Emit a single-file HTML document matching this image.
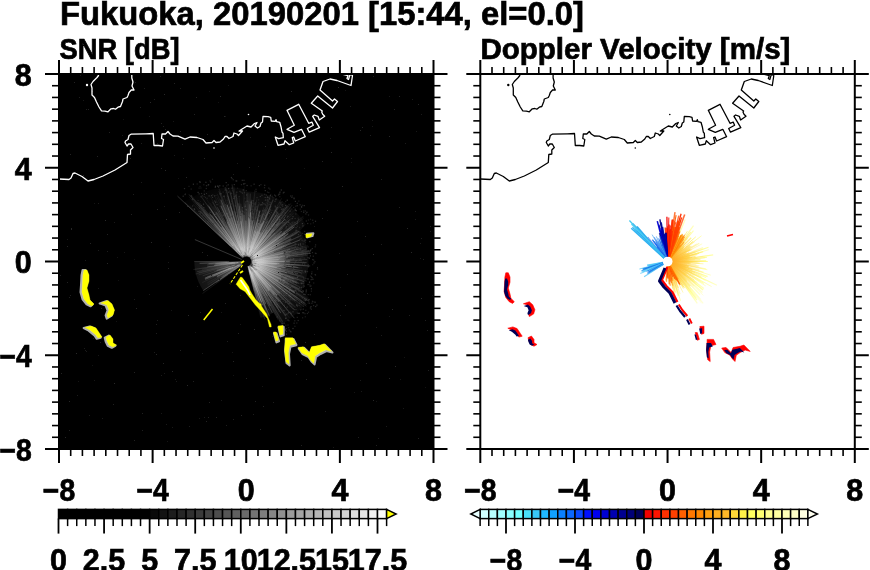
<!DOCTYPE html><html><head><meta charset="utf-8"><style>html,body{margin:0;padding:0;background:#fff;}svg{display:block;will-change:transform}text{font-family:"Liberation Sans",sans-serif;font-weight:bold;fill:#000;stroke:#000;stroke-width:0.7px}</style></head><body>
<svg width="870" height="570" viewBox="0 0 870 570">
<rect x="59.0" y="74.0" width="374.5" height="375.0" fill="#000"/>
<defs><radialGradient id="hz" cx="246.4" cy="261.5" r="95" gradientUnits="userSpaceOnUse"><stop offset="0" stop-color="#606060" stop-opacity="0.6"/><stop offset="0.3" stop-color="#484848" stop-opacity="0.45"/><stop offset="0.65" stop-color="#303030" stop-opacity="0.3"/><stop offset="1" stop-color="#202020" stop-opacity="0"/></radialGradient><radialGradient id="st" cx="246.4" cy="261.5" r="100" gradientUnits="userSpaceOnUse"><stop offset="0" stop-color="#f0f0f0"/><stop offset="0.3" stop-color="#b8b8b8"/><stop offset="0.65" stop-color="#707070"/><stop offset="1" stop-color="#383838"/></radialGradient></defs><polygon points="246.4,261.5 260.4,317.8 262.4,317.3 264.3,316.7 266.2,316.0 268.1,315.3 270.0,314.5 271.8,313.6 273.6,312.7 282.4,323.9 284.6,322.6 286.7,321.2 288.7,319.7 290.7,318.2 292.7,316.7 294.6,315.0 296.4,313.3 298.2,311.5 299.9,309.7 301.6,307.8 303.1,305.8 304.6,303.8 306.1,301.8 307.5,299.7 308.8,297.5 301.1,290.6 302.1,288.7 303.0,286.7 303.9,284.7 304.7,282.7 305.4,280.7 306.0,278.6 306.6,276.5 307.0,274.4 307.5,272.3 307.8,270.1 308.1,268.0 308.2,265.8 308.4,263.7 308.4,261.5 308.4,259.3 308.2,257.2 308.1,255.0 307.8,252.9 307.5,250.7 307.0,248.6 306.6,246.5 306.0,244.4 305.4,242.3 304.7,240.3 303.9,238.3 303.0,236.3 302.1,234.3 301.1,232.4 300.1,230.5 305.8,224.4 304.4,222.4 303.0,220.4 301.6,218.4 300.0,216.5 298.4,214.7 296.8,212.9 295.0,211.1 293.2,209.5 291.4,207.9 289.5,206.3 287.5,204.9 285.5,203.5 283.5,202.1 281.4,200.9 279.3,199.7 277.1,198.6 274.9,197.6 272.6,196.6 270.3,195.7 268.0,194.9 265.7,194.2 263.3,193.6 261.0,193.0 258.6,192.6 256.1,192.2 253.7,191.9 251.3,191.7 248.8,191.5 246.4,191.5 243.9,188.9 241.3,188.5 238.7,188.1 236.0,187.8 233.4,187.6 230.7,187.6 228.0,187.6 225.2,187.7 222.5,187.9 219.7,188.2 217.0,188.6 214.2,189.1 211.4,189.8 208.7,190.5 205.9,191.4 203.2,192.3 200.4,193.4 197.7,194.5 195.1,195.8 192.4,197.2 189.8,198.6 187.2,200.2 184.7,201.9" fill="url(#hz)"/><polygon points="246.4,261.5 194.4,261.5 194.4,263.3 194.5,265.1 194.7,266.9 194.9,268.7 195.2,270.5 195.5,272.3 195.9,274.1 196.4,275.8 196.9,277.6 197.5,279.3 198.2,281.0 198.9,282.7 199.7,284.3 200.5,285.9 201.4,287.5 202.3,289.1 203.3,290.6" fill="url(#hz)"/><g stroke="url(#st)" stroke-linecap="butt"><line x1="249.0" y1="271.4" x2="254.2" y2="291.3" stroke="url(#st)" stroke-width="0.7" stroke-opacity="0.23"/><line x1="249.1" y1="271.6" x2="257.0" y2="301.9" stroke="url(#st)" stroke-width="0.6" stroke-opacity="0.12"/><line x1="249.0" y1="270.9" x2="261.2" y2="314.7" stroke="url(#st)" stroke-width="0.5" stroke-opacity="0.21"/><line x1="248.4" y1="268.6" x2="260.3" y2="310.8" stroke="url(#st)" stroke-width="1.1" stroke-opacity="0.12"/><line x1="248.7" y1="269.1" x2="254.1" y2="287.4" stroke="url(#st)" stroke-width="0.8" stroke-opacity="0.14"/><line x1="247.8" y1="266.5" x2="257.6" y2="300.7" stroke="url(#st)" stroke-width="0.8" stroke-opacity="0.23"/><line x1="248.3" y1="267.8" x2="256.3" y2="294.2" stroke="url(#st)" stroke-width="0.8" stroke-opacity="0.16"/><line x1="249.2" y1="270.6" x2="254.3" y2="287.1" stroke="url(#st)" stroke-width="0.9" stroke-opacity="0.14"/><line x1="251.1" y1="276.2" x2="264.8" y2="319.3" stroke="url(#st)" stroke-width="0.7" stroke-opacity="0.35"/><line x1="250.9" y1="275.3" x2="262.1" y2="309.9" stroke="url(#st)" stroke-width="1.1" stroke-opacity="0.32"/><line x1="249.5" y1="270.3" x2="258.5" y2="296.1" stroke="url(#st)" stroke-width="1.1" stroke-opacity="0.23"/><line x1="248.1" y1="266.5" x2="261.4" y2="305.6" stroke="url(#st)" stroke-width="1.1" stroke-opacity="0.2"/><line x1="249.3" y1="269.5" x2="257.4" y2="291.7" stroke="url(#st)" stroke-width="1.0" stroke-opacity="0.18"/><line x1="249.6" y1="270.1" x2="260.6" y2="300.4" stroke="url(#st)" stroke-width="0.9" stroke-opacity="0.19"/><line x1="248.2" y1="266.4" x2="261.4" y2="302.0" stroke="url(#st)" stroke-width="1.0" stroke-opacity="0.55"/><line x1="249.4" y1="269.6" x2="262.7" y2="305.3" stroke="url(#st)" stroke-width="0.9" stroke-opacity="0.55"/><line x1="250.4" y1="271.4" x2="266.2" y2="310.6" stroke="url(#st)" stroke-width="0.7" stroke-opacity="0.24"/><line x1="250.8" y1="272.5" x2="268.2" y2="316.6" stroke="url(#st)" stroke-width="0.7" stroke-opacity="0.26"/><line x1="248.4" y1="266.2" x2="269.4" y2="316.3" stroke="url(#st)" stroke-width="1.1" stroke-opacity="0.47"/><line x1="251.5" y1="273.9" x2="266.3" y2="309.4" stroke="url(#st)" stroke-width="0.9" stroke-opacity="0.2"/><line x1="250.3" y1="270.6" x2="257.6" y2="287.2" stroke="url(#st)" stroke-width="0.6" stroke-opacity="0.23"/><line x1="249.6" y1="268.9" x2="263.4" y2="301.0" stroke="url(#st)" stroke-width="0.9" stroke-opacity="0.29"/><line x1="250.2" y1="270.0" x2="265.6" y2="304.8" stroke="url(#st)" stroke-width="0.7" stroke-opacity="0.13"/><line x1="251.8" y1="273.3" x2="265.7" y2="303.7" stroke="url(#st)" stroke-width="1.1" stroke-opacity="0.42"/><line x1="251.1" y1="271.3" x2="261.4" y2="293.1" stroke="url(#st)" stroke-width="0.6" stroke-opacity="0.12"/><line x1="250.2" y1="269.7" x2="257.7" y2="285.6" stroke="url(#st)" stroke-width="0.6" stroke-opacity="0.3"/><line x1="248.8" y1="266.5" x2="263.0" y2="295.8" stroke="url(#st)" stroke-width="0.9" stroke-opacity="0.13"/><line x1="250.8" y1="270.5" x2="262.1" y2="293.5" stroke="url(#st)" stroke-width="0.7" stroke-opacity="0.22"/><line x1="249.6" y1="267.8" x2="258.6" y2="285.5" stroke="url(#st)" stroke-width="0.6" stroke-opacity="0.13"/><line x1="251.3" y1="271.2" x2="272.3" y2="312.8" stroke="url(#st)" stroke-width="0.9" stroke-opacity="0.42"/><line x1="248.8" y1="266.0" x2="258.8" y2="285.3" stroke="url(#st)" stroke-width="1.0" stroke-opacity="0.13"/><line x1="252.0" y1="272.0" x2="270.2" y2="306.2" stroke="url(#st)" stroke-width="0.7" stroke-opacity="0.55"/><line x1="252.1" y1="272.0" x2="278.4" y2="320.2" stroke="url(#st)" stroke-width="1.0" stroke-opacity="0.19"/><line x1="250.6" y1="269.1" x2="274.1" y2="311.6" stroke="url(#st)" stroke-width="0.5" stroke-opacity="0.16"/><line x1="255.3" y1="277.2" x2="283.0" y2="326.0" stroke="url(#st)" stroke-width="1.1" stroke-opacity="0.16"/><line x1="254.3" y1="275.3" x2="282.5" y2="324.9" stroke="url(#st)" stroke-width="0.7" stroke-opacity="0.12"/><line x1="249.2" y1="266.2" x2="282.6" y2="321.9" stroke="url(#st)" stroke-width="1.2" stroke-opacity="0.27"/><line x1="252.5" y1="271.7" x2="266.9" y2="295.6" stroke="url(#st)" stroke-width="1.0" stroke-opacity="0.24"/><line x1="250.8" y1="268.7" x2="271.7" y2="303.1" stroke="url(#st)" stroke-width="1.0" stroke-opacity="0.2"/><line x1="249.5" y1="266.5" x2="267.8" y2="296.2" stroke="url(#st)" stroke-width="0.7" stroke-opacity="0.23"/><line x1="253.5" y1="272.5" x2="271.6" y2="300.5" stroke="url(#st)" stroke-width="0.5" stroke-opacity="0.14"/><line x1="254.1" y1="273.4" x2="271.6" y2="300.7" stroke="url(#st)" stroke-width="0.7" stroke-opacity="0.14"/><line x1="254.9" y1="274.2" x2="280.6" y2="312.7" stroke="url(#st)" stroke-width="0.7" stroke-opacity="0.47"/><line x1="252.5" y1="270.7" x2="280.9" y2="313.1" stroke="url(#st)" stroke-width="0.7" stroke-opacity="0.36"/><line x1="249.9" y1="266.6" x2="266.9" y2="291.2" stroke="url(#st)" stroke-width="0.6" stroke-opacity="0.38"/><line x1="254.7" y1="273.8" x2="279.1" y2="309.8" stroke="url(#st)" stroke-width="0.7" stroke-opacity="0.16"/><line x1="254.2" y1="272.4" x2="287.0" y2="318.3" stroke="url(#st)" stroke-width="1.1" stroke-opacity="0.13"/><line x1="249.9" y1="266.6" x2="278.4" y2="307.7" stroke="url(#st)" stroke-width="0.6" stroke-opacity="0.46"/><line x1="255.8" y1="274.5" x2="285.4" y2="315.3" stroke="url(#st)" stroke-width="0.9" stroke-opacity="0.4"/><line x1="252.6" y1="270.1" x2="274.9" y2="301.0" stroke="url(#st)" stroke-width="0.6" stroke-opacity="0.15"/><line x1="254.3" y1="271.8" x2="289.4" y2="317.9" stroke="url(#st)" stroke-width="0.8" stroke-opacity="0.15"/><line x1="255.9" y1="274.4" x2="285.9" y2="314.9" stroke="url(#st)" stroke-width="1.0" stroke-opacity="0.12"/><line x1="253.5" y1="270.7" x2="269.1" y2="291.2" stroke="url(#st)" stroke-width="0.7" stroke-opacity="0.56"/><line x1="250.2" y1="266.4" x2="277.2" y2="301.6" stroke="url(#st)" stroke-width="0.7" stroke-opacity="0.37"/><line x1="253.7" y1="270.6" x2="269.4" y2="290.3" stroke="url(#st)" stroke-width="1.2" stroke-opacity="0.49"/><line x1="251.0" y1="267.2" x2="274.6" y2="296.7" stroke="url(#st)" stroke-width="0.6" stroke-opacity="0.31"/><line x1="249.7" y1="265.4" x2="268.4" y2="287.6" stroke="url(#st)" stroke-width="0.7" stroke-opacity="0.28"/><line x1="251.6" y1="267.9" x2="279.2" y2="301.6" stroke="url(#st)" stroke-width="1.1" stroke-opacity="0.54"/><line x1="250.7" y1="266.6" x2="294.4" y2="318.2" stroke="url(#st)" stroke-width="0.9" stroke-opacity="0.55"/><line x1="254.7" y1="271.1" x2="282.8" y2="303.8" stroke="url(#st)" stroke-width="0.7" stroke-opacity="0.25"/><line x1="251.2" y1="267.0" x2="276.4" y2="295.9" stroke="url(#st)" stroke-width="0.7" stroke-opacity="0.56"/><line x1="254.2" y1="270.3" x2="280.7" y2="300.2" stroke="url(#st)" stroke-width="1.2" stroke-opacity="0.19"/><line x1="251.8" y1="267.4" x2="277.1" y2="295.3" stroke="url(#st)" stroke-width="1.1" stroke-opacity="0.48"/><line x1="251.8" y1="267.4" x2="277.1" y2="295.1" stroke="url(#st)" stroke-width="0.9" stroke-opacity="0.28"/><line x1="249.9" y1="265.3" x2="275.7" y2="292.9" stroke="url(#st)" stroke-width="0.6" stroke-opacity="0.26"/><line x1="250.2" y1="265.5" x2="270.8" y2="287.3" stroke="url(#st)" stroke-width="0.7" stroke-opacity="0.4"/><line x1="256.3" y1="271.8" x2="283.6" y2="300.2" stroke="url(#st)" stroke-width="0.9" stroke-opacity="0.4"/><line x1="254.6" y1="270.0" x2="271.2" y2="287.3" stroke="url(#st)" stroke-width="1.0" stroke-opacity="0.56"/><line x1="253.0" y1="268.1" x2="294.2" y2="309.8" stroke="url(#st)" stroke-width="0.9" stroke-opacity="0.5"/><line x1="255.6" y1="270.8" x2="278.1" y2="293.5" stroke="url(#st)" stroke-width="1.1" stroke-opacity="0.12"/><line x1="256.0" y1="270.7" x2="279.7" y2="293.4" stroke="url(#st)" stroke-width="1.1" stroke-opacity="0.44"/><line x1="256.4" y1="271.2" x2="292.6" y2="306.7" stroke="url(#st)" stroke-width="0.8" stroke-opacity="0.13"/><line x1="256.2" y1="270.7" x2="292.4" y2="305.0" stroke="url(#st)" stroke-width="0.5" stroke-opacity="0.54"/><line x1="255.4" y1="270.0" x2="295.5" y2="307.5" stroke="url(#st)" stroke-width="1.1" stroke-opacity="0.21"/><line x1="252.6" y1="267.1" x2="282.9" y2="294.9" stroke="url(#st)" stroke-width="0.5" stroke-opacity="0.31"/><line x1="254.3" y1="268.8" x2="283.5" y2="295.6" stroke="url(#st)" stroke-width="0.7" stroke-opacity="0.13"/><line x1="251.6" y1="266.1" x2="274.9" y2="286.3" stroke="url(#st)" stroke-width="0.8" stroke-opacity="0.19"/><line x1="252.2" y1="266.7" x2="290.3" y2="300.7" stroke="url(#st)" stroke-width="0.9" stroke-opacity="0.23"/><line x1="254.3" y1="268.2" x2="292.5" y2="300.6" stroke="url(#st)" stroke-width="1.0" stroke-opacity="0.15"/><line x1="254.1" y1="268.1" x2="287.2" y2="296.6" stroke="url(#st)" stroke-width="0.8" stroke-opacity="0.26"/><line x1="260.3" y1="273.1" x2="301.4" y2="307.3" stroke="url(#st)" stroke-width="1.0" stroke-opacity="0.12"/><line x1="253.1" y1="267.0" x2="273.9" y2="283.9" stroke="url(#st)" stroke-width="0.6" stroke-opacity="0.38"/><line x1="253.8" y1="267.3" x2="301.6" y2="305.4" stroke="url(#st)" stroke-width="1.1" stroke-opacity="0.18"/><line x1="257.5" y1="270.4" x2="295.4" y2="300.6" stroke="url(#st)" stroke-width="1.1" stroke-opacity="0.48"/><line x1="257.0" y1="269.8" x2="304.6" y2="307.0" stroke="url(#st)" stroke-width="0.7" stroke-opacity="0.14"/><line x1="257.1" y1="269.9" x2="291.2" y2="296.7" stroke="url(#st)" stroke-width="1.0" stroke-opacity="0.35"/><line x1="254.3" y1="267.5" x2="284.2" y2="290.1" stroke="url(#st)" stroke-width="1.0" stroke-opacity="0.12"/><line x1="260.1" y1="271.7" x2="306.3" y2="306.2" stroke="url(#st)" stroke-width="0.7" stroke-opacity="0.49"/><line x1="252.1" y1="265.6" x2="306.4" y2="304.6" stroke="url(#st)" stroke-width="1.1" stroke-opacity="0.32"/><line x1="255.0" y1="267.7" x2="297.4" y2="297.9" stroke="url(#st)" stroke-width="1.2" stroke-opacity="0.19"/><line x1="255.2" y1="267.8" x2="301.1" y2="300.3" stroke="url(#st)" stroke-width="0.7" stroke-opacity="0.13"/><line x1="261.7" y1="272.4" x2="304.8" y2="303.0" stroke="url(#st)" stroke-width="0.9" stroke-opacity="0.19"/><line x1="252.4" y1="265.6" x2="277.4" y2="282.7" stroke="url(#st)" stroke-width="1.0" stroke-opacity="0.12"/><line x1="253.5" y1="266.4" x2="279.8" y2="284.5" stroke="url(#st)" stroke-width="0.9" stroke-opacity="0.29"/><line x1="252.9" y1="265.8" x2="303.5" y2="299.2" stroke="url(#st)" stroke-width="0.9" stroke-opacity="0.15"/><line x1="253.0" y1="265.8" x2="294.7" y2="293.0" stroke="url(#st)" stroke-width="1.1" stroke-opacity="0.41"/><line x1="257.5" y1="268.5" x2="309.3" y2="301.4" stroke="url(#st)" stroke-width="1.1" stroke-opacity="0.39"/><line x1="254.3" y1="266.5" x2="294.5" y2="292.2" stroke="url(#st)" stroke-width="0.6" stroke-opacity="0.41"/><line x1="255.5" y1="267.0" x2="278.4" y2="281.0" stroke="url(#st)" stroke-width="1.2" stroke-opacity="0.38"/><line x1="252.4" y1="265.2" x2="309.9" y2="300.3" stroke="url(#st)" stroke-width="0.9" stroke-opacity="0.16"/><line x1="254.0" y1="266.0" x2="293.0" y2="289.0" stroke="url(#st)" stroke-width="0.5" stroke-opacity="0.21"/><line x1="253.4" y1="265.7" x2="291.0" y2="287.9" stroke="url(#st)" stroke-width="1.0" stroke-opacity="0.33"/><line x1="256.8" y1="267.4" x2="293.0" y2="288.1" stroke="url(#st)" stroke-width="0.6" stroke-opacity="0.12"/><line x1="255.4" y1="266.5" x2="285.1" y2="283.2" stroke="url(#st)" stroke-width="1.1" stroke-opacity="0.24"/><line x1="256.0" y1="266.7" x2="303.2" y2="292.3" stroke="url(#st)" stroke-width="0.8" stroke-opacity="0.37"/><line x1="254.2" y1="265.8" x2="302.9" y2="292.9" stroke="url(#st)" stroke-width="0.9" stroke-opacity="0.25"/><line x1="250.8" y1="263.9" x2="282.9" y2="280.8" stroke="url(#st)" stroke-width="0.8" stroke-opacity="0.19"/><line x1="257.0" y1="267.1" x2="299.5" y2="289.3" stroke="url(#st)" stroke-width="1.1" stroke-opacity="0.37"/><line x1="257.0" y1="266.9" x2="287.7" y2="282.4" stroke="url(#st)" stroke-width="1.0" stroke-opacity="0.3"/><line x1="255.7" y1="266.2" x2="284.8" y2="280.9" stroke="url(#st)" stroke-width="1.2" stroke-opacity="0.4"/><line x1="259.1" y1="267.6" x2="299.9" y2="287.3" stroke="url(#st)" stroke-width="0.9" stroke-opacity="0.17"/><line x1="255.7" y1="266.0" x2="280.4" y2="277.9" stroke="url(#st)" stroke-width="0.9" stroke-opacity="0.13"/><line x1="256.1" y1="266.1" x2="299.7" y2="286.6" stroke="url(#st)" stroke-width="0.5" stroke-opacity="0.24"/><line x1="255.2" y1="265.6" x2="296.7" y2="285.2" stroke="url(#st)" stroke-width="1.0" stroke-opacity="0.12"/><line x1="259.0" y1="267.2" x2="289.1" y2="280.6" stroke="url(#st)" stroke-width="0.8" stroke-opacity="0.33"/><line x1="252.9" y1="264.4" x2="292.3" y2="282.4" stroke="url(#st)" stroke-width="1.1" stroke-opacity="0.15"/><line x1="255.7" y1="265.5" x2="274.6" y2="273.7" stroke="url(#st)" stroke-width="0.8" stroke-opacity="0.24"/><line x1="252.7" y1="264.2" x2="297.2" y2="283.3" stroke="url(#st)" stroke-width="1.0" stroke-opacity="0.42"/><line x1="255.3" y1="265.2" x2="281.4" y2="276.1" stroke="url(#st)" stroke-width="0.9" stroke-opacity="0.13"/><line x1="260.2" y1="267.2" x2="299.3" y2="283.5" stroke="url(#st)" stroke-width="0.7" stroke-opacity="0.54"/><line x1="259.5" y1="266.8" x2="296.7" y2="281.8" stroke="url(#st)" stroke-width="1.1" stroke-opacity="0.29"/><line x1="254.2" y1="264.6" x2="283.4" y2="275.9" stroke="url(#st)" stroke-width="1.0" stroke-opacity="0.14"/><line x1="252.7" y1="263.8" x2="294.4" y2="279.2" stroke="url(#st)" stroke-width="0.8" stroke-opacity="0.5"/><line x1="257.3" y1="265.7" x2="297.8" y2="281.1" stroke="url(#st)" stroke-width="0.9" stroke-opacity="0.13"/><line x1="255.5" y1="264.8" x2="277.5" y2="272.7" stroke="url(#st)" stroke-width="1.0" stroke-opacity="0.15"/><line x1="258.5" y1="265.9" x2="297.7" y2="280.1" stroke="url(#st)" stroke-width="0.6" stroke-opacity="0.19"/><line x1="252.0" y1="263.4" x2="290.1" y2="276.6" stroke="url(#st)" stroke-width="0.5" stroke-opacity="0.28"/><line x1="253.6" y1="264.0" x2="304.0" y2="281.6" stroke="url(#st)" stroke-width="1.0" stroke-opacity="0.42"/><line x1="258.6" y1="265.5" x2="307.0" y2="281.3" stroke="url(#st)" stroke-width="1.1" stroke-opacity="0.13"/><line x1="252.1" y1="263.4" x2="297.4" y2="278.1" stroke="url(#st)" stroke-width="0.8" stroke-opacity="0.18"/><line x1="252.7" y1="263.4" x2="279.1" y2="271.4" stroke="url(#st)" stroke-width="0.8" stroke-opacity="0.27"/><line x1="256.1" y1="264.5" x2="280.6" y2="272.1" stroke="url(#st)" stroke-width="0.9" stroke-opacity="0.49"/><line x1="251.8" y1="263.0" x2="308.8" y2="279.3" stroke="url(#st)" stroke-width="1.1" stroke-opacity="0.17"/><line x1="255.9" y1="264.2" x2="287.0" y2="273.0" stroke="url(#st)" stroke-width="0.8" stroke-opacity="0.47"/><line x1="252.9" y1="263.2" x2="300.6" y2="275.9" stroke="url(#st)" stroke-width="0.5" stroke-opacity="0.13"/><line x1="251.8" y1="263.0" x2="297.2" y2="275.4" stroke="url(#st)" stroke-width="0.6" stroke-opacity="0.22"/><line x1="261.6" y1="265.5" x2="303.6" y2="276.6" stroke="url(#st)" stroke-width="0.5" stroke-opacity="0.44"/><line x1="252.8" y1="263.2" x2="274.9" y2="269.0" stroke="url(#st)" stroke-width="0.6" stroke-opacity="0.12"/><line x1="258.7" y1="264.4" x2="296.6" y2="273.4" stroke="url(#st)" stroke-width="1.1" stroke-opacity="0.32"/><line x1="256.5" y1="263.8" x2="287.7" y2="271.1" stroke="url(#st)" stroke-width="0.9" stroke-opacity="0.15"/><line x1="256.8" y1="263.8" x2="275.8" y2="268.0" stroke="url(#st)" stroke-width="0.7" stroke-opacity="0.28"/><line x1="256.2" y1="263.8" x2="293.9" y2="272.4" stroke="url(#st)" stroke-width="0.7" stroke-opacity="0.2"/><line x1="257.4" y1="263.8" x2="281.0" y2="268.7" stroke="url(#st)" stroke-width="1.0" stroke-opacity="0.35"/><line x1="259.2" y1="264.1" x2="300.8" y2="272.5" stroke="url(#st)" stroke-width="0.7" stroke-opacity="0.55"/><line x1="257.4" y1="263.5" x2="279.4" y2="267.6" stroke="url(#st)" stroke-width="1.1" stroke-opacity="0.12"/><line x1="256.3" y1="263.4" x2="277.1" y2="267.4" stroke="url(#st)" stroke-width="0.8" stroke-opacity="0.56"/><line x1="254.4" y1="262.9" x2="275.4" y2="266.6" stroke="url(#st)" stroke-width="0.6" stroke-opacity="0.19"/><line x1="260.7" y1="264.1" x2="299.8" y2="271.2" stroke="url(#st)" stroke-width="0.9" stroke-opacity="0.12"/><line x1="252.3" y1="262.5" x2="303.3" y2="270.9" stroke="url(#st)" stroke-width="0.8" stroke-opacity="0.36"/><line x1="252.4" y1="262.4" x2="285.5" y2="267.5" stroke="url(#st)" stroke-width="1.1" stroke-opacity="0.45"/><line x1="254.6" y1="262.7" x2="285.2" y2="267.1" stroke="url(#st)" stroke-width="0.9" stroke-opacity="0.17"/><line x1="257.6" y1="263.0" x2="286.5" y2="266.9" stroke="url(#st)" stroke-width="0.9" stroke-opacity="0.12"/><line x1="256.0" y1="262.6" x2="298.2" y2="267.6" stroke="url(#st)" stroke-width="1.0" stroke-opacity="0.43"/><line x1="257.1" y1="262.8" x2="300.0" y2="267.9" stroke="url(#st)" stroke-width="1.1" stroke-opacity="0.16"/><line x1="253.9" y1="262.3" x2="279.9" y2="265.2" stroke="url(#st)" stroke-width="0.6" stroke-opacity="0.17"/><line x1="251.8" y1="262.1" x2="295.4" y2="266.6" stroke="url(#st)" stroke-width="1.0" stroke-opacity="0.16"/><line x1="254.1" y1="262.2" x2="285.2" y2="265.2" stroke="url(#st)" stroke-width="1.0" stroke-opacity="0.23"/><line x1="252.8" y1="262.1" x2="293.7" y2="265.6" stroke="url(#st)" stroke-width="0.7" stroke-opacity="0.17"/><line x1="257.3" y1="262.4" x2="276.8" y2="263.9" stroke="url(#st)" stroke-width="1.1" stroke-opacity="0.51"/><line x1="261.8" y1="262.6" x2="310.2" y2="266.0" stroke="url(#st)" stroke-width="1.1" stroke-opacity="0.41"/><line x1="254.8" y1="262.0" x2="279.2" y2="263.5" stroke="url(#st)" stroke-width="1.2" stroke-opacity="0.4"/><line x1="259.4" y1="262.3" x2="300.3" y2="265.0" stroke="url(#st)" stroke-width="1.2" stroke-opacity="0.31"/><line x1="255.4" y1="261.8" x2="289.2" y2="263.2" stroke="url(#st)" stroke-width="0.9" stroke-opacity="0.13"/><line x1="256.0" y1="261.9" x2="279.8" y2="263.0" stroke="url(#st)" stroke-width="1.1" stroke-opacity="0.14"/><line x1="257.7" y1="261.9" x2="289.6" y2="263.1" stroke="url(#st)" stroke-width="0.6" stroke-opacity="0.25"/><line x1="252.2" y1="261.7" x2="284.2" y2="262.8" stroke="url(#st)" stroke-width="0.9" stroke-opacity="0.24"/><line x1="251.8" y1="261.6" x2="277.2" y2="261.8" stroke="url(#st)" stroke-width="1.0" stroke-opacity="0.13"/><line x1="251.7" y1="261.6" x2="306.4" y2="262.5" stroke="url(#st)" stroke-width="1.1" stroke-opacity="0.35"/><line x1="258.3" y1="261.5" x2="284.9" y2="261.4" stroke="url(#st)" stroke-width="1.1" stroke-opacity="0.48"/><line x1="257.3" y1="261.5" x2="290.1" y2="261.4" stroke="url(#st)" stroke-width="1.2" stroke-opacity="0.41"/><line x1="260.3" y1="261.2" x2="301.3" y2="260.2" stroke="url(#st)" stroke-width="0.7" stroke-opacity="0.14"/><line x1="260.0" y1="261.3" x2="302.1" y2="260.6" stroke="url(#st)" stroke-width="0.8" stroke-opacity="0.19"/><line x1="261.1" y1="261.0" x2="307.1" y2="259.5" stroke="url(#st)" stroke-width="0.5" stroke-opacity="0.45"/><line x1="253.1" y1="261.3" x2="291.3" y2="260.2" stroke="url(#st)" stroke-width="1.0" stroke-opacity="0.12"/><line x1="253.3" y1="261.1" x2="278.7" y2="259.8" stroke="url(#st)" stroke-width="1.0" stroke-opacity="0.54"/><line x1="256.9" y1="261.0" x2="294.4" y2="259.2" stroke="url(#st)" stroke-width="0.9" stroke-opacity="0.25"/><line x1="262.5" y1="260.5" x2="304.6" y2="257.9" stroke="url(#st)" stroke-width="0.9" stroke-opacity="0.16"/><line x1="255.3" y1="260.9" x2="285.4" y2="259.0" stroke="url(#st)" stroke-width="0.9" stroke-opacity="0.55"/><line x1="255.7" y1="260.7" x2="280.2" y2="258.5" stroke="url(#st)" stroke-width="1.0" stroke-opacity="0.26"/><line x1="254.7" y1="260.8" x2="287.8" y2="257.9" stroke="url(#st)" stroke-width="1.1" stroke-opacity="0.32"/><line x1="262.7" y1="259.9" x2="307.4" y2="255.3" stroke="url(#st)" stroke-width="0.8" stroke-opacity="0.22"/><line x1="255.6" y1="260.6" x2="303.6" y2="255.8" stroke="url(#st)" stroke-width="0.8" stroke-opacity="0.17"/><line x1="252.4" y1="260.8" x2="291.0" y2="256.6" stroke="url(#st)" stroke-width="0.8" stroke-opacity="0.12"/><line x1="253.1" y1="260.7" x2="280.5" y2="257.5" stroke="url(#st)" stroke-width="0.9" stroke-opacity="0.16"/><line x1="254.7" y1="260.4" x2="310.9" y2="253.3" stroke="url(#st)" stroke-width="1.0" stroke-opacity="0.34"/><line x1="258.1" y1="260.0" x2="290.1" y2="256.0" stroke="url(#st)" stroke-width="1.0" stroke-opacity="0.23"/><line x1="260.4" y1="259.6" x2="309.8" y2="252.8" stroke="url(#st)" stroke-width="0.6" stroke-opacity="0.54"/><line x1="251.5" y1="260.8" x2="282.5" y2="256.5" stroke="url(#st)" stroke-width="0.8" stroke-opacity="0.53"/><line x1="257.4" y1="259.7" x2="288.6" y2="254.6" stroke="url(#st)" stroke-width="0.6" stroke-opacity="0.29"/><line x1="258.4" y1="259.6" x2="310.5" y2="251.2" stroke="url(#st)" stroke-width="0.7" stroke-opacity="0.52"/><line x1="252.6" y1="260.4" x2="309.4" y2="250.4" stroke="url(#st)" stroke-width="0.8" stroke-opacity="0.32"/><line x1="253.0" y1="260.4" x2="278.2" y2="256.0" stroke="url(#st)" stroke-width="0.8" stroke-opacity="0.4"/><line x1="260.5" y1="258.7" x2="305.1" y2="250.1" stroke="url(#st)" stroke-width="0.6" stroke-opacity="0.19"/><line x1="254.4" y1="260.0" x2="298.2" y2="251.6" stroke="url(#st)" stroke-width="1.1" stroke-opacity="0.13"/><line x1="252.5" y1="260.2" x2="304.8" y2="249.5" stroke="url(#st)" stroke-width="1.1" stroke-opacity="0.14"/><line x1="255.1" y1="259.6" x2="292.6" y2="251.6" stroke="url(#st)" stroke-width="1.2" stroke-opacity="0.16"/><line x1="259.3" y1="258.6" x2="291.5" y2="251.3" stroke="url(#st)" stroke-width="0.7" stroke-opacity="0.38"/><line x1="255.1" y1="259.6" x2="285.9" y2="252.9" stroke="url(#st)" stroke-width="1.2" stroke-opacity="0.31"/><line x1="263.0" y1="257.6" x2="307.1" y2="247.1" stroke="url(#st)" stroke-width="0.9" stroke-opacity="0.21"/><line x1="260.5" y1="258.2" x2="301.1" y2="248.6" stroke="url(#st)" stroke-width="0.7" stroke-opacity="0.34"/><line x1="252.3" y1="260.0" x2="288.3" y2="250.9" stroke="url(#st)" stroke-width="0.9" stroke-opacity="0.28"/><line x1="257.8" y1="258.5" x2="308.0" y2="245.5" stroke="url(#st)" stroke-width="0.6" stroke-opacity="0.2"/><line x1="256.4" y1="258.8" x2="283.4" y2="251.5" stroke="url(#st)" stroke-width="0.7" stroke-opacity="0.18"/><line x1="254.2" y1="259.4" x2="290.2" y2="249.4" stroke="url(#st)" stroke-width="0.6" stroke-opacity="0.47"/><line x1="256.7" y1="258.6" x2="298.1" y2="246.8" stroke="url(#st)" stroke-width="0.7" stroke-opacity="0.33"/><line x1="259.3" y1="257.7" x2="296.1" y2="246.7" stroke="url(#st)" stroke-width="0.7" stroke-opacity="0.23"/><line x1="252.2" y1="259.8" x2="284.9" y2="249.9" stroke="url(#st)" stroke-width="0.7" stroke-opacity="0.12"/><line x1="257.6" y1="258.0" x2="292.2" y2="247.3" stroke="url(#st)" stroke-width="1.0" stroke-opacity="0.14"/><line x1="254.9" y1="258.7" x2="279.9" y2="250.4" stroke="url(#st)" stroke-width="0.8" stroke-opacity="0.12"/><line x1="252.8" y1="259.4" x2="273.6" y2="252.6" stroke="url(#st)" stroke-width="0.6" stroke-opacity="0.14"/><line x1="261.1" y1="256.5" x2="296.8" y2="244.3" stroke="url(#st)" stroke-width="0.9" stroke-opacity="0.24"/><line x1="252.9" y1="259.3" x2="273.7" y2="252.3" stroke="url(#st)" stroke-width="0.7" stroke-opacity="0.39"/><line x1="251.5" y1="259.7" x2="296.6" y2="243.8" stroke="url(#st)" stroke-width="1.0" stroke-opacity="0.12"/><line x1="253.1" y1="259.1" x2="283.8" y2="248.3" stroke="url(#st)" stroke-width="0.5" stroke-opacity="0.13"/><line x1="258.5" y1="256.9" x2="286.3" y2="246.3" stroke="url(#st)" stroke-width="0.7" stroke-opacity="0.33"/><line x1="254.8" y1="258.4" x2="282.0" y2="248.1" stroke="url(#st)" stroke-width="1.2" stroke-opacity="0.18"/><line x1="257.9" y1="256.9" x2="300.0" y2="239.9" stroke="url(#st)" stroke-width="0.9" stroke-opacity="0.46"/><line x1="256.5" y1="257.5" x2="286.3" y2="245.6" stroke="url(#st)" stroke-width="0.9" stroke-opacity="0.26"/><line x1="254.5" y1="258.1" x2="290.5" y2="242.9" stroke="url(#st)" stroke-width="0.9" stroke-opacity="0.26"/><line x1="253.8" y1="258.5" x2="274.1" y2="250.2" stroke="url(#st)" stroke-width="0.7" stroke-opacity="0.2"/><line x1="253.2" y1="258.6" x2="290.7" y2="242.5" stroke="url(#st)" stroke-width="0.9" stroke-opacity="0.22"/><line x1="251.8" y1="259.2" x2="285.8" y2="244.5" stroke="url(#st)" stroke-width="1.0" stroke-opacity="0.25"/><line x1="258.3" y1="256.0" x2="290.2" y2="241.5" stroke="url(#st)" stroke-width="1.0" stroke-opacity="0.12"/><line x1="255.9" y1="257.3" x2="282.3" y2="245.5" stroke="url(#st)" stroke-width="1.1" stroke-opacity="0.13"/><line x1="253.3" y1="258.2" x2="301.1" y2="235.4" stroke="url(#st)" stroke-width="1.1" stroke-opacity="0.17"/><line x1="252.7" y1="258.5" x2="301.4" y2="235.2" stroke="url(#st)" stroke-width="0.8" stroke-opacity="0.21"/><line x1="254.4" y1="257.6" x2="275.4" y2="247.4" stroke="url(#st)" stroke-width="1.0" stroke-opacity="0.41"/><line x1="250.9" y1="259.2" x2="291.4" y2="239.0" stroke="url(#st)" stroke-width="1.1" stroke-opacity="0.31"/><line x1="255.0" y1="257.0" x2="283.7" y2="242.2" stroke="url(#st)" stroke-width="0.8" stroke-opacity="0.39"/><line x1="254.6" y1="257.2" x2="290.9" y2="238.4" stroke="url(#st)" stroke-width="0.8" stroke-opacity="0.29"/><line x1="253.3" y1="257.9" x2="272.9" y2="247.7" stroke="url(#st)" stroke-width="1.0" stroke-opacity="0.12"/><line x1="251.4" y1="258.9" x2="272.5" y2="247.8" stroke="url(#st)" stroke-width="0.9" stroke-opacity="0.18"/><line x1="257.3" y1="255.4" x2="279.5" y2="243.0" stroke="url(#st)" stroke-width="1.0" stroke-opacity="0.41"/><line x1="253.3" y1="257.7" x2="297.4" y2="233.1" stroke="url(#st)" stroke-width="0.7" stroke-opacity="0.26"/><line x1="251.9" y1="258.3" x2="282.1" y2="240.9" stroke="url(#st)" stroke-width="1.1" stroke-opacity="0.16"/><line x1="254.4" y1="256.9" x2="299.0" y2="231.3" stroke="url(#st)" stroke-width="1.2" stroke-opacity="0.39"/><line x1="253.2" y1="257.5" x2="275.5" y2="244.3" stroke="url(#st)" stroke-width="0.7" stroke-opacity="0.42"/><line x1="256.7" y1="255.4" x2="289.4" y2="235.9" stroke="url(#st)" stroke-width="0.9" stroke-opacity="0.12"/><line x1="259.8" y1="253.4" x2="297.5" y2="230.5" stroke="url(#st)" stroke-width="0.9" stroke-opacity="0.23"/><line x1="256.2" y1="255.4" x2="285.3" y2="237.2" stroke="url(#st)" stroke-width="0.5" stroke-opacity="0.48"/><line x1="257.4" y1="254.6" x2="286.7" y2="236.2" stroke="url(#st)" stroke-width="1.0" stroke-opacity="0.12"/><line x1="258.1" y1="254.0" x2="284.8" y2="236.9" stroke="url(#st)" stroke-width="1.0" stroke-opacity="0.22"/><line x1="254.8" y1="255.9" x2="289.1" y2="233.1" stroke="url(#st)" stroke-width="1.0" stroke-opacity="0.14"/><line x1="255.1" y1="255.8" x2="288.1" y2="234.0" stroke="url(#st)" stroke-width="1.1" stroke-opacity="0.44"/><line x1="252.9" y1="257.1" x2="277.8" y2="240.4" stroke="url(#st)" stroke-width="0.5" stroke-opacity="0.12"/><line x1="255.5" y1="255.3" x2="278.7" y2="239.4" stroke="url(#st)" stroke-width="1.1" stroke-opacity="0.16"/><line x1="256.5" y1="254.3" x2="277.4" y2="239.4" stroke="url(#st)" stroke-width="1.2" stroke-opacity="0.12"/><line x1="255.5" y1="255.1" x2="285.7" y2="233.6" stroke="url(#st)" stroke-width="1.1" stroke-opacity="0.25"/><line x1="250.5" y1="258.5" x2="285.0" y2="233.1" stroke="url(#st)" stroke-width="1.2" stroke-opacity="0.49"/><line x1="253.7" y1="256.2" x2="294.5" y2="226.8" stroke="url(#st)" stroke-width="1.0" stroke-opacity="0.51"/><line x1="252.4" y1="257.0" x2="303.7" y2="218.2" stroke="url(#st)" stroke-width="0.9" stroke-opacity="0.2"/><line x1="260.1" y1="251.1" x2="298.1" y2="222.3" stroke="url(#st)" stroke-width="1.0" stroke-opacity="0.33"/><line x1="255.4" y1="254.6" x2="293.1" y2="225.5" stroke="url(#st)" stroke-width="1.0" stroke-opacity="0.13"/><line x1="253.9" y1="255.6" x2="292.6" y2="225.5" stroke="url(#st)" stroke-width="0.9" stroke-opacity="0.22"/><line x1="253.0" y1="256.2" x2="303.4" y2="216.5" stroke="url(#st)" stroke-width="1.2" stroke-opacity="0.16"/><line x1="253.1" y1="256.1" x2="280.0" y2="234.4" stroke="url(#st)" stroke-width="1.2" stroke-opacity="0.35"/><line x1="253.9" y1="255.3" x2="281.0" y2="232.9" stroke="url(#st)" stroke-width="0.9" stroke-opacity="0.2"/><line x1="252.6" y1="256.4" x2="276.1" y2="237.0" stroke="url(#st)" stroke-width="0.6" stroke-opacity="0.42"/><line x1="251.3" y1="257.3" x2="281.8" y2="231.2" stroke="url(#st)" stroke-width="1.1" stroke-opacity="0.39"/><line x1="256.6" y1="252.8" x2="290.3" y2="224.1" stroke="url(#st)" stroke-width="0.6" stroke-opacity="0.15"/><line x1="252.1" y1="256.5" x2="281.0" y2="231.0" stroke="url(#st)" stroke-width="0.6" stroke-opacity="0.13"/><line x1="251.4" y1="257.1" x2="277.8" y2="233.5" stroke="url(#st)" stroke-width="0.9" stroke-opacity="0.14"/><line x1="256.5" y1="252.3" x2="283.0" y2="228.1" stroke="url(#st)" stroke-width="0.9" stroke-opacity="0.19"/><line x1="253.8" y1="254.8" x2="275.9" y2="234.9" stroke="url(#st)" stroke-width="1.1" stroke-opacity="0.12"/><line x1="253.5" y1="254.8" x2="292.1" y2="218.3" stroke="url(#st)" stroke-width="0.9" stroke-opacity="0.13"/><line x1="250.6" y1="257.5" x2="286.0" y2="224.6" stroke="url(#st)" stroke-width="0.8" stroke-opacity="0.16"/><line x1="258.4" y1="249.9" x2="289.0" y2="220.3" stroke="url(#st)" stroke-width="1.1" stroke-opacity="0.14"/><line x1="253.0" y1="255.0" x2="290.4" y2="218.8" stroke="url(#st)" stroke-width="0.6" stroke-opacity="0.43"/><line x1="252.6" y1="255.3" x2="274.9" y2="233.1" stroke="url(#st)" stroke-width="1.1" stroke-opacity="0.28"/><line x1="256.1" y1="251.9" x2="287.1" y2="221.1" stroke="url(#st)" stroke-width="0.5" stroke-opacity="0.43"/><line x1="254.9" y1="252.6" x2="277.3" y2="229.1" stroke="url(#st)" stroke-width="0.9" stroke-opacity="0.12"/><line x1="255.8" y1="251.8" x2="293.4" y2="213.3" stroke="url(#st)" stroke-width="0.6" stroke-opacity="0.24"/><line x1="254.3" y1="253.0" x2="271.3" y2="234.7" stroke="url(#st)" stroke-width="1.1" stroke-opacity="0.19"/><line x1="251.1" y1="256.5" x2="294.3" y2="210.1" stroke="url(#st)" stroke-width="0.7" stroke-opacity="0.12"/><line x1="250.7" y1="256.7" x2="270.9" y2="234.3" stroke="url(#st)" stroke-width="0.8" stroke-opacity="0.22"/><line x1="251.8" y1="255.5" x2="284.8" y2="219.0" stroke="url(#st)" stroke-width="1.0" stroke-opacity="0.5"/><line x1="255.6" y1="250.9" x2="280.9" y2="221.7" stroke="url(#st)" stroke-width="1.0" stroke-opacity="0.2"/><line x1="250.2" y1="257.1" x2="274.6" y2="229.1" stroke="url(#st)" stroke-width="0.6" stroke-opacity="0.26"/><line x1="250.0" y1="257.4" x2="279.4" y2="223.2" stroke="url(#st)" stroke-width="1.1" stroke-opacity="0.25"/><line x1="258.0" y1="248.1" x2="292.4" y2="208.3" stroke="url(#st)" stroke-width="1.0" stroke-opacity="0.12"/><line x1="252.3" y1="254.2" x2="277.5" y2="223.3" stroke="url(#st)" stroke-width="0.9" stroke-opacity="0.14"/><line x1="253.1" y1="253.4" x2="280.3" y2="220.9" stroke="url(#st)" stroke-width="0.8" stroke-opacity="0.47"/><line x1="256.7" y1="248.8" x2="292.2" y2="205.0" stroke="url(#st)" stroke-width="1.1" stroke-opacity="0.21"/><line x1="251.0" y1="255.8" x2="288.2" y2="209.8" stroke="url(#st)" stroke-width="1.1" stroke-opacity="0.16"/><line x1="251.5" y1="254.9" x2="266.6" y2="235.0" stroke="url(#st)" stroke-width="1.1" stroke-opacity="0.19"/><line x1="256.5" y1="248.3" x2="290.9" y2="203.4" stroke="url(#st)" stroke-width="1.0" stroke-opacity="0.19"/><line x1="253.3" y1="252.2" x2="287.7" y2="205.6" stroke="url(#st)" stroke-width="0.9" stroke-opacity="0.49"/><line x1="252.0" y1="254.0" x2="277.3" y2="220.2" stroke="url(#st)" stroke-width="0.7" stroke-opacity="0.13"/><line x1="255.0" y1="249.7" x2="279.6" y2="216.1" stroke="url(#st)" stroke-width="1.1" stroke-opacity="0.4"/><line x1="252.4" y1="253.1" x2="283.6" y2="209.3" stroke="url(#st)" stroke-width="1.1" stroke-opacity="0.27"/><line x1="251.7" y1="254.0" x2="267.5" y2="232.0" stroke="url(#st)" stroke-width="1.1" stroke-opacity="0.17"/><line x1="252.2" y1="253.2" x2="273.3" y2="223.0" stroke="url(#st)" stroke-width="0.9" stroke-opacity="0.23"/><line x1="254.7" y1="249.2" x2="279.1" y2="213.4" stroke="url(#st)" stroke-width="0.9" stroke-opacity="0.42"/><line x1="249.8" y1="256.5" x2="264.2" y2="235.4" stroke="url(#st)" stroke-width="0.6" stroke-opacity="0.48"/><line x1="249.6" y1="256.6" x2="267.2" y2="230.0" stroke="url(#st)" stroke-width="0.9" stroke-opacity="0.42"/><line x1="256.0" y1="246.9" x2="286.5" y2="200.1" stroke="url(#st)" stroke-width="0.5" stroke-opacity="0.12"/><line x1="254.2" y1="249.3" x2="277.6" y2="212.6" stroke="url(#st)" stroke-width="1.2" stroke-opacity="0.26"/><line x1="252.8" y1="251.5" x2="276.5" y2="214.7" stroke="url(#st)" stroke-width="0.6" stroke-opacity="0.51"/><line x1="249.4" y1="256.6" x2="268.8" y2="225.1" stroke="url(#st)" stroke-width="1.0" stroke-opacity="0.15"/><line x1="250.2" y1="255.3" x2="267.5" y2="227.1" stroke="url(#st)" stroke-width="1.0" stroke-opacity="0.16"/><line x1="255.6" y1="245.7" x2="280.8" y2="202.6" stroke="url(#st)" stroke-width="0.6" stroke-opacity="0.16"/><line x1="255.2" y1="246.8" x2="282.5" y2="201.1" stroke="url(#st)" stroke-width="0.8" stroke-opacity="0.18"/><line x1="249.1" y1="256.8" x2="277.7" y2="206.9" stroke="url(#st)" stroke-width="1.0" stroke-opacity="0.47"/><line x1="250.8" y1="253.7" x2="262.8" y2="232.6" stroke="url(#st)" stroke-width="1.1" stroke-opacity="0.2"/><line x1="250.2" y1="254.6" x2="281.6" y2="198.3" stroke="url(#st)" stroke-width="0.6" stroke-opacity="0.27"/><line x1="249.8" y1="255.4" x2="264.2" y2="229.5" stroke="url(#st)" stroke-width="0.5" stroke-opacity="0.54"/><line x1="252.8" y1="249.3" x2="267.5" y2="221.1" stroke="url(#st)" stroke-width="0.7" stroke-opacity="0.51"/><line x1="251.7" y1="251.6" x2="261.5" y2="233.4" stroke="url(#st)" stroke-width="0.7" stroke-opacity="0.26"/><line x1="250.9" y1="252.7" x2="261.0" y2="233.2" stroke="url(#st)" stroke-width="1.1" stroke-opacity="0.12"/><line x1="249.7" y1="255.0" x2="270.9" y2="213.7" stroke="url(#st)" stroke-width="0.8" stroke-opacity="0.18"/><line x1="251.4" y1="251.4" x2="267.7" y2="218.5" stroke="url(#st)" stroke-width="0.6" stroke-opacity="0.33"/><line x1="252.2" y1="249.6" x2="265.8" y2="222.0" stroke="url(#st)" stroke-width="0.8" stroke-opacity="0.12"/><line x1="248.8" y1="256.4" x2="260.1" y2="232.2" stroke="url(#st)" stroke-width="1.0" stroke-opacity="0.53"/><line x1="251.5" y1="250.6" x2="267.6" y2="216.6" stroke="url(#st)" stroke-width="0.6" stroke-opacity="0.2"/><line x1="252.4" y1="248.0" x2="271.0" y2="205.7" stroke="url(#st)" stroke-width="1.1" stroke-opacity="0.26"/><line x1="250.7" y1="252.0" x2="268.8" y2="211.7" stroke="url(#st)" stroke-width="1.0" stroke-opacity="0.27"/><line x1="250.8" y1="251.3" x2="273.2" y2="199.5" stroke="url(#st)" stroke-width="1.1" stroke-opacity="0.33"/><line x1="250.7" y1="251.4" x2="267.4" y2="212.3" stroke="url(#st)" stroke-width="0.9" stroke-opacity="0.15"/><line x1="250.4" y1="251.9" x2="263.7" y2="220.5" stroke="url(#st)" stroke-width="0.8" stroke-opacity="0.48"/><line x1="249.7" y1="253.5" x2="262.0" y2="223.3" stroke="url(#st)" stroke-width="1.1" stroke-opacity="0.34"/><line x1="249.9" y1="252.7" x2="267.7" y2="207.8" stroke="url(#st)" stroke-width="0.9" stroke-opacity="0.18"/><line x1="248.3" y1="256.7" x2="269.8" y2="201.4" stroke="url(#st)" stroke-width="1.0" stroke-opacity="0.16"/><line x1="248.9" y1="254.8" x2="257.7" y2="231.4" stroke="url(#st)" stroke-width="1.1" stroke-opacity="0.46"/><line x1="248.4" y1="256.2" x2="260.8" y2="223.9" stroke="url(#st)" stroke-width="1.2" stroke-opacity="0.31"/><line x1="249.7" y1="252.0" x2="258.6" y2="226.7" stroke="url(#st)" stroke-width="0.9" stroke-opacity="0.14"/><line x1="251.6" y1="247.3" x2="271.0" y2="193.9" stroke="url(#st)" stroke-width="1.0" stroke-opacity="0.23"/><line x1="249.4" y1="252.9" x2="264.5" y2="208.9" stroke="url(#st)" stroke-width="0.8" stroke-opacity="0.24"/><line x1="251.0" y1="248.5" x2="263.2" y2="213.5" stroke="url(#st)" stroke-width="0.6" stroke-opacity="0.52"/><line x1="250.1" y1="250.0" x2="263.9" y2="207.2" stroke="url(#st)" stroke-width="0.7" stroke-opacity="0.19"/><line x1="248.3" y1="255.6" x2="258.5" y2="223.0" stroke="url(#st)" stroke-width="1.0" stroke-opacity="0.47"/><line x1="249.2" y1="252.5" x2="255.7" y2="231.4" stroke="url(#st)" stroke-width="0.8" stroke-opacity="0.33"/><line x1="248.6" y1="254.4" x2="256.0" y2="230.1" stroke="url(#st)" stroke-width="1.1" stroke-opacity="0.24"/><line x1="249.3" y1="251.5" x2="258.8" y2="218.4" stroke="url(#st)" stroke-width="0.7" stroke-opacity="0.26"/><line x1="247.8" y1="256.6" x2="258.5" y2="220.1" stroke="url(#st)" stroke-width="0.6" stroke-opacity="0.23"/><line x1="250.1" y1="247.8" x2="260.0" y2="210.7" stroke="url(#st)" stroke-width="1.0" stroke-opacity="0.56"/><line x1="248.6" y1="253.6" x2="257.8" y2="220.4" stroke="url(#st)" stroke-width="0.6" stroke-opacity="0.24"/><line x1="247.9" y1="255.3" x2="259.2" y2="210.1" stroke="url(#st)" stroke-width="1.2" stroke-opacity="0.12"/><line x1="247.7" y1="256.3" x2="254.1" y2="230.8" stroke="url(#st)" stroke-width="1.1" stroke-opacity="0.12"/><line x1="248.4" y1="253.3" x2="253.9" y2="230.5" stroke="url(#st)" stroke-width="0.5" stroke-opacity="0.12"/><line x1="248.0" y1="255.1" x2="255.9" y2="222.3" stroke="url(#st)" stroke-width="0.9" stroke-opacity="0.15"/><line x1="247.8" y1="254.9" x2="255.1" y2="221.1" stroke="url(#st)" stroke-width="0.7" stroke-opacity="0.26"/><line x1="248.2" y1="253.4" x2="257.4" y2="212.2" stroke="url(#st)" stroke-width="0.5" stroke-opacity="0.14"/><line x1="249.3" y1="247.9" x2="258.4" y2="204.4" stroke="url(#st)" stroke-width="0.6" stroke-opacity="0.49"/><line x1="248.5" y1="251.0" x2="253.4" y2="226.6" stroke="url(#st)" stroke-width="0.6" stroke-opacity="0.43"/><line x1="247.4" y1="256.3" x2="253.6" y2="224.4" stroke="url(#st)" stroke-width="0.7" stroke-opacity="0.28"/><line x1="248.8" y1="248.8" x2="255.6" y2="212.3" stroke="url(#st)" stroke-width="0.6" stroke-opacity="0.14"/><line x1="247.5" y1="255.1" x2="256.7" y2="199.5" stroke="url(#st)" stroke-width="1.1" stroke-opacity="0.14"/><line x1="247.6" y1="254.4" x2="253.9" y2="218.6" stroke="url(#st)" stroke-width="0.7" stroke-opacity="0.12"/><line x1="247.4" y1="254.9" x2="253.0" y2="220.0" stroke="url(#st)" stroke-width="0.8" stroke-opacity="0.46"/><line x1="248.2" y1="249.4" x2="255.3" y2="203.0" stroke="url(#st)" stroke-width="0.8" stroke-opacity="0.2"/><line x1="248.0" y1="249.7" x2="252.0" y2="220.1" stroke="url(#st)" stroke-width="1.1" stroke-opacity="0.28"/><line x1="247.1" y1="256.0" x2="251.3" y2="225.6" stroke="url(#st)" stroke-width="1.1" stroke-opacity="0.25"/><line x1="248.6" y1="243.6" x2="254.9" y2="191.8" stroke="url(#st)" stroke-width="0.8" stroke-opacity="0.21"/><line x1="247.5" y1="252.9" x2="252.2" y2="215.6" stroke="url(#st)" stroke-width="0.5" stroke-opacity="0.13"/><line x1="247.4" y1="252.2" x2="250.4" y2="223.1" stroke="url(#st)" stroke-width="1.0" stroke-opacity="0.13"/><line x1="247.7" y1="250.2" x2="252.2" y2="211.1" stroke="url(#st)" stroke-width="0.6" stroke-opacity="0.29"/><line x1="247.4" y1="251.2" x2="250.5" y2="220.3" stroke="url(#st)" stroke-width="1.1" stroke-opacity="0.16"/><line x1="247.3" y1="251.1" x2="250.7" y2="212.2" stroke="url(#st)" stroke-width="1.1" stroke-opacity="0.44"/><line x1="246.9" y1="255.7" x2="251.4" y2="201.5" stroke="url(#st)" stroke-width="0.9" stroke-opacity="0.56"/><line x1="247.0" y1="254.1" x2="251.4" y2="199.7" stroke="url(#st)" stroke-width="1.2" stroke-opacity="0.24"/><line x1="247.4" y1="244.8" x2="250.3" y2="193.6" stroke="url(#st)" stroke-width="0.9" stroke-opacity="0.32"/><line x1="246.7" y1="255.4" x2="248.9" y2="215.7" stroke="url(#st)" stroke-width="0.5" stroke-opacity="0.15"/><line x1="247.2" y1="245.5" x2="249.3" y2="204.3" stroke="url(#st)" stroke-width="0.7" stroke-opacity="0.44"/><line x1="246.8" y1="252.9" x2="248.6" y2="216.3" stroke="url(#st)" stroke-width="0.5" stroke-opacity="0.52"/><line x1="246.6" y1="256.4" x2="248.6" y2="200.7" stroke="url(#st)" stroke-width="0.6" stroke-opacity="0.18"/><line x1="246.6" y1="254.6" x2="248.8" y2="192.6" stroke="url(#st)" stroke-width="0.7" stroke-opacity="0.24"/><line x1="246.5" y1="249.0" x2="247.0" y2="192.2" stroke="url(#st)" stroke-width="0.9" stroke-opacity="0.2"/><line x1="246.6" y1="248.6" x2="247.4" y2="193.4" stroke="url(#st)" stroke-width="0.9" stroke-opacity="0.18"/><line x1="246.4" y1="255.8" x2="246.6" y2="211.8" stroke="url(#st)" stroke-width="1.0" stroke-opacity="0.13"/><line x1="246.4" y1="255.2" x2="246.5" y2="221.3" stroke="url(#st)" stroke-width="0.5" stroke-opacity="0.18"/><line x1="246.1" y1="248.5" x2="245.1" y2="202.7" stroke="url(#st)" stroke-width="0.6" stroke-opacity="0.31"/><line x1="246.3" y1="253.7" x2="245.7" y2="220.5" stroke="url(#st)" stroke-width="1.1" stroke-opacity="0.32"/><line x1="246.2" y1="256.2" x2="244.2" y2="186.1" stroke="url(#st)" stroke-width="0.8" stroke-opacity="0.12"/><line x1="246.1" y1="253.9" x2="245.2" y2="226.7" stroke="url(#st)" stroke-width="0.6" stroke-opacity="0.12"/><line x1="245.8" y1="249.6" x2="244.1" y2="214.9" stroke="url(#st)" stroke-width="1.2" stroke-opacity="0.28"/><line x1="245.8" y1="248.3" x2="243.0" y2="190.0" stroke="url(#st)" stroke-width="0.8" stroke-opacity="0.12"/><line x1="245.7" y1="251.8" x2="243.9" y2="226.0" stroke="url(#st)" stroke-width="0.5" stroke-opacity="0.13"/><line x1="245.9" y1="253.6" x2="243.2" y2="214.4" stroke="url(#st)" stroke-width="0.7" stroke-opacity="0.16"/><line x1="245.2" y1="246.2" x2="242.3" y2="207.3" stroke="url(#st)" stroke-width="0.9" stroke-opacity="0.12"/><line x1="245.3" y1="246.9" x2="242.5" y2="209.7" stroke="url(#st)" stroke-width="0.7" stroke-opacity="0.31"/><line x1="245.3" y1="249.9" x2="240.8" y2="203.8" stroke="url(#st)" stroke-width="1.0" stroke-opacity="0.17"/><line x1="245.6" y1="252.7" x2="241.8" y2="213.1" stroke="url(#st)" stroke-width="0.9" stroke-opacity="0.46"/><line x1="245.3" y1="252.0" x2="240.5" y2="211.1" stroke="url(#st)" stroke-width="1.2" stroke-opacity="0.15"/><line x1="245.5" y1="253.3" x2="238.9" y2="196.4" stroke="url(#st)" stroke-width="0.5" stroke-opacity="0.24"/><line x1="244.6" y1="248.4" x2="238.6" y2="203.4" stroke="url(#st)" stroke-width="1.1" stroke-opacity="0.26"/><line x1="245.7" y1="256.4" x2="239.4" y2="206.5" stroke="url(#st)" stroke-width="0.9" stroke-opacity="0.37"/><line x1="245.1" y1="251.8" x2="240.9" y2="221.1" stroke="url(#st)" stroke-width="1.0" stroke-opacity="0.42"/><line x1="244.6" y1="249.3" x2="238.8" y2="209.1" stroke="url(#st)" stroke-width="0.7" stroke-opacity="0.12"/><line x1="244.9" y1="251.8" x2="236.1" y2="194.8" stroke="url(#st)" stroke-width="0.8" stroke-opacity="0.43"/><line x1="244.2" y1="248.0" x2="233.8" y2="186.3" stroke="url(#st)" stroke-width="0.6" stroke-opacity="0.23"/><line x1="245.2" y1="255.0" x2="240.3" y2="228.0" stroke="url(#st)" stroke-width="0.5" stroke-opacity="0.31"/><line x1="243.5" y1="245.6" x2="236.2" y2="205.9" stroke="url(#st)" stroke-width="0.6" stroke-opacity="0.15"/><line x1="244.5" y1="251.5" x2="232.0" y2="184.3" stroke="url(#st)" stroke-width="1.1" stroke-opacity="0.29"/><line x1="244.5" y1="251.4" x2="237.5" y2="214.6" stroke="url(#st)" stroke-width="0.8" stroke-opacity="0.26"/><line x1="244.3" y1="251.6" x2="237.6" y2="220.8" stroke="url(#st)" stroke-width="0.9" stroke-opacity="0.4"/><line x1="245.1" y1="255.2" x2="237.2" y2="215.7" stroke="url(#st)" stroke-width="1.2" stroke-opacity="0.13"/><line x1="243.8" y1="250.1" x2="235.0" y2="211.5" stroke="url(#st)" stroke-width="0.9" stroke-opacity="0.21"/><line x1="243.9" y1="250.5" x2="230.5" y2="192.3" stroke="url(#st)" stroke-width="0.5" stroke-opacity="0.35"/><line x1="244.5" y1="253.7" x2="237.4" y2="224.0" stroke="url(#st)" stroke-width="0.6" stroke-opacity="0.21"/><line x1="245.1" y1="256.1" x2="229.6" y2="190.4" stroke="url(#st)" stroke-width="1.2" stroke-opacity="0.21"/><line x1="242.7" y1="247.5" x2="233.2" y2="211.1" stroke="url(#st)" stroke-width="0.6" stroke-opacity="0.28"/><line x1="243.5" y1="250.3" x2="235.7" y2="220.3" stroke="url(#st)" stroke-width="1.1" stroke-opacity="0.12"/><line x1="244.1" y1="253.3" x2="225.6" y2="187.4" stroke="url(#st)" stroke-width="0.8" stroke-opacity="0.48"/><line x1="245.0" y1="256.3" x2="236.1" y2="223.8" stroke="url(#st)" stroke-width="1.2" stroke-opacity="0.22"/><line x1="244.5" y1="254.9" x2="230.2" y2="205.9" stroke="url(#st)" stroke-width="0.8" stroke-opacity="0.47"/><line x1="243.2" y1="250.4" x2="227.6" y2="195.5" stroke="url(#st)" stroke-width="0.6" stroke-opacity="0.54"/><line x1="244.1" y1="254.0" x2="227.6" y2="201.5" stroke="url(#st)" stroke-width="0.7" stroke-opacity="0.21"/><line x1="244.5" y1="255.2" x2="224.7" y2="189.5" stroke="url(#st)" stroke-width="0.5" stroke-opacity="0.13"/><line x1="243.8" y1="253.5" x2="230.4" y2="211.9" stroke="url(#st)" stroke-width="0.5" stroke-opacity="0.23"/><line x1="242.3" y1="248.9" x2="229.4" y2="208.7" stroke="url(#st)" stroke-width="0.9" stroke-opacity="0.16"/><line x1="244.0" y1="254.5" x2="223.7" y2="195.4" stroke="url(#st)" stroke-width="0.8" stroke-opacity="0.21"/><line x1="242.7" y1="250.7" x2="227.1" y2="204.8" stroke="url(#st)" stroke-width="1.1" stroke-opacity="0.53"/><line x1="242.0" y1="249.5" x2="225.4" y2="204.1" stroke="url(#st)" stroke-width="0.7" stroke-opacity="0.28"/><line x1="242.9" y1="251.6" x2="227.3" y2="208.2" stroke="url(#st)" stroke-width="0.9" stroke-opacity="0.14"/><line x1="244.0" y1="255.1" x2="229.9" y2="218.1" stroke="url(#st)" stroke-width="0.7" stroke-opacity="0.39"/><line x1="240.5" y1="245.8" x2="219.1" y2="188.9" stroke="url(#st)" stroke-width="1.2" stroke-opacity="0.17"/><line x1="242.2" y1="251.1" x2="227.0" y2="213.0" stroke="url(#st)" stroke-width="0.8" stroke-opacity="0.4"/><line x1="243.0" y1="252.8" x2="218.9" y2="191.3" stroke="url(#st)" stroke-width="0.8" stroke-opacity="0.34"/><line x1="243.6" y1="254.7" x2="220.8" y2="199.6" stroke="url(#st)" stroke-width="1.1" stroke-opacity="0.53"/><line x1="240.6" y1="247.7" x2="221.6" y2="202.6" stroke="url(#st)" stroke-width="0.7" stroke-opacity="0.12"/><line x1="242.4" y1="252.4" x2="220.6" y2="202.5" stroke="url(#st)" stroke-width="0.7" stroke-opacity="0.2"/><line x1="243.9" y1="255.6" x2="217.1" y2="193.8" stroke="url(#st)" stroke-width="0.6" stroke-opacity="0.25"/><line x1="238.5" y1="244.3" x2="217.1" y2="197.4" stroke="url(#st)" stroke-width="0.6" stroke-opacity="0.21"/><line x1="241.1" y1="249.8" x2="220.9" y2="205.7" stroke="url(#st)" stroke-width="1.2" stroke-opacity="0.52"/><line x1="243.6" y1="255.7" x2="226.6" y2="220.3" stroke="url(#st)" stroke-width="0.6" stroke-opacity="0.54"/><line x1="242.2" y1="252.6" x2="228.9" y2="223.9" stroke="url(#st)" stroke-width="0.6" stroke-opacity="0.17"/><line x1="239.7" y1="247.7" x2="214.1" y2="195.1" stroke="url(#st)" stroke-width="0.6" stroke-opacity="0.18"/><line x1="243.3" y1="255.1" x2="226.9" y2="221.8" stroke="url(#st)" stroke-width="0.8" stroke-opacity="0.5"/><line x1="242.2" y1="253.2" x2="228.0" y2="225.6" stroke="url(#st)" stroke-width="0.6" stroke-opacity="0.18"/><line x1="240.7" y1="250.3" x2="227.1" y2="223.5" stroke="url(#st)" stroke-width="0.5" stroke-opacity="0.22"/><line x1="238.9" y1="247.5" x2="217.3" y2="207.2" stroke="url(#st)" stroke-width="0.6" stroke-opacity="0.49"/><line x1="241.7" y1="252.6" x2="229.6" y2="229.3" stroke="url(#st)" stroke-width="1.1" stroke-opacity="0.14"/><line x1="238.1" y1="246.5" x2="210.1" y2="196.2" stroke="url(#st)" stroke-width="0.6" stroke-opacity="0.19"/><line x1="241.0" y1="252.0" x2="226.2" y2="225.5" stroke="url(#st)" stroke-width="0.9" stroke-opacity="0.31"/><line x1="243.0" y1="255.4" x2="212.4" y2="201.8" stroke="url(#st)" stroke-width="0.7" stroke-opacity="0.37"/><line x1="241.9" y1="253.6" x2="218.4" y2="212.6" stroke="url(#st)" stroke-width="0.6" stroke-opacity="0.12"/><line x1="243.7" y1="257.0" x2="221.8" y2="220.2" stroke="url(#st)" stroke-width="0.8" stroke-opacity="0.29"/><line x1="243.5" y1="256.6" x2="213.5" y2="206.5" stroke="url(#st)" stroke-width="1.1" stroke-opacity="0.12"/><line x1="239.1" y1="249.5" x2="216.3" y2="212.4" stroke="url(#st)" stroke-width="1.1" stroke-opacity="0.34"/><line x1="237.2" y1="246.7" x2="210.1" y2="203.0" stroke="url(#st)" stroke-width="0.9" stroke-opacity="0.12"/><line x1="239.4" y1="250.4" x2="214.7" y2="211.7" stroke="url(#st)" stroke-width="0.9" stroke-opacity="0.17"/><line x1="241.6" y1="254.1" x2="204.5" y2="195.9" stroke="url(#st)" stroke-width="0.8" stroke-opacity="0.13"/><line x1="243.1" y1="256.5" x2="225.7" y2="229.9" stroke="url(#st)" stroke-width="0.8" stroke-opacity="0.12"/><line x1="240.1" y1="252.0" x2="224.1" y2="228.1" stroke="url(#st)" stroke-width="0.8" stroke-opacity="0.22"/><line x1="242.9" y1="256.3" x2="208.8" y2="206.4" stroke="url(#st)" stroke-width="1.0" stroke-opacity="0.52"/><line x1="239.4" y1="251.2" x2="207.8" y2="204.7" stroke="url(#st)" stroke-width="1.1" stroke-opacity="0.24"/><line x1="238.4" y1="250.1" x2="211.5" y2="211.8" stroke="url(#st)" stroke-width="0.5" stroke-opacity="0.28"/><line x1="240.2" y1="252.5" x2="200.8" y2="195.9" stroke="url(#st)" stroke-width="0.6" stroke-opacity="0.49"/><line x1="240.2" y1="252.9" x2="221.5" y2="226.8" stroke="url(#st)" stroke-width="0.9" stroke-opacity="0.49"/><line x1="241.7" y1="255.0" x2="217.6" y2="222.1" stroke="url(#st)" stroke-width="0.9" stroke-opacity="0.26"/><line x1="243.1" y1="257.1" x2="212.2" y2="216.1" stroke="url(#st)" stroke-width="0.7" stroke-opacity="0.29"/><line x1="241.4" y1="255.0" x2="210.5" y2="214.5" stroke="url(#st)" stroke-width="0.7" stroke-opacity="0.54"/><line x1="239.3" y1="252.4" x2="209.0" y2="213.0" stroke="url(#st)" stroke-width="0.6" stroke-opacity="0.34"/><line x1="239.1" y1="252.0" x2="209.7" y2="213.8" stroke="url(#st)" stroke-width="0.9" stroke-opacity="0.32"/><line x1="237.0" y1="249.7" x2="199.1" y2="202.5" stroke="url(#st)" stroke-width="1.0" stroke-opacity="0.28"/><line x1="238.4" y1="251.5" x2="208.1" y2="213.4" stroke="url(#st)" stroke-width="0.5" stroke-opacity="0.13"/><line x1="233.3" y1="245.8" x2="190.8" y2="195.1" stroke="url(#st)" stroke-width="0.7" stroke-opacity="0.44"/><line x1="237.9" y1="251.2" x2="197.2" y2="201.8" stroke="url(#st)" stroke-width="0.6" stroke-opacity="0.57"/><line x1="233.4" y1="246.3" x2="189.1" y2="194.5" stroke="url(#st)" stroke-width="1.0" stroke-opacity="0.49"/><line x1="242.1" y1="256.5" x2="203.7" y2="212.3" stroke="url(#st)" stroke-width="0.9" stroke-opacity="0.39"/><line x1="242.5" y1="257.1" x2="200.5" y2="209.4" stroke="url(#st)" stroke-width="0.5" stroke-opacity="0.15"/><line x1="235.2" y1="248.8" x2="189.0" y2="196.7" stroke="url(#st)" stroke-width="0.6" stroke-opacity="0.33"/><line x1="237.1" y1="251.4" x2="199.9" y2="210.8" stroke="url(#st)" stroke-width="1.1" stroke-opacity="0.21"/><line x1="238.1" y1="252.4" x2="199.8" y2="210.5" stroke="url(#st)" stroke-width="1.0" stroke-opacity="0.14"/><line x1="242.4" y1="257.1" x2="218.5" y2="231.4" stroke="url(#st)" stroke-width="0.9" stroke-opacity="0.16"/><line x1="241.3" y1="256.0" x2="193.2" y2="204.3" stroke="url(#st)" stroke-width="1.1" stroke-opacity="0.12"/><line x1="237.5" y1="252.3" x2="207.1" y2="221.1" stroke="url(#st)" stroke-width="0.7" stroke-opacity="0.13"/><line x1="240.5" y1="255.5" x2="198.9" y2="213.1" stroke="url(#st)" stroke-width="0.7" stroke-opacity="0.51"/><line x1="239.5" y1="254.5" x2="218.5" y2="233.5" stroke="url(#st)" stroke-width="0.8" stroke-opacity="0.21"/><line x1="240.7" y1="255.9" x2="189.6" y2="205.3" stroke="url(#st)" stroke-width="0.5" stroke-opacity="0.3"/><line x1="237.8" y1="253.2" x2="188.0" y2="205.6" stroke="url(#st)" stroke-width="0.7" stroke-opacity="0.18"/><line x1="230.6" y1="246.3" x2="184.8" y2="202.4" stroke="url(#st)" stroke-width="0.7" stroke-opacity="0.52"/><line x1="242.8" y1="258.1" x2="246.4" y2="261.5" stroke="url(#st)" stroke-width="0.7" stroke-opacity="0.15"/><line x1="242.8" y1="258.1" x2="246.4" y2="261.5" stroke="url(#st)" stroke-width="0.6" stroke-opacity="0.33"/><line x1="229.2" y1="261.5" x2="194.2" y2="261.5" stroke="url(#st)" stroke-width="0.7" stroke-opacity="0.36"/><line x1="227.4" y1="262.3" x2="199.6" y2="263.4" stroke="url(#st)" stroke-width="1.1" stroke-opacity="0.31"/><line x1="241.0" y1="261.8" x2="208.5" y2="263.7" stroke="url(#st)" stroke-width="0.8" stroke-opacity="0.42"/><line x1="233.4" y1="262.5" x2="215.4" y2="263.9" stroke="url(#st)" stroke-width="1.1" stroke-opacity="0.32"/><line x1="235.3" y1="262.5" x2="207.1" y2="264.9" stroke="url(#st)" stroke-width="0.7" stroke-opacity="0.25"/><line x1="238.0" y1="262.5" x2="214.2" y2="265.3" stroke="url(#st)" stroke-width="0.9" stroke-opacity="0.44"/><line x1="235.0" y1="263.0" x2="207.3" y2="266.8" stroke="url(#st)" stroke-width="1.0" stroke-opacity="0.28"/><line x1="239.2" y1="262.6" x2="193.5" y2="269.5" stroke="url(#st)" stroke-width="0.7" stroke-opacity="0.27"/><line x1="238.8" y1="262.8" x2="202.0" y2="269.3" stroke="url(#st)" stroke-width="0.9" stroke-opacity="0.15"/><line x1="239.9" y1="262.8" x2="197.1" y2="271.7" stroke="url(#st)" stroke-width="0.6" stroke-opacity="0.32"/><line x1="228.0" y1="265.8" x2="198.7" y2="272.6" stroke="url(#st)" stroke-width="0.5" stroke-opacity="0.29"/><line x1="229.8" y1="265.6" x2="195.4" y2="274.0" stroke="url(#st)" stroke-width="1.0" stroke-opacity="0.15"/><line x1="235.8" y1="264.5" x2="198.6" y2="274.8" stroke="url(#st)" stroke-width="0.5" stroke-opacity="0.26"/><line x1="234.8" y1="265.0" x2="216.6" y2="270.5" stroke="url(#st)" stroke-width="0.8" stroke-opacity="0.4"/><line x1="241.4" y1="263.1" x2="214.1" y2="271.8" stroke="url(#st)" stroke-width="0.8" stroke-opacity="0.12"/><line x1="229.8" y1="266.9" x2="202.7" y2="275.8" stroke="url(#st)" stroke-width="0.9" stroke-opacity="0.17"/><line x1="241.1" y1="263.4" x2="219.3" y2="271.0" stroke="url(#st)" stroke-width="0.7" stroke-opacity="0.16"/><line x1="234.4" y1="266.2" x2="207.0" y2="276.9" stroke="url(#st)" stroke-width="1.1" stroke-opacity="0.13"/><line x1="230.8" y1="267.8" x2="204.9" y2="278.2" stroke="url(#st)" stroke-width="0.9" stroke-opacity="0.51"/><line x1="233.1" y1="267.2" x2="205.1" y2="279.2" stroke="url(#st)" stroke-width="1.2" stroke-opacity="0.4"/><line x1="238.8" y1="264.9" x2="213.2" y2="276.3" stroke="url(#st)" stroke-width="0.8" stroke-opacity="0.43"/><line x1="239.9" y1="264.6" x2="202.1" y2="282.6" stroke="url(#st)" stroke-width="0.6" stroke-opacity="0.15"/><line x1="240.5" y1="264.5" x2="217.0" y2="276.5" stroke="url(#st)" stroke-width="1.1" stroke-opacity="0.41"/><line x1="238.3" y1="265.9" x2="207.3" y2="282.9" stroke="url(#st)" stroke-width="0.6" stroke-opacity="0.12"/><line x1="235.2" y1="267.9" x2="217.3" y2="278.0" stroke="url(#st)" stroke-width="0.7" stroke-opacity="0.14"/><line x1="236.2" y1="267.6" x2="207.8" y2="284.7" stroke="url(#st)" stroke-width="0.8" stroke-opacity="0.12"/><line x1="240.4" y1="265.2" x2="221.4" y2="277.0" stroke="url(#st)" stroke-width="1.0" stroke-opacity="0.24"/><line x1="235.5" y1="268.5" x2="223.1" y2="276.6" stroke="url(#st)" stroke-width="0.9" stroke-opacity="0.13"/><line x1="240.5" y1="265.6" x2="218.2" y2="280.8" stroke="url(#st)" stroke-width="1.1" stroke-opacity="0.15"/><line x1="239.7" y1="266.2" x2="215.9" y2="282.7" stroke="url(#st)" stroke-width="0.5" stroke-opacity="0.36"/><line x1="241.8" y1="264.9" x2="202.5" y2="293.5" stroke="url(#st)" stroke-width="0.8" stroke-opacity="0.16"/><line x1="241.8" y1="259.5" x2="194.9" y2="239.6" stroke="#aaaaaa" stroke-width="0.7" stroke-opacity="0.45"/><line x1="242.8" y1="258.1" x2="177.5" y2="196.1" stroke="#999999" stroke-width="1.0" stroke-opacity="0.3"/><line x1="242.3" y1="264.3" x2="203.3" y2="290.6" stroke="#aaaaaa" stroke-width="0.8" stroke-opacity="0.45"/></g><rect x="180" y="131" width="1" height="1" fill="#262626"/><rect x="78" y="381" width="1" height="1" fill="#151515"/><rect x="196" y="97" width="1" height="1" fill="#222222"/><rect x="140" y="107" width="1" height="1" fill="#1f1f1f"/><rect x="86" y="109" width="1" height="1" fill="#1f1f1f"/><rect x="82" y="286" width="1" height="1" fill="#191919"/><rect x="295" y="292" width="1" height="1" fill="#131313"/><rect x="275" y="223" width="1" height="1" fill="#191919"/><rect x="77" y="395" width="1" height="1" fill="#1b1b1b"/><rect x="216" y="277" width="1" height="1" fill="#242424"/><rect x="175" y="379" width="1" height="1" fill="#171717"/><rect x="98" y="288" width="1" height="1" fill="#181818"/><rect x="199" y="279" width="1" height="1" fill="#141414"/><rect x="270" y="306" width="1" height="1" fill="#212121"/><rect x="313" y="234" width="1" height="1" fill="#1c1c1c"/><rect x="233" y="419" width="1" height="1" fill="#1d1d1d"/><rect x="172" y="371" width="1" height="1" fill="#282828"/><rect x="350" y="106" width="1" height="1" fill="#1b1b1b"/><rect x="255" y="401" width="1" height="1" fill="#202020"/><rect x="167" y="441" width="1" height="1" fill="#151515"/><rect x="250" y="137" width="1" height="1" fill="#1c1c1c"/><rect x="117" y="257" width="1" height="1" fill="#131313"/><rect x="418" y="104" width="1" height="1" fill="#232323"/><rect x="273" y="402" width="1" height="1" fill="#1c1c1c"/><rect x="187" y="206" width="1" height="1" fill="#212121"/><rect x="276" y="245" width="1" height="1" fill="#141414"/><rect x="411" y="252" width="1" height="1" fill="#272727"/><rect x="84" y="348" width="1" height="1" fill="#1b1b1b"/><rect x="301" y="445" width="1" height="1" fill="#202020"/><rect x="166" y="219" width="1" height="1" fill="#272727"/><rect x="189" y="426" width="1" height="1" fill="#1d1d1d"/><rect x="123" y="119" width="1" height="1" fill="#131313"/><rect x="141" y="182" width="1" height="1" fill="#191919"/><rect x="208" y="417" width="1" height="1" fill="#212121"/><rect x="90" y="243" width="1" height="1" fill="#232323"/><rect x="163" y="126" width="1" height="1" fill="#1f1f1f"/><rect x="381" y="179" width="1" height="1" fill="#1f1f1f"/><rect x="427" y="330" width="1" height="1" fill="#1e1e1e"/><rect x="416" y="131" width="1" height="1" fill="#171717"/><rect x="116" y="321" width="1" height="1" fill="#121212"/><rect x="240" y="295" width="1" height="1" fill="#1a1a1a"/><rect x="165" y="129" width="1" height="1" fill="#232323"/><rect x="197" y="286" width="1" height="1" fill="#161616"/><rect x="317" y="267" width="1" height="1" fill="#252525"/><rect x="304" y="351" width="1" height="1" fill="#202020"/><rect x="395" y="366" width="1" height="1" fill="#272727"/><rect x="357" y="221" width="1" height="1" fill="#1e1e1e"/><rect x="207" y="255" width="1" height="1" fill="#1e1e1e"/><rect x="83" y="100" width="1" height="1" fill="#181818"/><rect x="224" y="116" width="1" height="1" fill="#252525"/><rect x="80" y="75" width="1" height="1" fill="#161616"/><rect x="260" y="429" width="1" height="1" fill="#252525"/><rect x="69" y="401" width="1" height="1" fill="#252525"/><rect x="200" y="312" width="1" height="1" fill="#1d1d1d"/><rect x="284" y="252" width="1" height="1" fill="#151515"/><rect x="376" y="445" width="1" height="1" fill="#202020"/><rect x="239" y="191" width="1" height="1" fill="#161616"/><rect x="98" y="203" width="1" height="1" fill="#1a1a1a"/><rect x="238" y="333" width="1" height="1" fill="#222222"/><rect x="69" y="430" width="1" height="1" fill="#222222"/><rect x="195" y="332" width="1" height="1" fill="#121212"/><rect x="342" y="186" width="1" height="1" fill="#262626"/><rect x="381" y="335" width="1" height="1" fill="#1a1a1a"/><rect x="253" y="414" width="1" height="1" fill="#1d1d1d"/><rect x="347" y="274" width="1" height="1" fill="#222222"/><rect x="183" y="158" width="1" height="1" fill="#181818"/><rect x="360" y="380" width="1" height="1" fill="#191919"/><rect x="134" y="259" width="1" height="1" fill="#121212"/><rect x="428" y="370" width="1" height="1" fill="#212121"/><rect x="156" y="333" width="1" height="1" fill="#1d1d1d"/><rect x="226" y="425" width="1" height="1" fill="#1d1d1d"/><rect x="415" y="211" width="1" height="1" fill="#191919"/><rect x="98" y="250" width="1" height="1" fill="#1c1c1c"/><rect x="136" y="308" width="1" height="1" fill="#252525"/><rect x="373" y="254" width="1" height="1" fill="#262626"/><rect x="188" y="315" width="1" height="1" fill="#272727"/><rect x="105" y="220" width="1" height="1" fill="#282828"/><rect x="339" y="253" width="1" height="1" fill="#171717"/><rect x="221" y="312" width="1" height="1" fill="#141414"/><rect x="358" y="437" width="1" height="1" fill="#1e1e1e"/><rect x="232" y="352" width="1" height="1" fill="#141414"/><rect x="330" y="138" width="1" height="1" fill="#161616"/><rect x="70" y="295" width="1" height="1" fill="#202020"/><rect x="360" y="130" width="1" height="1" fill="#252525"/><rect x="425" y="320" width="1" height="1" fill="#1d1d1d"/><rect x="118" y="280" width="1" height="1" fill="#121212"/><rect x="65" y="437" width="1" height="1" fill="#262626"/><rect x="98" y="355" width="1" height="1" fill="#161616"/><rect x="221" y="400" width="1" height="1" fill="#181818"/><rect x="70" y="154" width="1" height="1" fill="#222222"/><rect x="149" y="294" width="1" height="1" fill="#1a1a1a"/><rect x="262" y="386" width="1" height="1" fill="#131313"/><rect x="399" y="207" width="1" height="1" fill="#202020"/><rect x="306" y="379" width="1" height="1" fill="#222222"/><rect x="216" y="417" width="1" height="1" fill="#222222"/><rect x="109" y="132" width="1" height="1" fill="#222222"/><rect x="67" y="239" width="1" height="1" fill="#171717"/><rect x="286" y="364" width="1" height="1" fill="#161616"/><rect x="124" y="252" width="1" height="1" fill="#151515"/><rect x="267" y="197" width="1" height="1" fill="#222222"/><rect x="257" y="255" width="1" height="1" fill="#151515"/><rect x="389" y="96" width="1" height="1" fill="#181818"/><rect x="163" y="363" width="1" height="1" fill="#222222"/><rect x="228" y="85" width="1" height="1" fill="#141414"/><rect x="225" y="303" width="1" height="1" fill="#222222"/><rect x="285" y="149" width="1" height="1" fill="#1a1a1a"/><rect x="228" y="274" width="1" height="1" fill="#212121"/><rect x="249" y="167" width="1" height="1" fill="#222222"/><rect x="386" y="426" width="1" height="1" fill="#1a1a1a"/><rect x="403" y="408" width="1" height="1" fill="#181818"/><rect x="372" y="126" width="1" height="1" fill="#151515"/><rect x="206" y="193" width="1" height="1" fill="#272727"/><rect x="150" y="102" width="1" height="1" fill="#272727"/><rect x="173" y="121" width="1" height="1" fill="#161616"/><rect x="409" y="315" width="1" height="1" fill="#1d1d1d"/><rect x="113" y="404" width="1" height="1" fill="#202020"/><rect x="142" y="430" width="1" height="1" fill="#1e1e1e"/><rect x="389" y="136" width="1" height="1" fill="#272727"/><rect x="370" y="135" width="1" height="1" fill="#1f1f1f"/><rect x="430" y="226" width="1" height="1" fill="#1f1f1f"/><rect x="133" y="194" width="1" height="1" fill="#1d1d1d"/><rect x="67" y="282" width="1" height="1" fill="#202020"/><rect x="322" y="218" width="1" height="1" fill="#222222"/><rect x="292" y="266" width="1" height="1" fill="#141414"/><rect x="102" y="418" width="1" height="1" fill="#191919"/><rect x="421" y="114" width="1" height="1" fill="#1a1a1a"/><rect x="161" y="413" width="1" height="1" fill="#171717"/><rect x="161" y="123" width="1" height="1" fill="#1f1f1f"/><rect x="376" y="327" width="1" height="1" fill="#1a1a1a"/><rect x="211" y="275" width="1" height="1" fill="#222222"/><rect x="272" y="336" width="1" height="1" fill="#141414"/><rect x="164" y="373" width="1" height="1" fill="#171717"/><rect x="218" y="102" width="1" height="1" fill="#121212"/><rect x="296" y="374" width="1" height="1" fill="#141414"/><rect x="286" y="158" width="1" height="1" fill="#1a1a1a"/><rect x="381" y="244" width="1" height="1" fill="#1c1c1c"/><rect x="430" y="231" width="1" height="1" fill="#1a1a1a"/><rect x="291" y="91" width="1" height="1" fill="#282828"/><rect x="149" y="116" width="1" height="1" fill="#171717"/><rect x="157" y="143" width="1" height="1" fill="#1b1b1b"/><rect x="294" y="273" width="1" height="1" fill="#181818"/><rect x="168" y="262" width="1" height="1" fill="#171717"/><rect x="161" y="375" width="1" height="1" fill="#1a1a1a"/><rect x="74" y="82" width="1" height="1" fill="#222222"/><rect x="265" y="146" width="1" height="1" fill="#212121"/><rect x="151" y="242" width="1" height="1" fill="#272727"/><rect x="365" y="236" width="1" height="1" fill="#212121"/><rect x="263" y="406" width="1" height="1" fill="#222222"/><rect x="174" y="155" width="1" height="1" fill="#191919"/><rect x="187" y="385" width="1" height="1" fill="#282828"/><rect x="331" y="127" width="1" height="1" fill="#1d1d1d"/><rect x="425" y="387" width="1" height="1" fill="#121212"/><rect x="86" y="351" width="1" height="1" fill="#1a1a1a"/><rect x="220" y="96" width="1" height="1" fill="#272727"/><rect x="373" y="400" width="1" height="1" fill="#272727"/><rect x="421" y="298" width="1" height="1" fill="#282828"/><rect x="169" y="246" width="1" height="1" fill="#171717"/><rect x="160" y="76" width="1" height="1" fill="#1d1d1d"/><rect x="418" y="438" width="1" height="1" fill="#232323"/><rect x="180" y="88" width="1" height="1" fill="#1b1b1b"/><rect x="141" y="143" width="1" height="1" fill="#1c1c1c"/><rect x="202" y="252" width="1" height="1" fill="#222222"/><rect x="304" y="168" width="1" height="1" fill="#121212"/><rect x="94" y="380" width="1" height="1" fill="#161616"/><rect x="209" y="91" width="1" height="1" fill="#121212"/><rect x="171" y="310" width="1" height="1" fill="#141414"/><rect x="278" y="272" width="1" height="1" fill="#161616"/><rect x="305" y="342" width="1" height="1" fill="#252525"/><rect x="205" y="197" width="1" height="1" fill="#212121"/><rect x="116" y="345" width="1" height="1" fill="#262626"/><rect x="114" y="383" width="1" height="1" fill="#282828"/><rect x="392" y="309" width="1" height="1" fill="#282828"/><rect x="362" y="127" width="1" height="1" fill="#222222"/><rect x="340" y="287" width="1" height="1" fill="#121212"/><rect x="367" y="293" width="1" height="1" fill="#282828"/><rect x="314" y="334" width="1" height="1" fill="#191919"/><rect x="92" y="91" width="1" height="1" fill="#262626"/><rect x="194" y="114" width="1" height="1" fill="#202020"/><rect x="268" y="309" width="1" height="1" fill="#262626"/><rect x="258" y="166" width="1" height="1" fill="#1a1a1a"/><rect x="61" y="373" width="1" height="1" fill="#222222"/><rect x="394" y="109" width="1" height="1" fill="#222222"/><rect x="85" y="350" width="1" height="1" fill="#1a1a1a"/><rect x="361" y="391" width="1" height="1" fill="#191919"/><rect x="331" y="152" width="1" height="1" fill="#262626"/><rect x="423" y="259" width="1" height="1" fill="#1e1e1e"/><rect x="89" y="415" width="1" height="1" fill="#1b1b1b"/><rect x="345" y="305" width="1" height="1" fill="#262626"/><rect x="134" y="299" width="1" height="1" fill="#1c1c1c"/><rect x="154" y="352" width="1" height="1" fill="#1b1b1b"/><rect x="291" y="125" width="1" height="1" fill="#212121"/><rect x="83" y="175" width="1" height="1" fill="#272727"/><rect x="97" y="156" width="1" height="1" fill="#212121"/><rect x="168" y="268" width="1" height="1" fill="#202020"/><rect x="233" y="361" width="1" height="1" fill="#232323"/><rect x="134" y="440" width="1" height="1" fill="#212121"/><rect x="67" y="246" width="1" height="1" fill="#222222"/><rect x="420" y="243" width="1" height="1" fill="#1a1a1a"/><rect x="204" y="417" width="1" height="1" fill="#181818"/><rect x="88" y="109" width="1" height="1" fill="#222222"/><rect x="157" y="209" width="1" height="1" fill="#252525"/><rect x="365" y="265" width="1" height="1" fill="#151515"/><rect x="322" y="161" width="1" height="1" fill="#212121"/><rect x="207" y="134" width="1" height="1" fill="#212121"/><rect x="314" y="226" width="1" height="1" fill="#161616"/><rect x="215" y="215" width="1" height="1" fill="#151515"/><rect x="373" y="76" width="1" height="1" fill="#1c1c1c"/><rect x="372" y="120" width="1" height="1" fill="#181818"/><rect x="325" y="411" width="1" height="1" fill="#1b1b1b"/><rect x="154" y="99" width="1" height="1" fill="#1e1e1e"/><rect x="432" y="295" width="1" height="1" fill="#1d1d1d"/><rect x="404" y="357" width="1" height="1" fill="#131313"/><rect x="164" y="94" width="1" height="1" fill="#272727"/><rect x="166" y="424" width="1" height="1" fill="#191919"/><rect x="421" y="238" width="1" height="1" fill="#1c1c1c"/><rect x="131" y="214" width="1" height="1" fill="#1f1f1f"/><rect x="389" y="378" width="1" height="1" fill="#262626"/><rect x="209" y="402" width="1" height="1" fill="#232323"/><rect x="264" y="343" width="1" height="1" fill="#131313"/><rect x="407" y="228" width="1" height="1" fill="#252525"/><rect x="340" y="315" width="1" height="1" fill="#1b1b1b"/><rect x="241" y="415" width="1" height="1" fill="#232323"/><rect x="107" y="251" width="1" height="1" fill="#1c1c1c"/><rect x="165" y="170" width="1" height="1" fill="#262626"/><rect x="157" y="320" width="1" height="1" fill="#1b1b1b"/><rect x="240" y="324" width="1" height="1" fill="#151515"/><rect x="122" y="135" width="1" height="1" fill="#181818"/><rect x="246" y="378" width="1" height="1" fill="#232323"/><rect x="142" y="413" width="1" height="1" fill="#202020"/><rect x="219" y="279" width="1" height="1" fill="#191919"/><rect x="94" y="203" width="1" height="1" fill="#141414"/><rect x="179" y="212" width="1" height="1" fill="#242424"/><rect x="135" y="82" width="1" height="1" fill="#1f1f1f"/><rect x="202" y="353" width="1" height="1" fill="#181818"/><rect x="200" y="201" width="1" height="1" fill="#131313"/><rect x="245" y="289" width="1" height="1" fill="#1d1d1d"/><rect x="107" y="263" width="1" height="1" fill="#262626"/><rect x="354" y="392" width="1" height="1" fill="#141414"/><rect x="161" y="168" width="1" height="1" fill="#1e1e1e"/><rect x="300" y="236" width="1" height="1" fill="#1b1b1b"/><rect x="376" y="401" width="1" height="1" fill="#121212"/><rect x="107" y="234" width="1" height="1" fill="#212121"/><rect x="420" y="258" width="1" height="1" fill="#141414"/><rect x="206" y="421" width="1" height="1" fill="#222222"/><rect x="378" y="438" width="1" height="1" fill="#191919"/><rect x="351" y="158" width="1" height="1" fill="#161616"/><rect x="254" y="329" width="1" height="1" fill="#282828"/><rect x="301" y="360" width="1" height="1" fill="#202020"/><rect x="92" y="365" width="1" height="1" fill="#121212"/><rect x="351" y="162" width="1" height="1" fill="#131313"/><rect x="300" y="188" width="1" height="1" fill="#161616"/><rect x="293" y="272" width="1" height="1" fill="#1f1f1f"/><rect x="320" y="117" width="1" height="1" fill="#141414"/><rect x="172" y="427" width="1" height="1" fill="#181818"/><rect x="204" y="158" width="1" height="1" fill="#252525"/><rect x="60" y="275" width="1" height="1" fill="#202020"/><rect x="164" y="193" width="1" height="1" fill="#191919"/><rect x="237" y="163" width="1" height="1" fill="#191919"/><rect x="71" y="229" width="1" height="1" fill="#262626"/><rect x="174" y="83" width="1" height="1" fill="#212121"/><rect x="389" y="316" width="1" height="1" fill="#141414"/><rect x="156" y="324" width="1" height="1" fill="#1d1d1d"/><rect x="144" y="88" width="1" height="1" fill="#1c1c1c"/><rect x="327" y="210" width="1" height="1" fill="#1e1e1e"/><rect x="134" y="372" width="1" height="1" fill="#222222"/><rect x="85" y="260" width="1" height="1" fill="#181818"/><rect x="176" y="381" width="1" height="1" fill="#191919"/><rect x="233" y="174" width="1" height="1" fill="#1b1b1b"/><rect x="101" y="308" width="1" height="1" fill="#252525"/><rect x="130" y="158" width="1" height="1" fill="#1f1f1f"/><rect x="399" y="96" width="1" height="1" fill="#252525"/><rect x="114" y="222" width="1" height="1" fill="#181818"/><rect x="69" y="297" width="1" height="1" fill="#1f1f1f"/><rect x="79" y="97" width="1" height="1" fill="#1e1e1e"/><rect x="227" y="341" width="1" height="1" fill="#1c1c1c"/><rect x="333" y="447" width="1" height="1" fill="#171717"/><rect x="182" y="144" width="1" height="1" fill="#222222"/><rect x="338" y="87" width="1" height="1" fill="#272727"/><rect x="330" y="388" width="1" height="1" fill="#1c1c1c"/><rect x="225" y="116" width="1" height="1" fill="#141414"/><rect x="164" y="206" width="1" height="1" fill="#151515"/><rect x="269" y="358" width="1" height="1" fill="#1e1e1e"/><rect x="193" y="381" width="1" height="1" fill="#1f1f1f"/><rect x="93" y="338" width="1" height="1" fill="#181818"/><rect x="199" y="418" width="1" height="1" fill="#181818"/><rect x="180" y="350" width="1" height="1" fill="#212121"/><rect x="71" y="228" width="1" height="1" fill="#262626"/><rect x="345" y="90" width="1" height="1" fill="#131313"/><rect x="233" y="375" width="1" height="1" fill="#131313"/><rect x="156" y="354" width="1" height="1" fill="#252525"/><rect x="186" y="177" width="1" height="1" fill="#252525"/><rect x="76" y="353" width="1" height="1" fill="#282828"/><rect x="178" y="178" width="1" height="1" fill="#121212"/><rect x="328" y="297" width="1" height="1" fill="#262626"/><rect x="412" y="99" width="1" height="1" fill="#191919"/><rect x="100" y="342" width="1" height="1" fill="#202020"/><rect x="415" y="219" width="1" height="1" fill="#1a1a1a"/><rect x="400" y="379" width="1" height="1" fill="#161616"/><rect x="405" y="143" width="1" height="1" fill="#1b1b1b"/><rect x="366" y="363" width="1" height="1" fill="#252525"/><rect x="310.6" y="279.0" width="1.2" height="1.2" fill="#454545" fill-opacity="0.6"/><rect x="309.4" y="250.8" width="1.2" height="1.2" fill="#2d2d2d" fill-opacity="0.6"/><rect x="290.5" y="225.3" width="1.2" height="1.2" fill="#323232" fill-opacity="0.6"/><rect x="284.8" y="270.4" width="1.2" height="1.2" fill="#2a2a2a" fill-opacity="0.6"/><rect x="299.0" y="226.9" width="1.2" height="1.2" fill="#323232" fill-opacity="0.6"/><rect x="184.8" y="193.3" width="1.2" height="1.2" fill="#2c2c2c" fill-opacity="0.6"/><rect x="285.9" y="268.1" width="1.2" height="1.2" fill="#2e2e2e" fill-opacity="0.6"/><rect x="312.4" y="235.7" width="1.2" height="1.2" fill="#444444" fill-opacity="0.6"/><rect x="283.3" y="280.9" width="1.2" height="1.2" fill="#454545" fill-opacity="0.6"/><rect x="279.5" y="202.2" width="1.2" height="1.2" fill="#4a4a4a" fill-opacity="0.6"/><rect x="226.4" y="190.2" width="1.2" height="1.2" fill="#2f2f2f" fill-opacity="0.6"/><rect x="244.1" y="206.2" width="1.2" height="1.2" fill="#393939" fill-opacity="0.6"/><rect x="282.4" y="218.2" width="1.2" height="1.2" fill="#383838" fill-opacity="0.6"/><rect x="288.5" y="279.0" width="1.2" height="1.2" fill="#373737" fill-opacity="0.6"/><rect x="291.5" y="273.9" width="1.2" height="1.2" fill="#4d4d4d" fill-opacity="0.6"/><rect x="282.2" y="278.0" width="1.2" height="1.2" fill="#383838" fill-opacity="0.6"/><rect x="193.8" y="208.0" width="1.2" height="1.2" fill="#363636" fill-opacity="0.6"/><rect x="264.6" y="219.4" width="1.2" height="1.2" fill="#454545" fill-opacity="0.6"/><rect x="207.4" y="221.4" width="1.2" height="1.2" fill="#464646" fill-opacity="0.6"/><rect x="224.2" y="208.7" width="1.2" height="1.2" fill="#444444" fill-opacity="0.6"/><rect x="222.0" y="217.6" width="1.2" height="1.2" fill="#3a3a3a" fill-opacity="0.6"/><rect x="283.8" y="272.2" width="1.2" height="1.2" fill="#4e4e4e" fill-opacity="0.6"/><rect x="195.9" y="202.7" width="1.2" height="1.2" fill="#2c2c2c" fill-opacity="0.6"/><rect x="311.7" y="248.0" width="1.2" height="1.2" fill="#444444" fill-opacity="0.6"/><rect x="285.1" y="201.0" width="1.2" height="1.2" fill="#282828" fill-opacity="0.6"/><rect x="296.8" y="305.4" width="1.2" height="1.2" fill="#4f4f4f" fill-opacity="0.6"/><rect x="284.6" y="256.7" width="1.2" height="1.2" fill="#3d3d3d" fill-opacity="0.6"/><rect x="288.9" y="290.2" width="1.2" height="1.2" fill="#383838" fill-opacity="0.6"/><rect x="288.4" y="320.2" width="1.2" height="1.2" fill="#353535" fill-opacity="0.6"/><rect x="233.7" y="184.0" width="1.2" height="1.2" fill="#424242" fill-opacity="0.6"/><rect x="261.3" y="214.7" width="1.2" height="1.2" fill="#3b3b3b" fill-opacity="0.6"/><rect x="277.0" y="293.8" width="1.2" height="1.2" fill="#474747" fill-opacity="0.6"/><rect x="277.0" y="229.3" width="1.2" height="1.2" fill="#2e2e2e" fill-opacity="0.6"/><rect x="239.5" y="190.7" width="1.2" height="1.2" fill="#313131" fill-opacity="0.6"/><rect x="266.0" y="220.4" width="1.2" height="1.2" fill="#323232" fill-opacity="0.6"/><rect x="290.9" y="248.1" width="1.2" height="1.2" fill="#3a3a3a" fill-opacity="0.6"/><rect x="266.1" y="206.8" width="1.2" height="1.2" fill="#2b2b2b" fill-opacity="0.6"/><rect x="302.9" y="261.7" width="1.2" height="1.2" fill="#3e3e3e" fill-opacity="0.6"/><rect x="281.9" y="248.6" width="1.2" height="1.2" fill="#3f3f3f" fill-opacity="0.6"/><rect x="270.0" y="209.5" width="1.2" height="1.2" fill="#414141" fill-opacity="0.6"/><rect x="281.2" y="275.3" width="1.2" height="1.2" fill="#323232" fill-opacity="0.6"/><rect x="306.9" y="237.2" width="1.2" height="1.2" fill="#414141" fill-opacity="0.6"/><rect x="280.6" y="217.1" width="1.2" height="1.2" fill="#323232" fill-opacity="0.6"/><rect x="282.9" y="288.3" width="1.2" height="1.2" fill="#313131" fill-opacity="0.6"/><rect x="279.1" y="191.8" width="1.2" height="1.2" fill="#2d2d2d" fill-opacity="0.6"/><rect x="294.8" y="200.8" width="1.2" height="1.2" fill="#484848" fill-opacity="0.6"/><rect x="289.7" y="284.5" width="1.2" height="1.2" fill="#323232" fill-opacity="0.6"/><rect x="304.8" y="210.4" width="1.2" height="1.2" fill="#2e2e2e" fill-opacity="0.6"/><rect x="307.4" y="246.3" width="1.2" height="1.2" fill="#343434" fill-opacity="0.6"/><rect x="312.1" y="264.1" width="1.2" height="1.2" fill="#2a2a2a" fill-opacity="0.6"/><rect x="198.4" y="206.5" width="1.2" height="1.2" fill="#2b2b2b" fill-opacity="0.6"/><rect x="281.3" y="204.9" width="1.2" height="1.2" fill="#2d2d2d" fill-opacity="0.6"/><rect x="212.1" y="194.3" width="1.2" height="1.2" fill="#323232" fill-opacity="0.6"/><rect x="278.3" y="193.7" width="1.2" height="1.2" fill="#4f4f4f" fill-opacity="0.6"/><rect x="309.2" y="241.0" width="1.2" height="1.2" fill="#464646" fill-opacity="0.6"/><rect x="286.6" y="280.9" width="1.2" height="1.2" fill="#414141" fill-opacity="0.6"/><rect x="215.0" y="214.7" width="1.2" height="1.2" fill="#3e3e3e" fill-opacity="0.6"/><rect x="288.4" y="293.9" width="1.2" height="1.2" fill="#343434" fill-opacity="0.6"/><rect x="285.0" y="314.4" width="1.2" height="1.2" fill="#2a2a2a" fill-opacity="0.6"/><rect x="264.8" y="210.2" width="1.2" height="1.2" fill="#404040" fill-opacity="0.6"/><rect x="281.1" y="208.7" width="1.2" height="1.2" fill="#505050" fill-opacity="0.6"/><rect x="243.9" y="192.1" width="1.2" height="1.2" fill="#3b3b3b" fill-opacity="0.6"/><rect x="281.2" y="214.6" width="1.2" height="1.2" fill="#3f3f3f" fill-opacity="0.6"/><rect x="293.1" y="238.3" width="1.2" height="1.2" fill="#292929" fill-opacity="0.6"/><rect x="285.9" y="333.6" width="1.2" height="1.2" fill="#454545" fill-opacity="0.6"/><rect x="307.4" y="278.3" width="1.2" height="1.2" fill="#454545" fill-opacity="0.6"/><rect x="227.6" y="184.2" width="1.2" height="1.2" fill="#414141" fill-opacity="0.6"/><rect x="283.0" y="293.1" width="1.2" height="1.2" fill="#434343" fill-opacity="0.6"/><rect x="309.9" y="249.9" width="1.2" height="1.2" fill="#484848" fill-opacity="0.6"/><rect x="280.3" y="234.1" width="1.2" height="1.2" fill="#505050" fill-opacity="0.6"/><rect x="310.7" y="308.6" width="1.2" height="1.2" fill="#3c3c3c" fill-opacity="0.6"/><rect x="244.2" y="197.6" width="1.2" height="1.2" fill="#2b2b2b" fill-opacity="0.6"/><rect x="250.5" y="185.2" width="1.2" height="1.2" fill="#303030" fill-opacity="0.6"/><rect x="271.4" y="299.9" width="1.2" height="1.2" fill="#4f4f4f" fill-opacity="0.6"/><rect x="255.4" y="188.7" width="1.2" height="1.2" fill="#343434" fill-opacity="0.6"/><rect x="309.8" y="307.4" width="1.2" height="1.2" fill="#3a3a3a" fill-opacity="0.6"/><rect x="190.6" y="188.5" width="1.2" height="1.2" fill="#323232" fill-opacity="0.6"/><rect x="265.8" y="194.5" width="1.2" height="1.2" fill="#363636" fill-opacity="0.6"/><rect x="283.8" y="304.6" width="1.2" height="1.2" fill="#383838" fill-opacity="0.6"/><rect x="314.2" y="301.5" width="1.2" height="1.2" fill="#393939" fill-opacity="0.6"/><rect x="215.2" y="200.8" width="1.2" height="1.2" fill="#383838" fill-opacity="0.6"/><rect x="307.9" y="214.4" width="1.2" height="1.2" fill="#353535" fill-opacity="0.6"/><rect x="283.9" y="207.5" width="1.2" height="1.2" fill="#373737" fill-opacity="0.6"/><rect x="284.8" y="260.7" width="1.2" height="1.2" fill="#333333" fill-opacity="0.6"/><rect x="302.5" y="243.4" width="1.2" height="1.2" fill="#393939" fill-opacity="0.6"/><rect x="269.3" y="188.5" width="1.2" height="1.2" fill="#323232" fill-opacity="0.6"/><rect x="241.8" y="206.9" width="1.2" height="1.2" fill="#494949" fill-opacity="0.6"/><rect x="293.5" y="322.6" width="1.2" height="1.2" fill="#444444" fill-opacity="0.6"/><rect x="289.5" y="213.7" width="1.2" height="1.2" fill="#2e2e2e" fill-opacity="0.6"/><rect x="300.6" y="273.1" width="1.2" height="1.2" fill="#414141" fill-opacity="0.6"/><rect x="252.2" y="205.5" width="1.2" height="1.2" fill="#404040" fill-opacity="0.6"/><rect x="192.0" y="205.4" width="1.2" height="1.2" fill="#3f3f3f" fill-opacity="0.6"/><rect x="286.3" y="259.1" width="1.2" height="1.2" fill="#363636" fill-opacity="0.6"/><rect x="302.1" y="289.9" width="1.2" height="1.2" fill="#2b2b2b" fill-opacity="0.6"/><rect x="301.1" y="264.7" width="1.2" height="1.2" fill="#3b3b3b" fill-opacity="0.6"/><rect x="280.7" y="189.4" width="1.2" height="1.2" fill="#4d4d4d" fill-opacity="0.6"/><rect x="199.4" y="185.8" width="1.2" height="1.2" fill="#282828" fill-opacity="0.6"/><rect x="250.0" y="211.1" width="1.2" height="1.2" fill="#3a3a3a" fill-opacity="0.6"/><rect x="275.7" y="210.7" width="1.2" height="1.2" fill="#484848" fill-opacity="0.6"/><rect x="284.6" y="254.7" width="1.2" height="1.2" fill="#474747" fill-opacity="0.6"/><rect x="303.3" y="278.9" width="1.2" height="1.2" fill="#292929" fill-opacity="0.6"/><rect x="287.5" y="312.7" width="1.2" height="1.2" fill="#3b3b3b" fill-opacity="0.6"/><rect x="289.7" y="299.1" width="1.2" height="1.2" fill="#363636" fill-opacity="0.6"/><rect x="291.1" y="245.4" width="1.2" height="1.2" fill="#303030" fill-opacity="0.6"/><rect x="300.8" y="283.0" width="1.2" height="1.2" fill="#464646" fill-opacity="0.6"/><rect x="284.1" y="283.8" width="1.2" height="1.2" fill="#373737" fill-opacity="0.6"/><rect x="258.7" y="203.4" width="1.2" height="1.2" fill="#2c2c2c" fill-opacity="0.6"/><rect x="279.1" y="193.4" width="1.2" height="1.2" fill="#393939" fill-opacity="0.6"/><rect x="290.5" y="247.5" width="1.2" height="1.2" fill="#282828" fill-opacity="0.6"/><rect x="294.2" y="320.2" width="1.2" height="1.2" fill="#3e3e3e" fill-opacity="0.6"/><rect x="282.6" y="208.4" width="1.2" height="1.2" fill="#4e4e4e" fill-opacity="0.6"/><rect x="200.9" y="192.9" width="1.2" height="1.2" fill="#373737" fill-opacity="0.6"/><rect x="278.8" y="279.7" width="1.2" height="1.2" fill="#2b2b2b" fill-opacity="0.6"/><rect x="288.4" y="222.0" width="1.2" height="1.2" fill="#373737" fill-opacity="0.6"/><rect x="314.7" y="301.7" width="1.2" height="1.2" fill="#2e2e2e" fill-opacity="0.6"/><rect x="279.3" y="317.6" width="1.2" height="1.2" fill="#343434" fill-opacity="0.6"/><rect x="288.8" y="290.0" width="1.2" height="1.2" fill="#4e4e4e" fill-opacity="0.6"/><rect x="274.4" y="200.7" width="1.2" height="1.2" fill="#424242" fill-opacity="0.6"/><rect x="238.2" y="210.1" width="1.2" height="1.2" fill="#3b3b3b" fill-opacity="0.6"/><rect x="290.7" y="313.1" width="1.2" height="1.2" fill="#464646" fill-opacity="0.6"/><rect x="254.0" y="219.9" width="1.2" height="1.2" fill="#434343" fill-opacity="0.6"/><rect x="251.1" y="201.8" width="1.2" height="1.2" fill="#444444" fill-opacity="0.6"/><rect x="309.7" y="294.1" width="1.2" height="1.2" fill="#383838" fill-opacity="0.6"/><rect x="283.4" y="272.1" width="1.2" height="1.2" fill="#3d3d3d" fill-opacity="0.6"/><rect x="210.0" y="181.4" width="1.2" height="1.2" fill="#383838" fill-opacity="0.6"/><rect x="256.4" y="210.2" width="1.2" height="1.2" fill="#4b4b4b" fill-opacity="0.6"/><rect x="267.0" y="196.3" width="1.2" height="1.2" fill="#494949" fill-opacity="0.6"/><rect x="204.8" y="212.7" width="1.2" height="1.2" fill="#353535" fill-opacity="0.6"/><rect x="291.1" y="306.3" width="1.2" height="1.2" fill="#323232" fill-opacity="0.6"/><rect x="290.9" y="269.7" width="1.2" height="1.2" fill="#343434" fill-opacity="0.6"/><rect x="198.5" y="193.2" width="1.2" height="1.2" fill="#3c3c3c" fill-opacity="0.6"/><rect x="292.5" y="282.0" width="1.2" height="1.2" fill="#4e4e4e" fill-opacity="0.6"/><rect x="312.3" y="278.7" width="1.2" height="1.2" fill="#505050" fill-opacity="0.6"/><rect x="199.5" y="181.8" width="1.2" height="1.2" fill="#4a4a4a" fill-opacity="0.6"/><rect x="310.1" y="223.3" width="1.2" height="1.2" fill="#282828" fill-opacity="0.6"/><rect x="226.5" y="199.6" width="1.2" height="1.2" fill="#363636" fill-opacity="0.6"/><rect x="280.3" y="219.7" width="1.2" height="1.2" fill="#353535" fill-opacity="0.6"/><rect x="301.5" y="246.2" width="1.2" height="1.2" fill="#4c4c4c" fill-opacity="0.6"/><rect x="220.4" y="213.4" width="1.2" height="1.2" fill="#292929" fill-opacity="0.6"/><rect x="298.5" y="305.0" width="1.2" height="1.2" fill="#323232" fill-opacity="0.6"/><rect x="288.2" y="256.9" width="1.2" height="1.2" fill="#292929" fill-opacity="0.6"/><rect x="273.7" y="301.8" width="1.2" height="1.2" fill="#505050" fill-opacity="0.6"/><rect x="273.7" y="298.4" width="1.2" height="1.2" fill="#2a2a2a" fill-opacity="0.6"/><rect x="290.1" y="311.7" width="1.2" height="1.2" fill="#3f3f3f" fill-opacity="0.6"/><rect x="310.8" y="288.2" width="1.2" height="1.2" fill="#4a4a4a" fill-opacity="0.6"/><rect x="225.5" y="215.6" width="1.2" height="1.2" fill="#404040" fill-opacity="0.6"/><rect x="285.3" y="295.0" width="1.2" height="1.2" fill="#2f2f2f" fill-opacity="0.6"/><rect x="292.4" y="327.9" width="1.2" height="1.2" fill="#505050" fill-opacity="0.6"/><rect x="298.3" y="312.8" width="1.2" height="1.2" fill="#505050" fill-opacity="0.6"/><rect x="286.8" y="265.1" width="1.2" height="1.2" fill="#2e2e2e" fill-opacity="0.6"/><rect x="240.5" y="191.6" width="1.2" height="1.2" fill="#3a3a3a" fill-opacity="0.6"/><rect x="298.0" y="260.4" width="1.2" height="1.2" fill="#292929" fill-opacity="0.6"/><rect x="314.7" y="252.5" width="1.2" height="1.2" fill="#2b2b2b" fill-opacity="0.6"/><rect x="256.4" y="206.2" width="1.2" height="1.2" fill="#3c3c3c" fill-opacity="0.6"/><rect x="246.0" y="194.4" width="1.2" height="1.2" fill="#464646" fill-opacity="0.6"/><rect x="225.8" y="192.1" width="1.2" height="1.2" fill="#292929" fill-opacity="0.6"/><rect x="243.1" y="216.4" width="1.2" height="1.2" fill="#494949" fill-opacity="0.6"/><rect x="245.3" y="204.3" width="1.2" height="1.2" fill="#2b2b2b" fill-opacity="0.6"/><rect x="282.3" y="226.2" width="1.2" height="1.2" fill="#2d2d2d" fill-opacity="0.6"/><rect x="279.2" y="219.8" width="1.2" height="1.2" fill="#434343" fill-opacity="0.6"/><rect x="270.6" y="306.6" width="1.2" height="1.2" fill="#2b2b2b" fill-opacity="0.6"/><rect x="276.6" y="316.4" width="1.2" height="1.2" fill="#474747" fill-opacity="0.6"/><rect x="264.7" y="190.0" width="1.2" height="1.2" fill="#474747" fill-opacity="0.6"/><rect x="291.3" y="196.7" width="1.2" height="1.2" fill="#484848" fill-opacity="0.6"/><rect x="314.6" y="274.0" width="1.2" height="1.2" fill="#3a3a3a" fill-opacity="0.6"/><rect x="232.7" y="179.1" width="1.2" height="1.2" fill="#363636" fill-opacity="0.6"/><rect x="283.5" y="233.9" width="1.2" height="1.2" fill="#505050" fill-opacity="0.6"/><rect x="246.6" y="200.6" width="1.2" height="1.2" fill="#4b4b4b" fill-opacity="0.6"/><rect x="241.8" y="192.5" width="1.2" height="1.2" fill="#3e3e3e" fill-opacity="0.6"/><rect x="304.7" y="316.2" width="1.2" height="1.2" fill="#2d2d2d" fill-opacity="0.6"/><rect x="301.5" y="239.7" width="1.2" height="1.2" fill="#3f3f3f" fill-opacity="0.6"/><rect x="289.5" y="278.2" width="1.2" height="1.2" fill="#4a4a4a" fill-opacity="0.6"/><rect x="291.5" y="227.2" width="1.2" height="1.2" fill="#505050" fill-opacity="0.6"/><rect x="297.3" y="275.9" width="1.2" height="1.2" fill="#4a4a4a" fill-opacity="0.6"/><rect x="285.1" y="204.9" width="1.2" height="1.2" fill="#4e4e4e" fill-opacity="0.6"/><rect x="269.0" y="210.9" width="1.2" height="1.2" fill="#3c3c3c" fill-opacity="0.6"/><rect x="303.1" y="211.7" width="1.2" height="1.2" fill="#444444" fill-opacity="0.6"/><rect x="271.6" y="195.6" width="1.2" height="1.2" fill="#323232" fill-opacity="0.6"/><rect x="299.1" y="231.4" width="1.2" height="1.2" fill="#383838" fill-opacity="0.6"/><rect x="274.8" y="224.2" width="1.2" height="1.2" fill="#454545" fill-opacity="0.6"/><rect x="275.2" y="199.0" width="1.2" height="1.2" fill="#484848" fill-opacity="0.6"/><rect x="289.8" y="280.9" width="1.2" height="1.2" fill="#4f4f4f" fill-opacity="0.6"/><rect x="288.6" y="287.2" width="1.2" height="1.2" fill="#373737" fill-opacity="0.6"/><rect x="256.4" y="197.1" width="1.2" height="1.2" fill="#3e3e3e" fill-opacity="0.6"/><rect x="295.0" y="289.7" width="1.2" height="1.2" fill="#343434" fill-opacity="0.6"/><rect x="314.9" y="274.5" width="1.2" height="1.2" fill="#2e2e2e" fill-opacity="0.6"/><rect x="298.3" y="290.8" width="1.2" height="1.2" fill="#343434" fill-opacity="0.6"/><rect x="315.0" y="244.3" width="1.2" height="1.2" fill="#3b3b3b" fill-opacity="0.6"/><rect x="253.4" y="203.2" width="1.2" height="1.2" fill="#343434" fill-opacity="0.6"/><rect x="306.8" y="312.9" width="1.2" height="1.2" fill="#393939" fill-opacity="0.6"/><rect x="293.5" y="279.7" width="1.2" height="1.2" fill="#2a2a2a" fill-opacity="0.6"/><rect x="285.5" y="327.9" width="1.2" height="1.2" fill="#434343" fill-opacity="0.6"/><rect x="261.9" y="202.2" width="1.2" height="1.2" fill="#505050" fill-opacity="0.6"/><rect x="284.3" y="263.7" width="1.2" height="1.2" fill="#383838" fill-opacity="0.6"/><rect x="277.3" y="212.9" width="1.2" height="1.2" fill="#373737" fill-opacity="0.6"/><rect x="215.1" y="202.0" width="1.2" height="1.2" fill="#4c4c4c" fill-opacity="0.6"/><rect x="285.4" y="207.2" width="1.2" height="1.2" fill="#363636" fill-opacity="0.6"/><rect x="269.1" y="198.3" width="1.2" height="1.2" fill="#4d4d4d" fill-opacity="0.6"/><rect x="224.7" y="189.7" width="1.2" height="1.2" fill="#2f2f2f" fill-opacity="0.6"/><rect x="288.7" y="239.1" width="1.2" height="1.2" fill="#505050" fill-opacity="0.6"/><rect x="263.9" y="187.1" width="1.2" height="1.2" fill="#373737" fill-opacity="0.6"/><rect x="242.7" y="189.3" width="1.2" height="1.2" fill="#505050" fill-opacity="0.6"/><rect x="312.2" y="301.1" width="1.2" height="1.2" fill="#464646" fill-opacity="0.6"/><rect x="297.9" y="234.0" width="1.2" height="1.2" fill="#424242" fill-opacity="0.6"/><rect x="297.6" y="217.6" width="1.2" height="1.2" fill="#333333" fill-opacity="0.6"/><rect x="220.1" y="205.3" width="1.2" height="1.2" fill="#282828" fill-opacity="0.6"/><rect x="298.5" y="247.6" width="1.2" height="1.2" fill="#2e2e2e" fill-opacity="0.6"/><rect x="284.0" y="314.2" width="1.2" height="1.2" fill="#323232" fill-opacity="0.6"/><rect x="260.3" y="184.1" width="1.2" height="1.2" fill="#343434" fill-opacity="0.6"/><rect x="281.1" y="231.5" width="1.2" height="1.2" fill="#4c4c4c" fill-opacity="0.6"/><rect x="285.3" y="240.5" width="1.2" height="1.2" fill="#464646" fill-opacity="0.6"/><rect x="297.9" y="219.2" width="1.2" height="1.2" fill="#3f3f3f" fill-opacity="0.6"/><rect x="289.8" y="223.4" width="1.2" height="1.2" fill="#454545" fill-opacity="0.6"/><rect x="303.1" y="282.6" width="1.2" height="1.2" fill="#414141" fill-opacity="0.6"/><rect x="306.3" y="211.7" width="1.2" height="1.2" fill="#4f4f4f" fill-opacity="0.6"/><rect x="285.1" y="255.8" width="1.2" height="1.2" fill="#393939" fill-opacity="0.6"/><rect x="284.6" y="252.3" width="1.2" height="1.2" fill="#2c2c2c" fill-opacity="0.6"/><rect x="294.6" y="243.1" width="1.2" height="1.2" fill="#3e3e3e" fill-opacity="0.6"/><rect x="274.3" y="224.7" width="1.2" height="1.2" fill="#3b3b3b" fill-opacity="0.6"/><rect x="253.5" y="183.6" width="1.2" height="1.2" fill="#494949" fill-opacity="0.6"/><rect x="183.9" y="188.0" width="1.2" height="1.2" fill="#414141" fill-opacity="0.6"/><rect x="283.7" y="240.4" width="1.2" height="1.2" fill="#2c2c2c" fill-opacity="0.6"/><rect x="236.2" y="191.6" width="1.2" height="1.2" fill="#464646" fill-opacity="0.6"/><rect x="275.7" y="198.2" width="1.2" height="1.2" fill="#313131" fill-opacity="0.6"/><rect x="304.8" y="253.4" width="1.2" height="1.2" fill="#424242" fill-opacity="0.6"/><rect x="292.3" y="234.3" width="1.2" height="1.2" fill="#4b4b4b" fill-opacity="0.6"/><rect x="275.0" y="195.4" width="1.2" height="1.2" fill="#464646" fill-opacity="0.6"/><rect x="311.9" y="252.0" width="1.2" height="1.2" fill="#393939" fill-opacity="0.6"/><rect x="261.3" y="194.7" width="1.2" height="1.2" fill="#434343" fill-opacity="0.6"/><rect x="264.7" y="203.8" width="1.2" height="1.2" fill="#393939" fill-opacity="0.6"/><rect x="305.2" y="252.3" width="1.2" height="1.2" fill="#3c3c3c" fill-opacity="0.6"/><rect x="295.5" y="229.7" width="1.2" height="1.2" fill="#505050" fill-opacity="0.6"/><rect x="302.0" y="317.2" width="1.2" height="1.2" fill="#313131" fill-opacity="0.6"/><rect x="200.3" y="187.4" width="1.2" height="1.2" fill="#2b2b2b" fill-opacity="0.6"/><rect x="292.7" y="307.9" width="1.2" height="1.2" fill="#3c3c3c" fill-opacity="0.6"/><rect x="243.6" y="212.2" width="1.2" height="1.2" fill="#3e3e3e" fill-opacity="0.6"/><rect x="265.5" y="223.4" width="1.2" height="1.2" fill="#282828" fill-opacity="0.6"/><rect x="283.6" y="275.4" width="1.2" height="1.2" fill="#3a3a3a" fill-opacity="0.6"/><rect x="286.1" y="270.3" width="1.2" height="1.2" fill="#313131" fill-opacity="0.6"/><rect x="230.5" y="209.7" width="1.2" height="1.2" fill="#444444" fill-opacity="0.6"/><rect x="288.5" y="256.6" width="1.2" height="1.2" fill="#414141" fill-opacity="0.6"/><rect x="242.2" y="210.8" width="1.2" height="1.2" fill="#4e4e4e" fill-opacity="0.6"/><rect x="210.1" y="220.4" width="1.2" height="1.2" fill="#4b4b4b" fill-opacity="0.6"/><rect x="240.9" y="184.0" width="1.2" height="1.2" fill="#343434" fill-opacity="0.6"/><rect x="287.1" y="232.1" width="1.2" height="1.2" fill="#2d2d2d" fill-opacity="0.6"/><rect x="251.6" y="202.8" width="1.2" height="1.2" fill="#2f2f2f" fill-opacity="0.6"/><rect x="281.4" y="222.8" width="1.2" height="1.2" fill="#363636" fill-opacity="0.6"/><rect x="233.2" y="197.9" width="1.2" height="1.2" fill="#4b4b4b" fill-opacity="0.6"/><rect x="285.7" y="309.1" width="1.2" height="1.2" fill="#313131" fill-opacity="0.6"/><rect x="258.3" y="211.4" width="1.2" height="1.2" fill="#323232" fill-opacity="0.6"/><rect x="299.7" y="208.5" width="1.2" height="1.2" fill="#282828" fill-opacity="0.6"/><rect x="294.7" y="289.7" width="1.2" height="1.2" fill="#4c4c4c" fill-opacity="0.6"/><rect x="289.3" y="229.7" width="1.2" height="1.2" fill="#454545" fill-opacity="0.6"/><rect x="296.7" y="250.6" width="1.2" height="1.2" fill="#2c2c2c" fill-opacity="0.6"/><rect x="290.8" y="283.4" width="1.2" height="1.2" fill="#292929" fill-opacity="0.6"/><rect x="270.3" y="299.6" width="1.2" height="1.2" fill="#3d3d3d" fill-opacity="0.6"/><rect x="239.6" y="213.5" width="1.2" height="1.2" fill="#464646" fill-opacity="0.6"/><rect x="309.9" y="218.7" width="1.2" height="1.2" fill="#2a2a2a" fill-opacity="0.6"/><rect x="294.7" y="278.9" width="1.2" height="1.2" fill="#303030" fill-opacity="0.6"/><rect x="312.7" y="255.6" width="1.2" height="1.2" fill="#3f3f3f" fill-opacity="0.6"/><rect x="309.8" y="255.3" width="1.2" height="1.2" fill="#4b4b4b" fill-opacity="0.6"/><rect x="245.9" y="209.8" width="1.2" height="1.2" fill="#434343" fill-opacity="0.6"/><rect x="292.0" y="256.9" width="1.2" height="1.2" fill="#2b2b2b" fill-opacity="0.6"/><rect x="234.8" y="205.2" width="1.2" height="1.2" fill="#474747" fill-opacity="0.6"/><rect x="298.1" y="244.8" width="1.2" height="1.2" fill="#393939" fill-opacity="0.6"/><rect x="224.4" y="203.8" width="1.2" height="1.2" fill="#353535" fill-opacity="0.6"/><rect x="274.0" y="194.5" width="1.2" height="1.2" fill="#3d3d3d" fill-opacity="0.6"/><rect x="302.6" y="286.4" width="1.2" height="1.2" fill="#303030" fill-opacity="0.6"/><rect x="285.3" y="207.7" width="1.2" height="1.2" fill="#2a2a2a" fill-opacity="0.6"/><rect x="300.1" y="245.1" width="1.2" height="1.2" fill="#414141" fill-opacity="0.6"/><rect x="276.9" y="229.9" width="1.2" height="1.2" fill="#3b3b3b" fill-opacity="0.6"/><rect x="280.6" y="290.8" width="1.2" height="1.2" fill="#464646" fill-opacity="0.6"/><rect x="281.6" y="204.1" width="1.2" height="1.2" fill="#484848" fill-opacity="0.6"/><rect x="210.9" y="195.1" width="1.2" height="1.2" fill="#4f4f4f" fill-opacity="0.6"/><rect x="305.1" y="299.4" width="1.2" height="1.2" fill="#4e4e4e" fill-opacity="0.6"/><rect x="227.8" y="214.4" width="1.2" height="1.2" fill="#2a2a2a" fill-opacity="0.6"/><rect x="266.7" y="205.4" width="1.2" height="1.2" fill="#333333" fill-opacity="0.6"/><rect x="283.9" y="295.2" width="1.2" height="1.2" fill="#2a2a2a" fill-opacity="0.6"/><rect x="284.2" y="246.6" width="1.2" height="1.2" fill="#282828" fill-opacity="0.6"/><rect x="310.4" y="249.0" width="1.2" height="1.2" fill="#3b3b3b" fill-opacity="0.6"/><rect x="280.3" y="222.1" width="1.2" height="1.2" fill="#3b3b3b" fill-opacity="0.6"/><rect x="281.1" y="278.0" width="1.2" height="1.2" fill="#292929" fill-opacity="0.6"/><rect x="300.7" y="238.2" width="1.2" height="1.2" fill="#2b2b2b" fill-opacity="0.6"/><rect x="296.3" y="224.5" width="1.2" height="1.2" fill="#2f2f2f" fill-opacity="0.6"/><rect x="245.1" y="201.3" width="1.2" height="1.2" fill="#414141" fill-opacity="0.6"/><rect x="280.2" y="244.7" width="1.2" height="1.2" fill="#404040" fill-opacity="0.6"/><rect x="291.7" y="195.3" width="1.2" height="1.2" fill="#313131" fill-opacity="0.6"/><rect x="295.4" y="230.7" width="1.2" height="1.2" fill="#2e2e2e" fill-opacity="0.6"/><rect x="289.7" y="305.7" width="1.2" height="1.2" fill="#313131" fill-opacity="0.6"/><rect x="273.7" y="209.8" width="1.2" height="1.2" fill="#282828" fill-opacity="0.6"/><rect x="259.7" y="216.8" width="1.2" height="1.2" fill="#2d2d2d" fill-opacity="0.6"/><rect x="285.5" y="274.8" width="1.2" height="1.2" fill="#464646" fill-opacity="0.6"/><rect x="283.9" y="322.6" width="1.2" height="1.2" fill="#373737" fill-opacity="0.6"/><rect x="302.0" y="232.8" width="1.2" height="1.2" fill="#2b2b2b" fill-opacity="0.6"/><rect x="308.0" y="250.1" width="1.2" height="1.2" fill="#313131" fill-opacity="0.6"/><rect x="252.3" y="216.6" width="1.2" height="1.2" fill="#505050" fill-opacity="0.6"/><rect x="287.0" y="215.8" width="1.2" height="1.2" fill="#383838" fill-opacity="0.6"/><rect x="221.9" y="217.1" width="1.2" height="1.2" fill="#2a2a2a" fill-opacity="0.6"/><rect x="268.5" y="299.3" width="1.2" height="1.2" fill="#4f4f4f" fill-opacity="0.6"/><rect x="284.8" y="301.6" width="1.2" height="1.2" fill="#4e4e4e" fill-opacity="0.6"/><rect x="304.5" y="293.9" width="1.2" height="1.2" fill="#474747" fill-opacity="0.6"/><rect x="274.6" y="215.3" width="1.2" height="1.2" fill="#4c4c4c" fill-opacity="0.6"/><rect x="254.7" y="202.0" width="1.2" height="1.2" fill="#323232" fill-opacity="0.6"/><rect x="308.9" y="302.6" width="1.2" height="1.2" fill="#3f3f3f" fill-opacity="0.6"/><rect x="212.0" y="215.6" width="1.2" height="1.2" fill="#424242" fill-opacity="0.6"/><rect x="307.1" y="222.9" width="1.2" height="1.2" fill="#444444" fill-opacity="0.6"/><rect x="197.5" y="191.8" width="1.2" height="1.2" fill="#4c4c4c" fill-opacity="0.6"/><rect x="293.0" y="258.2" width="1.2" height="1.2" fill="#4f4f4f" fill-opacity="0.6"/><rect x="192.0" y="198.6" width="1.2" height="1.2" fill="#4e4e4e" fill-opacity="0.6"/><rect x="304.1" y="257.7" width="1.2" height="1.2" fill="#282828" fill-opacity="0.6"/><rect x="231.0" y="192.7" width="1.2" height="1.2" fill="#3b3b3b" fill-opacity="0.6"/><rect x="293.4" y="197.3" width="1.2" height="1.2" fill="#373737" fill-opacity="0.6"/><rect x="305.5" y="248.3" width="1.2" height="1.2" fill="#4e4e4e" fill-opacity="0.6"/><rect x="245.7" y="208.9" width="1.2" height="1.2" fill="#444444" fill-opacity="0.6"/><rect x="283.5" y="265.3" width="1.2" height="1.2" fill="#383838" fill-opacity="0.6"/><rect x="288.4" y="268.1" width="1.2" height="1.2" fill="#2a2a2a" fill-opacity="0.6"/><rect x="288.2" y="265.1" width="1.2" height="1.2" fill="#4c4c4c" fill-opacity="0.6"/><rect x="315.1" y="305.9" width="1.2" height="1.2" fill="#4b4b4b" fill-opacity="0.6"/><rect x="268.2" y="187.5" width="1.2" height="1.2" fill="#3e3e3e" fill-opacity="0.6"/><rect x="291.7" y="218.0" width="1.2" height="1.2" fill="#474747" fill-opacity="0.6"/><rect x="241.0" y="209.4" width="1.2" height="1.2" fill="#363636" fill-opacity="0.6"/><rect x="285.6" y="262.0" width="1.2" height="1.2" fill="#414141" fill-opacity="0.6"/><rect x="289.6" y="236.4" width="1.2" height="1.2" fill="#383838" fill-opacity="0.6"/><rect x="271.2" y="227.2" width="1.2" height="1.2" fill="#404040" fill-opacity="0.6"/><rect x="281.5" y="242.0" width="1.2" height="1.2" fill="#3e3e3e" fill-opacity="0.6"/><rect x="245.6" y="208.9" width="1.2" height="1.2" fill="#4d4d4d" fill-opacity="0.6"/><rect x="285.5" y="227.3" width="1.2" height="1.2" fill="#494949" fill-opacity="0.6"/><rect x="300.8" y="260.0" width="1.2" height="1.2" fill="#343434" fill-opacity="0.6"/><rect x="286.2" y="279.7" width="1.2" height="1.2" fill="#333333" fill-opacity="0.6"/><rect x="239.0" y="205.6" width="1.2" height="1.2" fill="#4c4c4c" fill-opacity="0.6"/><rect x="283.5" y="217.6" width="1.2" height="1.2" fill="#494949" fill-opacity="0.6"/><rect x="229.1" y="207.3" width="1.2" height="1.2" fill="#474747" fill-opacity="0.6"/><rect x="286.3" y="253.0" width="1.2" height="1.2" fill="#505050" fill-opacity="0.6"/><rect x="281.1" y="241.7" width="1.2" height="1.2" fill="#3c3c3c" fill-opacity="0.6"/><rect x="277.1" y="215.5" width="1.2" height="1.2" fill="#494949" fill-opacity="0.6"/><rect x="270.4" y="222.7" width="1.2" height="1.2" fill="#353535" fill-opacity="0.6"/><rect x="182.6" y="195.6" width="1.2" height="1.2" fill="#474747" fill-opacity="0.6"/><rect x="275.8" y="220.8" width="1.2" height="1.2" fill="#393939" fill-opacity="0.6"/><rect x="310.7" y="235.1" width="1.2" height="1.2" fill="#4d4d4d" fill-opacity="0.6"/><rect x="231.5" y="178.0" width="1.2" height="1.2" fill="#383838" fill-opacity="0.6"/><rect x="230.8" y="203.4" width="1.2" height="1.2" fill="#333333" fill-opacity="0.6"/><rect x="283.6" y="253.0" width="1.2" height="1.2" fill="#2a2a2a" fill-opacity="0.6"/><rect x="296.6" y="205.1" width="1.2" height="1.2" fill="#454545" fill-opacity="0.6"/><rect x="307.9" y="219.4" width="1.2" height="1.2" fill="#2c2c2c" fill-opacity="0.6"/><rect x="222.5" y="191.5" width="1.2" height="1.2" fill="#2f2f2f" fill-opacity="0.6"/><rect x="256.0" y="217.1" width="1.2" height="1.2" fill="#3c3c3c" fill-opacity="0.6"/><rect x="289.5" y="210.6" width="1.2" height="1.2" fill="#484848" fill-opacity="0.6"/><rect x="296.9" y="247.2" width="1.2" height="1.2" fill="#323232" fill-opacity="0.6"/><rect x="290.7" y="252.5" width="1.2" height="1.2" fill="#363636" fill-opacity="0.6"/><rect x="307.6" y="294.0" width="1.2" height="1.2" fill="#3e3e3e" fill-opacity="0.6"/><rect x="288.0" y="311.6" width="1.2" height="1.2" fill="#292929" fill-opacity="0.6"/><rect x="235.1" y="215.2" width="1.2" height="1.2" fill="#484848" fill-opacity="0.6"/><rect x="259.7" y="195.9" width="1.2" height="1.2" fill="#464646" fill-opacity="0.6"/><rect x="277.2" y="299.5" width="1.2" height="1.2" fill="#282828" fill-opacity="0.6"/><rect x="201.7" y="195.2" width="1.2" height="1.2" fill="#3b3b3b" fill-opacity="0.6"/><rect x="280.4" y="213.3" width="1.2" height="1.2" fill="#2e2e2e" fill-opacity="0.6"/><rect x="294.6" y="232.3" width="1.2" height="1.2" fill="#404040" fill-opacity="0.6"/><rect x="295.8" y="299.3" width="1.2" height="1.2" fill="#323232" fill-opacity="0.6"/><rect x="304.9" y="233.7" width="1.2" height="1.2" fill="#282828" fill-opacity="0.6"/><rect x="312.8" y="222.2" width="1.2" height="1.2" fill="#2a2a2a" fill-opacity="0.6"/><rect x="311.8" y="300.6" width="1.2" height="1.2" fill="#2c2c2c" fill-opacity="0.6"/><rect x="198.5" y="187.5" width="1.2" height="1.2" fill="#303030" fill-opacity="0.6"/><rect x="243.4" y="179.7" width="1.2" height="1.2" fill="#404040" fill-opacity="0.6"/><rect x="228.0" y="191.6" width="1.2" height="1.2" fill="#444444" fill-opacity="0.6"/><rect x="203.9" y="211.8" width="1.2" height="1.2" fill="#363636" fill-opacity="0.6"/><rect x="302.2" y="225.9" width="1.2" height="1.2" fill="#313131" fill-opacity="0.6"/><rect x="308.6" y="257.4" width="1.2" height="1.2" fill="#333333" fill-opacity="0.6"/><rect x="258.1" y="199.3" width="1.2" height="1.2" fill="#313131" fill-opacity="0.6"/><rect x="284.8" y="243.7" width="1.2" height="1.2" fill="#424242" fill-opacity="0.6"/><rect x="286.5" y="247.3" width="1.2" height="1.2" fill="#393939" fill-opacity="0.6"/><rect x="280.0" y="220.0" width="1.2" height="1.2" fill="#323232" fill-opacity="0.6"/><rect x="286.7" y="268.9" width="1.2" height="1.2" fill="#454545" fill-opacity="0.6"/><rect x="222.5" y="214.2" width="1.2" height="1.2" fill="#484848" fill-opacity="0.6"/><rect x="296.2" y="322.4" width="1.2" height="1.2" fill="#353535" fill-opacity="0.6"/><rect x="295.2" y="205.6" width="1.2" height="1.2" fill="#2f2f2f" fill-opacity="0.6"/><rect x="289.7" y="269.9" width="1.2" height="1.2" fill="#3f3f3f" fill-opacity="0.6"/><rect x="288.7" y="243.1" width="1.2" height="1.2" fill="#373737" fill-opacity="0.6"/><rect x="218.9" y="216.0" width="1.2" height="1.2" fill="#3a3a3a" fill-opacity="0.6"/><rect x="286.5" y="246.7" width="1.2" height="1.2" fill="#3a3a3a" fill-opacity="0.6"/><rect x="303.6" y="299.2" width="1.2" height="1.2" fill="#444444" fill-opacity="0.6"/><rect x="238.5" y="203.5" width="1.2" height="1.2" fill="#303030" fill-opacity="0.6"/><rect x="304.2" y="233.7" width="1.2" height="1.2" fill="#494949" fill-opacity="0.6"/><rect x="295.7" y="266.1" width="1.2" height="1.2" fill="#2a2a2a" fill-opacity="0.6"/><rect x="218.7" y="210.6" width="1.2" height="1.2" fill="#4c4c4c" fill-opacity="0.6"/><rect x="305.6" y="290.6" width="1.2" height="1.2" fill="#494949" fill-opacity="0.6"/><rect x="245.7" y="190.0" width="1.2" height="1.2" fill="#343434" fill-opacity="0.6"/><rect x="286.7" y="199.6" width="1.2" height="1.2" fill="#4e4e4e" fill-opacity="0.6"/><rect x="255.5" y="190.8" width="1.2" height="1.2" fill="#333333" fill-opacity="0.6"/><rect x="300.6" y="282.5" width="1.2" height="1.2" fill="#505050" fill-opacity="0.6"/><rect x="236.0" y="193.6" width="1.2" height="1.2" fill="#343434" fill-opacity="0.6"/><rect x="281.7" y="322.7" width="1.2" height="1.2" fill="#494949" fill-opacity="0.6"/><rect x="304.9" y="241.6" width="1.2" height="1.2" fill="#2b2b2b" fill-opacity="0.6"/><rect x="288.4" y="225.4" width="1.2" height="1.2" fill="#3a3a3a" fill-opacity="0.6"/><rect x="225.6" y="182.0" width="1.2" height="1.2" fill="#474747" fill-opacity="0.6"/><rect x="289.1" y="302.9" width="1.2" height="1.2" fill="#464646" fill-opacity="0.6"/><rect x="302.9" y="302.0" width="1.2" height="1.2" fill="#373737" fill-opacity="0.6"/><rect x="305.7" y="289.4" width="1.2" height="1.2" fill="#3f3f3f" fill-opacity="0.6"/><rect x="287.4" y="319.5" width="1.2" height="1.2" fill="#4c4c4c" fill-opacity="0.6"/><rect x="270.1" y="226.6" width="1.2" height="1.2" fill="#494949" fill-opacity="0.6"/><rect x="196.6" y="183.4" width="1.2" height="1.2" fill="#2c2c2c" fill-opacity="0.6"/><rect x="302.7" y="305.6" width="1.2" height="1.2" fill="#3c3c3c" fill-opacity="0.6"/><rect x="243.3" y="183.3" width="1.2" height="1.2" fill="#4c4c4c" fill-opacity="0.6"/><rect x="248.9" y="217.2" width="1.2" height="1.2" fill="#2e2e2e" fill-opacity="0.6"/><rect x="202.9" y="203.6" width="1.2" height="1.2" fill="#484848" fill-opacity="0.6"/><rect x="287.4" y="324.4" width="1.2" height="1.2" fill="#303030" fill-opacity="0.6"/><rect x="289.7" y="330.6" width="1.2" height="1.2" fill="#363636" fill-opacity="0.6"/><rect x="270.2" y="219.3" width="1.2" height="1.2" fill="#3b3b3b" fill-opacity="0.6"/><rect x="309.9" y="275.5" width="1.2" height="1.2" fill="#292929" fill-opacity="0.6"/><rect x="288.6" y="329.4" width="1.2" height="1.2" fill="#343434" fill-opacity="0.6"/><rect x="311.1" y="273.2" width="1.2" height="1.2" fill="#505050" fill-opacity="0.6"/><rect x="284.5" y="212.4" width="1.2" height="1.2" fill="#444444" fill-opacity="0.6"/><rect x="304.4" y="313.1" width="1.2" height="1.2" fill="#333333" fill-opacity="0.6"/><rect x="275.3" y="299.9" width="1.2" height="1.2" fill="#474747" fill-opacity="0.6"/><rect x="288.3" y="203.8" width="1.2" height="1.2" fill="#2f2f2f" fill-opacity="0.6"/><rect x="293.2" y="297.9" width="1.2" height="1.2" fill="#303030" fill-opacity="0.6"/><rect x="282.1" y="225.5" width="1.2" height="1.2" fill="#363636" fill-opacity="0.6"/><rect x="301.7" y="297.2" width="1.2" height="1.2" fill="#414141" fill-opacity="0.6"/><rect x="303.3" y="293.7" width="1.2" height="1.2" fill="#505050" fill-opacity="0.6"/><rect x="296.2" y="248.2" width="1.2" height="1.2" fill="#4e4e4e" fill-opacity="0.6"/><rect x="288.9" y="223.2" width="1.2" height="1.2" fill="#2b2b2b" fill-opacity="0.6"/><rect x="244.6" y="204.5" width="1.2" height="1.2" fill="#373737" fill-opacity="0.6"/><rect x="228.0" y="188.0" width="1.2" height="1.2" fill="#4c4c4c" fill-opacity="0.6"/><rect x="236.1" y="180.4" width="1.2" height="1.2" fill="#414141" fill-opacity="0.6"/><rect x="233.2" y="215.0" width="1.2" height="1.2" fill="#494949" fill-opacity="0.6"/><rect x="305.2" y="299.7" width="1.2" height="1.2" fill="#3e3e3e" fill-opacity="0.6"/><rect x="296.7" y="272.8" width="1.2" height="1.2" fill="#505050" fill-opacity="0.6"/><rect x="270.4" y="302.5" width="1.2" height="1.2" fill="#333333" fill-opacity="0.6"/><rect x="286.6" y="306.5" width="1.2" height="1.2" fill="#484848" fill-opacity="0.6"/><rect x="263.3" y="213.7" width="1.2" height="1.2" fill="#424242" fill-opacity="0.6"/><rect x="190.9" y="195.4" width="1.2" height="1.2" fill="#454545" fill-opacity="0.6"/><rect x="279.2" y="196.1" width="1.2" height="1.2" fill="#2a2a2a" fill-opacity="0.6"/><rect x="285.6" y="317.8" width="1.2" height="1.2" fill="#393939" fill-opacity="0.6"/><rect x="208.5" y="195.3" width="1.2" height="1.2" fill="#505050" fill-opacity="0.6"/><rect x="300.9" y="206.3" width="1.2" height="1.2" fill="#4f4f4f" fill-opacity="0.6"/><rect x="282.0" y="293.7" width="1.2" height="1.2" fill="#282828" fill-opacity="0.6"/><rect x="310.1" y="233.3" width="1.2" height="1.2" fill="#3a3a3a" fill-opacity="0.6"/><rect x="290.3" y="297.8" width="1.2" height="1.2" fill="#323232" fill-opacity="0.6"/><rect x="298.9" y="302.7" width="1.2" height="1.2" fill="#484848" fill-opacity="0.6"/><rect x="223.4" y="215.2" width="1.2" height="1.2" fill="#4d4d4d" fill-opacity="0.6"/><rect x="280.9" y="228.5" width="1.2" height="1.2" fill="#2f2f2f" fill-opacity="0.6"/><rect x="305.3" y="213.3" width="1.2" height="1.2" fill="#424242" fill-opacity="0.6"/><rect x="278.5" y="219.9" width="1.2" height="1.2" fill="#2d2d2d" fill-opacity="0.6"/><rect x="251.4" y="208.7" width="1.2" height="1.2" fill="#454545" fill-opacity="0.6"/><rect x="279.6" y="206.8" width="1.2" height="1.2" fill="#404040" fill-opacity="0.6"/><rect x="303.3" y="284.7" width="1.2" height="1.2" fill="#454545" fill-opacity="0.6"/><rect x="221.1" y="206.1" width="1.2" height="1.2" fill="#464646" fill-opacity="0.6"/><rect x="292.7" y="233.8" width="1.2" height="1.2" fill="#373737" fill-opacity="0.6"/><rect x="289.9" y="258.4" width="1.2" height="1.2" fill="#4a4a4a" fill-opacity="0.6"/><rect x="301.9" y="247.8" width="1.2" height="1.2" fill="#282828" fill-opacity="0.6"/><rect x="217.5" y="213.5" width="1.2" height="1.2" fill="#373737" fill-opacity="0.6"/><rect x="294.7" y="259.7" width="1.2" height="1.2" fill="#393939" fill-opacity="0.6"/><rect x="316.9" y="268.4" width="1.2" height="1.2" fill="#3a3a3a" fill-opacity="0.6"/><rect x="274.3" y="295.6" width="1.2" height="1.2" fill="#4b4b4b" fill-opacity="0.6"/><rect x="297.6" y="319.9" width="1.2" height="1.2" fill="#444444" fill-opacity="0.6"/><rect x="269.4" y="204.0" width="1.2" height="1.2" fill="#444444" fill-opacity="0.6"/><rect x="309.0" y="252.6" width="1.2" height="1.2" fill="#494949" fill-opacity="0.6"/><rect x="313.1" y="282.4" width="1.2" height="1.2" fill="#313131" fill-opacity="0.6"/><rect x="302.6" y="240.5" width="1.2" height="1.2" fill="#303030" fill-opacity="0.6"/><rect x="267.0" y="199.1" width="1.2" height="1.2" fill="#393939" fill-opacity="0.6"/><rect x="234.2" y="196.1" width="1.2" height="1.2" fill="#464646" fill-opacity="0.6"/><rect x="304.4" y="270.5" width="1.2" height="1.2" fill="#505050" fill-opacity="0.6"/><rect x="220.1" y="214.2" width="1.2" height="1.2" fill="#2e2e2e" fill-opacity="0.6"/><rect x="281.9" y="325.9" width="1.2" height="1.2" fill="#4d4d4d" fill-opacity="0.6"/><rect x="292.4" y="298.4" width="1.2" height="1.2" fill="#4c4c4c" fill-opacity="0.6"/><rect x="311.3" y="302.7" width="1.2" height="1.2" fill="#393939" fill-opacity="0.6"/><rect x="220.4" y="193.2" width="1.2" height="1.2" fill="#404040" fill-opacity="0.6"/><rect x="224.8" y="189.1" width="1.2" height="1.2" fill="#3a3a3a" fill-opacity="0.6"/><rect x="254.6" y="208.9" width="1.2" height="1.2" fill="#414141" fill-opacity="0.6"/><rect x="294.5" y="217.9" width="1.2" height="1.2" fill="#3c3c3c" fill-opacity="0.6"/><rect x="282.0" y="324.9" width="1.2" height="1.2" fill="#474747" fill-opacity="0.6"/><rect x="292.5" y="250.5" width="1.2" height="1.2" fill="#4a4a4a" fill-opacity="0.6"/><rect x="288.5" y="262.8" width="1.2" height="1.2" fill="#4c4c4c" fill-opacity="0.6"/><rect x="290.4" y="251.6" width="1.2" height="1.2" fill="#3d3d3d" fill-opacity="0.6"/><rect x="312.3" y="259.1" width="1.2" height="1.2" fill="#373737" fill-opacity="0.6"/><rect x="210.0" y="214.6" width="1.2" height="1.2" fill="#434343" fill-opacity="0.6"/><rect x="209.4" y="180.2" width="1.2" height="1.2" fill="#292929" fill-opacity="0.6"/><rect x="286.2" y="313.6" width="1.2" height="1.2" fill="#474747" fill-opacity="0.6"/><rect x="301.8" y="264.1" width="1.2" height="1.2" fill="#3b3b3b" fill-opacity="0.6"/><rect x="303.6" y="205.0" width="1.2" height="1.2" fill="#494949" fill-opacity="0.6"/><rect x="231.4" y="187.6" width="1.2" height="1.2" fill="#434343" fill-opacity="0.6"/><rect x="294.1" y="248.6" width="1.2" height="1.2" fill="#4e4e4e" fill-opacity="0.6"/><rect x="264.9" y="205.0" width="1.2" height="1.2" fill="#282828" fill-opacity="0.6"/><rect x="265.7" y="202.3" width="1.2" height="1.2" fill="#2e2e2e" fill-opacity="0.6"/><rect x="297.7" y="243.8" width="1.2" height="1.2" fill="#4b4b4b" fill-opacity="0.6"/><rect x="217.0" y="214.1" width="1.2" height="1.2" fill="#343434" fill-opacity="0.6"/><rect x="200.7" y="205.0" width="1.2" height="1.2" fill="#444444" fill-opacity="0.6"/><rect x="246.5" y="184.9" width="1.2" height="1.2" fill="#4d4d4d" fill-opacity="0.6"/><rect x="301.4" y="255.8" width="1.2" height="1.2" fill="#2d2d2d" fill-opacity="0.6"/><rect x="288.7" y="284.2" width="1.2" height="1.2" fill="#2c2c2c" fill-opacity="0.6"/><rect x="233.1" y="196.3" width="1.2" height="1.2" fill="#2f2f2f" fill-opacity="0.6"/><rect x="266.5" y="212.1" width="1.2" height="1.2" fill="#3d3d3d" fill-opacity="0.6"/><rect x="230.8" y="176.9" width="1.2" height="1.2" fill="#424242" fill-opacity="0.6"/><rect x="274.7" y="206.1" width="1.2" height="1.2" fill="#484848" fill-opacity="0.6"/><rect x="309.6" y="285.6" width="1.2" height="1.2" fill="#424242" fill-opacity="0.6"/><rect x="299.2" y="287.1" width="1.2" height="1.2" fill="#4e4e4e" fill-opacity="0.6"/><rect x="296.1" y="304.6" width="1.2" height="1.2" fill="#505050" fill-opacity="0.6"/><rect x="265.5" y="222.3" width="1.2" height="1.2" fill="#424242" fill-opacity="0.6"/><rect x="268.1" y="299.0" width="1.2" height="1.2" fill="#4b4b4b" fill-opacity="0.6"/><rect x="273.0" y="309.9" width="1.2" height="1.2" fill="#2e2e2e" fill-opacity="0.6"/><rect x="286.1" y="206.7" width="1.2" height="1.2" fill="#343434" fill-opacity="0.6"/><rect x="302.8" y="290.6" width="1.2" height="1.2" fill="#4c4c4c" fill-opacity="0.6"/><rect x="304.9" y="271.1" width="1.2" height="1.2" fill="#4a4a4a" fill-opacity="0.6"/><rect x="282.9" y="231.0" width="1.2" height="1.2" fill="#343434" fill-opacity="0.6"/><rect x="285.4" y="247.8" width="1.2" height="1.2" fill="#323232" fill-opacity="0.6"/><rect x="293.1" y="221.4" width="1.2" height="1.2" fill="#292929" fill-opacity="0.6"/><rect x="283.4" y="295.0" width="1.2" height="1.2" fill="#494949" fill-opacity="0.6"/><rect x="295.5" y="227.0" width="1.2" height="1.2" fill="#434343" fill-opacity="0.6"/><rect x="240.1" y="214.8" width="1.2" height="1.2" fill="#282828" fill-opacity="0.6"/><rect x="264.6" y="199.8" width="1.2" height="1.2" fill="#313131" fill-opacity="0.6"/><rect x="256.4" y="206.8" width="1.2" height="1.2" fill="#323232" fill-opacity="0.6"/><rect x="285.0" y="317.6" width="1.2" height="1.2" fill="#4d4d4d" fill-opacity="0.6"/><rect x="279.4" y="300.1" width="1.2" height="1.2" fill="#4f4f4f" fill-opacity="0.6"/><rect x="284.2" y="251.8" width="1.2" height="1.2" fill="#414141" fill-opacity="0.6"/><rect x="293.5" y="198.1" width="1.2" height="1.2" fill="#444444" fill-opacity="0.6"/><rect x="279.4" y="302.5" width="1.2" height="1.2" fill="#363636" fill-opacity="0.6"/><rect x="294.3" y="325.7" width="1.2" height="1.2" fill="#333333" fill-opacity="0.6"/><rect x="314.3" y="261.1" width="1.2" height="1.2" fill="#454545" fill-opacity="0.6"/><rect x="304.1" y="263.4" width="1.2" height="1.2" fill="#474747" fill-opacity="0.6"/><rect x="210.4" y="221.4" width="1.2" height="1.2" fill="#404040" fill-opacity="0.6"/><rect x="266.7" y="200.3" width="1.2" height="1.2" fill="#424242" fill-opacity="0.6"/><rect x="313.4" y="262.4" width="1.2" height="1.2" fill="#474747" fill-opacity="0.6"/><rect x="288.0" y="327.0" width="1.2" height="1.2" fill="#2d2d2d" fill-opacity="0.6"/><rect x="290.2" y="284.4" width="1.2" height="1.2" fill="#333333" fill-opacity="0.6"/><rect x="284.9" y="329.5" width="1.2" height="1.2" fill="#414141" fill-opacity="0.6"/><rect x="276.7" y="226.4" width="1.2" height="1.2" fill="#4a4a4a" fill-opacity="0.6"/><rect x="224.9" y="204.1" width="1.2" height="1.2" fill="#2c2c2c" fill-opacity="0.6"/><rect x="203.3" y="207.0" width="1.2" height="1.2" fill="#3e3e3e" fill-opacity="0.6"/><rect x="284.7" y="219.4" width="1.2" height="1.2" fill="#454545" fill-opacity="0.6"/><rect x="291.5" y="266.1" width="1.2" height="1.2" fill="#2a2a2a" fill-opacity="0.6"/><rect x="284.2" y="266.0" width="1.2" height="1.2" fill="#313131" fill-opacity="0.6"/><rect x="286.8" y="271.7" width="1.2" height="1.2" fill="#343434" fill-opacity="0.6"/><rect x="311.3" y="271.3" width="1.2" height="1.2" fill="#303030" fill-opacity="0.6"/><rect x="286.6" y="217.0" width="1.2" height="1.2" fill="#373737" fill-opacity="0.6"/><rect x="295.7" y="290.5" width="1.2" height="1.2" fill="#414141" fill-opacity="0.6"/><rect x="314.6" y="246.2" width="1.2" height="1.2" fill="#353535" fill-opacity="0.6"/><rect x="299.7" y="264.4" width="1.2" height="1.2" fill="#353535" fill-opacity="0.6"/><rect x="296.7" y="276.9" width="1.2" height="1.2" fill="#303030" fill-opacity="0.6"/><rect x="192.8" y="183.6" width="1.2" height="1.2" fill="#4e4e4e" fill-opacity="0.6"/><rect x="213.9" y="195.3" width="1.2" height="1.2" fill="#3f3f3f" fill-opacity="0.6"/><rect x="287.9" y="221.6" width="1.2" height="1.2" fill="#484848" fill-opacity="0.6"/><rect x="309.3" y="284.3" width="1.2" height="1.2" fill="#2f2f2f" fill-opacity="0.6"/><rect x="260.3" y="218.2" width="1.2" height="1.2" fill="#393939" fill-opacity="0.6"/><rect x="254.2" y="190.5" width="1.2" height="1.2" fill="#292929" fill-opacity="0.6"/><rect x="270.1" y="202.2" width="1.2" height="1.2" fill="#3b3b3b" fill-opacity="0.6"/><rect x="283.1" y="322.7" width="1.2" height="1.2" fill="#333333" fill-opacity="0.6"/><rect x="244.9" y="208.8" width="1.2" height="1.2" fill="#343434" fill-opacity="0.6"/><rect x="262.8" y="218.3" width="1.2" height="1.2" fill="#4b4b4b" fill-opacity="0.6"/><rect x="205.7" y="187.9" width="1.2" height="1.2" fill="#3b3b3b" fill-opacity="0.6"/><rect x="302.9" y="286.4" width="1.2" height="1.2" fill="#2d2d2d" fill-opacity="0.6"/><rect x="286.1" y="273.7" width="1.2" height="1.2" fill="#414141" fill-opacity="0.6"/><rect x="297.1" y="266.9" width="1.2" height="1.2" fill="#454545" fill-opacity="0.6"/><rect x="244.4" y="182.9" width="1.2" height="1.2" fill="#303030" fill-opacity="0.6"/><rect x="214.9" y="213.8" width="1.2" height="1.2" fill="#3f3f3f" fill-opacity="0.6"/><rect x="266.6" y="197.1" width="1.2" height="1.2" fill="#3e3e3e" fill-opacity="0.6"/><rect x="225.3" y="217.4" width="1.2" height="1.2" fill="#454545" fill-opacity="0.6"/><rect x="310.8" y="276.2" width="1.2" height="1.2" fill="#3e3e3e" fill-opacity="0.6"/><rect x="222.3" y="214.9" width="1.2" height="1.2" fill="#3a3a3a" fill-opacity="0.6"/><rect x="307.9" y="311.6" width="1.2" height="1.2" fill="#363636" fill-opacity="0.6"/><rect x="254.6" y="218.7" width="1.2" height="1.2" fill="#2a2a2a" fill-opacity="0.6"/><rect x="277.0" y="211.6" width="1.2" height="1.2" fill="#3b3b3b" fill-opacity="0.6"/><rect x="308.4" y="298.9" width="1.2" height="1.2" fill="#4b4b4b" fill-opacity="0.6"/><rect x="305.4" y="262.0" width="1.2" height="1.2" fill="#333333" fill-opacity="0.6"/><rect x="279.2" y="222.7" width="1.2" height="1.2" fill="#474747" fill-opacity="0.6"/><rect x="255.5" y="210.5" width="1.2" height="1.2" fill="#434343" fill-opacity="0.6"/><rect x="267.6" y="201.0" width="1.2" height="1.2" fill="#282828" fill-opacity="0.6"/><rect x="302.8" y="308.6" width="1.2" height="1.2" fill="#3a3a3a" fill-opacity="0.6"/><rect x="208.0" y="184.1" width="1.2" height="1.2" fill="#4d4d4d" fill-opacity="0.6"/><rect x="269.5" y="224.2" width="1.2" height="1.2" fill="#373737" fill-opacity="0.6"/><rect x="259.2" y="220.0" width="1.2" height="1.2" fill="#3c3c3c" fill-opacity="0.6"/><rect x="310.5" y="285.3" width="1.2" height="1.2" fill="#2d2d2d" fill-opacity="0.6"/><rect x="305.0" y="239.5" width="1.2" height="1.2" fill="#4f4f4f" fill-opacity="0.6"/><rect x="234.4" y="205.7" width="1.2" height="1.2" fill="#2d2d2d" fill-opacity="0.6"/><rect x="315.4" y="252.9" width="1.2" height="1.2" fill="#444444" fill-opacity="0.6"/><rect x="203.8" y="193.7" width="1.2" height="1.2" fill="#505050" fill-opacity="0.6"/><rect x="275.4" y="207.2" width="1.2" height="1.2" fill="#353535" fill-opacity="0.6"/><rect x="296.8" y="240.3" width="1.2" height="1.2" fill="#303030" fill-opacity="0.6"/><rect x="286.8" y="233.3" width="1.2" height="1.2" fill="#4b4b4b" fill-opacity="0.6"/><rect x="301.3" y="271.5" width="1.2" height="1.2" fill="#505050" fill-opacity="0.6"/><rect x="290.8" y="273.6" width="1.2" height="1.2" fill="#2b2b2b" fill-opacity="0.6"/><rect x="289.4" y="285.1" width="1.2" height="1.2" fill="#2d2d2d" fill-opacity="0.6"/><rect x="290.7" y="279.5" width="1.2" height="1.2" fill="#303030" fill-opacity="0.6"/><rect x="263.3" y="203.2" width="1.2" height="1.2" fill="#464646" fill-opacity="0.6"/><rect x="290.3" y="273.2" width="1.2" height="1.2" fill="#484848" fill-opacity="0.6"/><rect x="258.7" y="216.0" width="1.2" height="1.2" fill="#3e3e3e" fill-opacity="0.6"/><rect x="257.6" y="215.7" width="1.2" height="1.2" fill="#313131" fill-opacity="0.6"/><rect x="276.3" y="219.8" width="1.2" height="1.2" fill="#505050" fill-opacity="0.6"/><rect x="235.3" y="194.9" width="1.2" height="1.2" fill="#323232" fill-opacity="0.6"/><rect x="261.2" y="215.9" width="1.2" height="1.2" fill="#454545" fill-opacity="0.6"/><rect x="231.0" y="200.6" width="1.2" height="1.2" fill="#353535" fill-opacity="0.6"/><rect x="288.7" y="296.1" width="1.2" height="1.2" fill="#3f3f3f" fill-opacity="0.6"/><rect x="282.5" y="236.9" width="1.2" height="1.2" fill="#393939" fill-opacity="0.6"/><rect x="287.4" y="262.8" width="1.2" height="1.2" fill="#3b3b3b" fill-opacity="0.6"/><rect x="283.1" y="243.0" width="1.2" height="1.2" fill="#3c3c3c" fill-opacity="0.6"/><rect x="297.2" y="236.6" width="1.2" height="1.2" fill="#3a3a3a" fill-opacity="0.6"/><rect x="281.2" y="280.6" width="1.2" height="1.2" fill="#282828" fill-opacity="0.6"/><rect x="314.9" y="220.7" width="1.2" height="1.2" fill="#474747" fill-opacity="0.6"/><rect x="296.7" y="312.5" width="1.2" height="1.2" fill="#4c4c4c" fill-opacity="0.6"/><rect x="304.8" y="271.4" width="1.2" height="1.2" fill="#434343" fill-opacity="0.6"/><rect x="305.7" y="220.4" width="1.2" height="1.2" fill="#3c3c3c" fill-opacity="0.6"/><rect x="285.8" y="330.7" width="1.2" height="1.2" fill="#3a3a3a" fill-opacity="0.6"/><rect x="282.7" y="192.4" width="1.2" height="1.2" fill="#383838" fill-opacity="0.6"/><rect x="263.8" y="220.0" width="1.2" height="1.2" fill="#292929" fill-opacity="0.6"/><rect x="278.5" y="310.9" width="1.2" height="1.2" fill="#313131" fill-opacity="0.6"/><rect x="289.9" y="264.0" width="1.2" height="1.2" fill="#505050" fill-opacity="0.6"/><rect x="303.2" y="210.3" width="1.2" height="1.2" fill="#323232" fill-opacity="0.6"/><rect x="299.9" y="309.2" width="1.2" height="1.2" fill="#3b3b3b" fill-opacity="0.6"/><rect x="251.2" y="207.1" width="1.2" height="1.2" fill="#333333" fill-opacity="0.6"/><rect x="268.9" y="210.5" width="1.2" height="1.2" fill="#363636" fill-opacity="0.6"/><rect x="301.4" y="250.8" width="1.2" height="1.2" fill="#3f3f3f" fill-opacity="0.6"/><rect x="232.9" y="206.8" width="1.2" height="1.2" fill="#2b2b2b" fill-opacity="0.6"/><rect x="285.1" y="314.5" width="1.2" height="1.2" fill="#505050" fill-opacity="0.6"/><rect x="199.2" y="181.0" width="1.2" height="1.2" fill="#414141" fill-opacity="0.6"/><rect x="205.3" y="181.7" width="1.2" height="1.2" fill="#474747" fill-opacity="0.6"/><rect x="304.1" y="238.5" width="1.2" height="1.2" fill="#3b3b3b" fill-opacity="0.6"/><rect x="282.1" y="205.8" width="1.2" height="1.2" fill="#313131" fill-opacity="0.6"/><rect x="259.5" y="215.0" width="1.2" height="1.2" fill="#444444" fill-opacity="0.6"/><rect x="271.5" y="209.8" width="1.2" height="1.2" fill="#2a2a2a" fill-opacity="0.6"/><rect x="227.6" y="197.8" width="1.2" height="1.2" fill="#353535" fill-opacity="0.6"/><rect x="252.9" y="219.9" width="1.2" height="1.2" fill="#4f4f4f" fill-opacity="0.6"/><rect x="222.6" y="185.4" width="1.2" height="1.2" fill="#434343" fill-opacity="0.6"/><rect x="284.7" y="287.0" width="1.2" height="1.2" fill="#2b2b2b" fill-opacity="0.6"/><rect x="291.1" y="224.2" width="1.2" height="1.2" fill="#3d3d3d" fill-opacity="0.6"/><rect x="274.6" y="294.7" width="1.2" height="1.2" fill="#333333" fill-opacity="0.6"/><rect x="221.3" y="212.2" width="1.2" height="1.2" fill="#3a3a3a" fill-opacity="0.6"/><rect x="282.6" y="327.2" width="1.2" height="1.2" fill="#3e3e3e" fill-opacity="0.6"/><rect x="284.7" y="215.3" width="1.2" height="1.2" fill="#4a4a4a" fill-opacity="0.6"/><rect x="299.3" y="259.6" width="1.2" height="1.2" fill="#4a4a4a" fill-opacity="0.6"/><rect x="205.9" y="185.1" width="1.2" height="1.2" fill="#414141" fill-opacity="0.6"/><rect x="197.5" y="199.9" width="1.2" height="1.2" fill="#2b2b2b" fill-opacity="0.6"/><rect x="254.9" y="207.4" width="1.2" height="1.2" fill="#3b3b3b" fill-opacity="0.6"/><rect x="283.9" y="217.0" width="1.2" height="1.2" fill="#3f3f3f" fill-opacity="0.6"/><rect x="302.4" y="224.9" width="1.2" height="1.2" fill="#3b3b3b" fill-opacity="0.6"/><rect x="223.4" y="196.0" width="1.2" height="1.2" fill="#505050" fill-opacity="0.6"/><rect x="274.4" y="303.8" width="1.2" height="1.2" fill="#444444" fill-opacity="0.6"/><rect x="258.8" y="215.5" width="1.2" height="1.2" fill="#4d4d4d" fill-opacity="0.6"/><rect x="302.2" y="250.0" width="1.2" height="1.2" fill="#424242" fill-opacity="0.6"/><rect x="291.2" y="254.2" width="1.2" height="1.2" fill="#444444" fill-opacity="0.6"/><rect x="285.8" y="249.8" width="1.2" height="1.2" fill="#333333" fill-opacity="0.6"/><rect x="208.2" y="215.6" width="1.2" height="1.2" fill="#2f2f2f" fill-opacity="0.6"/><rect x="308.9" y="282.0" width="1.2" height="1.2" fill="#2e2e2e" fill-opacity="0.6"/><rect x="300.9" y="286.8" width="1.2" height="1.2" fill="#474747" fill-opacity="0.6"/><rect x="296.9" y="277.0" width="1.2" height="1.2" fill="#4a4a4a" fill-opacity="0.6"/><rect x="275.3" y="225.3" width="1.2" height="1.2" fill="#484848" fill-opacity="0.6"/><rect x="211.9" y="196.8" width="1.2" height="1.2" fill="#424242" fill-opacity="0.6"/><rect x="268.2" y="192.0" width="1.2" height="1.2" fill="#303030" fill-opacity="0.6"/><rect x="223.6" y="195.2" width="1.2" height="1.2" fill="#2f2f2f" fill-opacity="0.6"/><rect x="283.4" y="191.7" width="1.2" height="1.2" fill="#484848" fill-opacity="0.6"/><rect x="303.1" y="312.2" width="1.2" height="1.2" fill="#414141" fill-opacity="0.6"/><rect x="301.7" y="204.7" width="1.2" height="1.2" fill="#343434" fill-opacity="0.6"/><rect x="293.1" y="206.9" width="1.2" height="1.2" fill="#303030" fill-opacity="0.6"/><rect x="303.4" y="249.5" width="1.2" height="1.2" fill="#414141" fill-opacity="0.6"/><rect x="294.6" y="274.5" width="1.2" height="1.2" fill="#282828" fill-opacity="0.6"/><rect x="264.1" y="184.7" width="1.2" height="1.2" fill="#454545" fill-opacity="0.6"/><rect x="307.7" y="264.3" width="1.2" height="1.2" fill="#434343" fill-opacity="0.6"/><rect x="222.0" y="215.5" width="1.2" height="1.2" fill="#343434" fill-opacity="0.6"/><rect x="296.7" y="202.7" width="1.2" height="1.2" fill="#3e3e3e" fill-opacity="0.6"/><rect x="301.3" y="291.6" width="1.2" height="1.2" fill="#3d3d3d" fill-opacity="0.6"/><rect x="237.0" y="187.6" width="1.2" height="1.2" fill="#282828" fill-opacity="0.6"/><rect x="236.4" y="212.1" width="1.2" height="1.2" fill="#3f3f3f" fill-opacity="0.6"/><rect x="294.3" y="221.8" width="1.2" height="1.2" fill="#3e3e3e" fill-opacity="0.6"/><rect x="253.3" y="218.4" width="1.2" height="1.2" fill="#4e4e4e" fill-opacity="0.6"/><rect x="295.3" y="254.7" width="1.2" height="1.2" fill="#3c3c3c" fill-opacity="0.6"/><rect x="240.4" y="212.8" width="1.2" height="1.2" fill="#373737" fill-opacity="0.6"/><rect x="289.3" y="270.3" width="1.2" height="1.2" fill="#444444" fill-opacity="0.6"/><rect x="290.3" y="331.2" width="1.2" height="1.2" fill="#444444" fill-opacity="0.6"/><rect x="280.4" y="289.5" width="1.2" height="1.2" fill="#2f2f2f" fill-opacity="0.6"/><rect x="282.6" y="300.8" width="1.2" height="1.2" fill="#313131" fill-opacity="0.6"/><rect x="282.2" y="222.2" width="1.2" height="1.2" fill="#404040" fill-opacity="0.6"/><rect x="229.9" y="193.2" width="1.2" height="1.2" fill="#383838" fill-opacity="0.6"/><rect x="295.2" y="213.4" width="1.2" height="1.2" fill="#393939" fill-opacity="0.6"/><rect x="216.9" y="220.7" width="1.2" height="1.2" fill="#3d3d3d" fill-opacity="0.6"/><rect x="194.0" y="209.0" width="1.2" height="1.2" fill="#464646" fill-opacity="0.6"/><rect x="217.4" y="185.4" width="1.2" height="1.2" fill="#2a2a2a" fill-opacity="0.6"/><rect x="292.4" y="311.2" width="1.2" height="1.2" fill="#4e4e4e" fill-opacity="0.6"/><rect x="297.8" y="247.0" width="1.2" height="1.2" fill="#323232" fill-opacity="0.6"/><rect x="261.5" y="204.2" width="1.2" height="1.2" fill="#363636" fill-opacity="0.6"/><rect x="220.3" y="193.1" width="1.2" height="1.2" fill="#2c2c2c" fill-opacity="0.6"/><rect x="300.9" y="252.4" width="1.2" height="1.2" fill="#3b3b3b" fill-opacity="0.6"/><rect x="215.3" y="194.9" width="1.2" height="1.2" fill="#2a2a2a" fill-opacity="0.6"/><rect x="307.5" y="283.9" width="1.2" height="1.2" fill="#454545" fill-opacity="0.6"/><rect x="299.5" y="258.2" width="1.2" height="1.2" fill="#3e3e3e" fill-opacity="0.6"/><rect x="295.0" y="261.3" width="1.2" height="1.2" fill="#464646" fill-opacity="0.6"/><rect x="284.2" y="258.8" width="1.2" height="1.2" fill="#454545" fill-opacity="0.6"/><rect x="219.5" y="193.3" width="1.2" height="1.2" fill="#505050" fill-opacity="0.6"/><rect x="304.8" y="299.6" width="1.2" height="1.2" fill="#393939" fill-opacity="0.6"/><rect x="284.6" y="251.9" width="1.2" height="1.2" fill="#383838" fill-opacity="0.6"/><rect x="302.5" y="253.0" width="1.2" height="1.2" fill="#4d4d4d" fill-opacity="0.6"/><rect x="188.4" y="185.8" width="1.2" height="1.2" fill="#2a2a2a" fill-opacity="0.6"/><rect x="203.2" y="184.2" width="1.2" height="1.2" fill="#2e2e2e" fill-opacity="0.6"/><rect x="218.0" y="186.5" width="1.2" height="1.2" fill="#505050" fill-opacity="0.6"/><rect x="275.1" y="225.8" width="1.2" height="1.2" fill="#3a3a3a" fill-opacity="0.6"/><rect x="241.7" y="208.0" width="1.2" height="1.2" fill="#313131" fill-opacity="0.6"/><rect x="262.2" y="210.2" width="1.2" height="1.2" fill="#3d3d3d" fill-opacity="0.6"/><rect x="252.4" y="200.2" width="1.2" height="1.2" fill="#505050" fill-opacity="0.6"/><rect x="311.5" y="277.1" width="1.2" height="1.2" fill="#414141" fill-opacity="0.6"/><rect x="307.4" y="257.0" width="1.2" height="1.2" fill="#3c3c3c" fill-opacity="0.6"/><rect x="214.7" y="186.7" width="1.2" height="1.2" fill="#484848" fill-opacity="0.6"/><rect x="291.1" y="253.0" width="1.2" height="1.2" fill="#373737" fill-opacity="0.6"/><rect x="204.8" y="220.4" width="1.2" height="1.2" fill="#353535" fill-opacity="0.6"/><rect x="284.6" y="329.2" width="1.2" height="1.2" fill="#454545" fill-opacity="0.6"/><rect x="294.6" y="245.7" width="1.2" height="1.2" fill="#3b3b3b" fill-opacity="0.6"/><rect x="206.5" y="197.7" width="1.2" height="1.2" fill="#313131" fill-opacity="0.6"/><rect x="294.1" y="263.4" width="1.2" height="1.2" fill="#4c4c4c" fill-opacity="0.6"/><rect x="299.5" y="204.2" width="1.2" height="1.2" fill="#3d3d3d" fill-opacity="0.6"/><rect x="280.7" y="298.9" width="1.2" height="1.2" fill="#2d2d2d" fill-opacity="0.6"/><rect x="278.1" y="218.1" width="1.2" height="1.2" fill="#3e3e3e" fill-opacity="0.6"/><rect x="199.8" y="212.4" width="1.2" height="1.2" fill="#434343" fill-opacity="0.6"/><rect x="258.8" y="185.0" width="1.2" height="1.2" fill="#474747" fill-opacity="0.6"/><rect x="289.6" y="260.6" width="1.2" height="1.2" fill="#383838" fill-opacity="0.6"/><rect x="295.7" y="210.1" width="1.2" height="1.2" fill="#505050" fill-opacity="0.6"/><rect x="306.9" y="271.0" width="1.2" height="1.2" fill="#353535" fill-opacity="0.6"/><rect x="283.4" y="309.9" width="1.2" height="1.2" fill="#4e4e4e" fill-opacity="0.6"/><rect x="300.4" y="267.2" width="1.2" height="1.2" fill="#2e2e2e" fill-opacity="0.6"/><rect x="303.7" y="285.9" width="1.2" height="1.2" fill="#303030" fill-opacity="0.6"/><rect x="270.9" y="223.7" width="1.2" height="1.2" fill="#4c4c4c" fill-opacity="0.6"/><rect x="288.1" y="257.5" width="1.2" height="1.2" fill="#343434" fill-opacity="0.6"/><rect x="304.9" y="270.1" width="1.2" height="1.2" fill="#282828" fill-opacity="0.6"/><rect x="279.5" y="191.4" width="1.2" height="1.2" fill="#353535" fill-opacity="0.6"/><rect x="313.2" y="259.6" width="1.2" height="1.2" fill="#292929" fill-opacity="0.6"/><rect x="269.4" y="208.7" width="1.2" height="1.2" fill="#3d3d3d" fill-opacity="0.6"/><rect x="305.5" y="292.2" width="1.2" height="1.2" fill="#2a2a2a" fill-opacity="0.6"/><rect x="294.3" y="309.0" width="1.2" height="1.2" fill="#474747" fill-opacity="0.6"/><rect x="198.3" y="211.0" width="1.2" height="1.2" fill="#454545" fill-opacity="0.6"/><rect x="229.2" y="216.6" width="1.2" height="1.2" fill="#3c3c3c" fill-opacity="0.6"/><rect x="298.2" y="200.5" width="1.2" height="1.2" fill="#2b2b2b" fill-opacity="0.6"/><rect x="304.0" y="240.3" width="1.2" height="1.2" fill="#3d3d3d" fill-opacity="0.6"/><rect x="284.1" y="284.1" width="1.2" height="1.2" fill="#353535" fill-opacity="0.6"/><rect x="307.6" y="302.4" width="1.2" height="1.2" fill="#2d2d2d" fill-opacity="0.6"/><rect x="295.3" y="253.9" width="1.2" height="1.2" fill="#3e3e3e" fill-opacity="0.6"/><rect x="292.4" y="216.1" width="1.2" height="1.2" fill="#4b4b4b" fill-opacity="0.6"/><rect x="316.3" y="304.5" width="1.2" height="1.2" fill="#4c4c4c" fill-opacity="0.6"/><rect x="308.8" y="257.7" width="1.2" height="1.2" fill="#383838" fill-opacity="0.6"/><rect x="236.2" y="197.8" width="1.2" height="1.2" fill="#2a2a2a" fill-opacity="0.6"/><rect x="244.8" y="205.7" width="1.2" height="1.2" fill="#4b4b4b" fill-opacity="0.6"/><rect x="198.9" y="207.8" width="1.2" height="1.2" fill="#393939" fill-opacity="0.6"/><rect x="300.9" y="252.3" width="1.2" height="1.2" fill="#393939" fill-opacity="0.6"/><rect x="281.7" y="287.0" width="1.2" height="1.2" fill="#464646" fill-opacity="0.6"/><rect x="302.1" y="312.1" width="1.2" height="1.2" fill="#3f3f3f" fill-opacity="0.6"/><rect x="304.0" y="297.8" width="1.2" height="1.2" fill="#414141" fill-opacity="0.6"/><rect x="248.1" y="216.1" width="1.2" height="1.2" fill="#292929" fill-opacity="0.6"/><rect x="268.6" y="220.4" width="1.2" height="1.2" fill="#4a4a4a" fill-opacity="0.6"/><rect x="296.8" y="223.0" width="1.2" height="1.2" fill="#333333" fill-opacity="0.6"/><rect x="303.3" y="272.2" width="1.2" height="1.2" fill="#313131" fill-opacity="0.6"/><rect x="207.5" y="184.4" width="1.2" height="1.2" fill="#323232" fill-opacity="0.6"/><rect x="287.2" y="223.9" width="1.2" height="1.2" fill="#373737" fill-opacity="0.6"/><rect x="306.5" y="232.9" width="1.2" height="1.2" fill="#353535" fill-opacity="0.6"/><rect x="270.7" y="211.9" width="1.2" height="1.2" fill="#404040" fill-opacity="0.6"/><rect x="288.6" y="238.0" width="1.2" height="1.2" fill="#292929" fill-opacity="0.6"/><rect x="301.2" y="308.6" width="1.2" height="1.2" fill="#2c2c2c" fill-opacity="0.6"/><rect x="235.4" y="180.3" width="1.2" height="1.2" fill="#3e3e3e" fill-opacity="0.6"/><rect x="288.4" y="311.8" width="1.2" height="1.2" fill="#424242" fill-opacity="0.6"/><rect x="216.4" y="204.1" width="1.2" height="1.2" fill="#505050" fill-opacity="0.6"/><rect x="231.4" y="216.1" width="1.2" height="1.2" fill="#292929" fill-opacity="0.6"/><rect x="297.6" y="270.6" width="1.2" height="1.2" fill="#363636" fill-opacity="0.6"/><rect x="294.2" y="254.6" width="1.2" height="1.2" fill="#434343" fill-opacity="0.6"/><rect x="268.8" y="212.9" width="1.2" height="1.2" fill="#474747" fill-opacity="0.6"/><rect x="299.9" y="280.0" width="1.2" height="1.2" fill="#323232" fill-opacity="0.6"/><rect x="312.1" y="219.6" width="1.2" height="1.2" fill="#393939" fill-opacity="0.6"/><rect x="212.7" y="216.7" width="1.2" height="1.2" fill="#3b3b3b" fill-opacity="0.6"/><rect x="294.6" y="266.6" width="1.2" height="1.2" fill="#474747" fill-opacity="0.6"/><rect x="226.0" y="207.6" width="1.2" height="1.2" fill="#3c3c3c" fill-opacity="0.6"/><rect x="265.2" y="199.3" width="1.2" height="1.2" fill="#444444" fill-opacity="0.6"/><rect x="283.0" y="274.8" width="1.2" height="1.2" fill="#353535" fill-opacity="0.6"/><rect x="224.4" y="187.4" width="1.2" height="1.2" fill="#2a2a2a" fill-opacity="0.6"/><rect x="243.1" y="183.4" width="1.2" height="1.2" fill="#333333" fill-opacity="0.6"/><rect x="284.7" y="244.4" width="1.2" height="1.2" fill="#3b3b3b" fill-opacity="0.6"/><rect x="266.9" y="191.5" width="1.2" height="1.2" fill="#313131" fill-opacity="0.6"/><rect x="213.0" y="223.0" width="1.2" height="1.2" fill="#3b3b3b" fill-opacity="0.6"/><rect x="307.7" y="300.0" width="1.2" height="1.2" fill="#2e2e2e" fill-opacity="0.6"/><rect x="249.8" y="201.7" width="1.2" height="1.2" fill="#414141" fill-opacity="0.6"/><rect x="287.1" y="300.9" width="1.2" height="1.2" fill="#414141" fill-opacity="0.6"/><rect x="211.9" y="178.7" width="1.2" height="1.2" fill="#2a2a2a" fill-opacity="0.6"/><rect x="275.7" y="221.3" width="1.2" height="1.2" fill="#505050" fill-opacity="0.6"/><rect x="258.0" y="219.6" width="1.2" height="1.2" fill="#484848" fill-opacity="0.6"/><rect x="282.4" y="208.4" width="1.2" height="1.2" fill="#2e2e2e" fill-opacity="0.6"/><rect x="252.3" y="218.0" width="1.2" height="1.2" fill="#3c3c3c" fill-opacity="0.6"/><rect x="277.5" y="297.5" width="1.2" height="1.2" fill="#474747" fill-opacity="0.6"/><rect x="198.2" y="204.4" width="1.2" height="1.2" fill="#282828" fill-opacity="0.6"/><rect x="300.6" y="288.6" width="1.2" height="1.2" fill="#313131" fill-opacity="0.6"/><rect x="274.6" y="205.2" width="1.2" height="1.2" fill="#2f2f2f" fill-opacity="0.6"/><rect x="300.8" y="210.9" width="1.2" height="1.2" fill="#2c2c2c" fill-opacity="0.6"/><rect x="290.6" y="255.9" width="1.2" height="1.2" fill="#363636" fill-opacity="0.6"/><rect x="253.0" y="209.4" width="1.2" height="1.2" fill="#333333" fill-opacity="0.6"/><rect x="274.1" y="307.7" width="1.2" height="1.2" fill="#2a2a2a" fill-opacity="0.6"/><rect x="282.1" y="276.7" width="1.2" height="1.2" fill="#4b4b4b" fill-opacity="0.6"/><rect x="209.6" y="211.7" width="1.2" height="1.2" fill="#3c3c3c" fill-opacity="0.6"/><rect x="264.6" y="196.9" width="1.2" height="1.2" fill="#4a4a4a" fill-opacity="0.6"/><rect x="294.6" y="266.7" width="1.2" height="1.2" fill="#424242" fill-opacity="0.6"/><rect x="184.5" y="194.0" width="1.2" height="1.2" fill="#393939" fill-opacity="0.6"/><rect x="292.3" y="247.4" width="1.2" height="1.2" fill="#424242" fill-opacity="0.6"/><rect x="287.5" y="251.4" width="1.2" height="1.2" fill="#404040" fill-opacity="0.6"/><rect x="214.9" y="185.7" width="1.2" height="1.2" fill="#505050" fill-opacity="0.6"/><rect x="279.1" y="320.3" width="1.2" height="1.2" fill="#383838" fill-opacity="0.6"/><rect x="264.1" y="193.7" width="1.2" height="1.2" fill="#373737" fill-opacity="0.6"/><rect x="231.9" y="190.2" width="1.2" height="1.2" fill="#2d2d2d" fill-opacity="0.6"/><rect x="226.1" y="185.3" width="1.2" height="1.2" fill="#2b2b2b" fill-opacity="0.6"/><rect x="299.8" y="243.8" width="1.2" height="1.2" fill="#444444" fill-opacity="0.6"/><rect x="283.5" y="222.1" width="1.2" height="1.2" fill="#4c4c4c" fill-opacity="0.6"/><rect x="280.8" y="325.6" width="1.2" height="1.2" fill="#464646" fill-opacity="0.6"/><rect x="296.8" y="220.7" width="1.2" height="1.2" fill="#404040" fill-opacity="0.6"/><rect x="302.9" y="277.3" width="1.2" height="1.2" fill="#404040" fill-opacity="0.6"/><rect x="285.4" y="255.8" width="1.2" height="1.2" fill="#494949" fill-opacity="0.6"/><rect x="305.3" y="271.1" width="1.2" height="1.2" fill="#3c3c3c" fill-opacity="0.6"/><rect x="296.7" y="316.8" width="1.2" height="1.2" fill="#363636" fill-opacity="0.6"/><rect x="203.7" y="190.3" width="1.2" height="1.2" fill="#383838" fill-opacity="0.6"/><rect x="214.0" y="200.4" width="1.2" height="1.2" fill="#3e3e3e" fill-opacity="0.6"/><rect x="291.7" y="221.6" width="1.2" height="1.2" fill="#363636" fill-opacity="0.6"/><rect x="207.2" y="223.5" width="1.2" height="1.2" fill="#494949" fill-opacity="0.6"/><rect x="289.9" y="253.8" width="1.2" height="1.2" fill="#323232" fill-opacity="0.6"/><rect x="237.8" y="207.5" width="1.2" height="1.2" fill="#333333" fill-opacity="0.6"/><rect x="305.4" y="298.1" width="1.2" height="1.2" fill="#333333" fill-opacity="0.6"/><rect x="277.8" y="194.7" width="1.2" height="1.2" fill="#2a2a2a" fill-opacity="0.6"/><rect x="295.9" y="260.0" width="1.2" height="1.2" fill="#434343" fill-opacity="0.6"/><rect x="285.4" y="291.6" width="1.2" height="1.2" fill="#383838" fill-opacity="0.6"/><rect x="294.9" y="250.9" width="1.2" height="1.2" fill="#494949" fill-opacity="0.6"/><rect x="291.1" y="222.3" width="1.2" height="1.2" fill="#2d2d2d" fill-opacity="0.6"/><rect x="293.1" y="267.7" width="1.2" height="1.2" fill="#444444" fill-opacity="0.6"/><rect x="261.1" y="204.1" width="1.2" height="1.2" fill="#464646" fill-opacity="0.6"/><rect x="252.6" y="213.2" width="1.2" height="1.2" fill="#494949" fill-opacity="0.6"/><rect x="305.7" y="299.0" width="1.2" height="1.2" fill="#3f3f3f" fill-opacity="0.6"/><rect x="301.8" y="223.0" width="1.2" height="1.2" fill="#4f4f4f" fill-opacity="0.6"/><rect x="294.2" y="251.8" width="1.2" height="1.2" fill="#404040" fill-opacity="0.6"/><rect x="301.4" y="273.1" width="1.2" height="1.2" fill="#282828" fill-opacity="0.6"/><rect x="274.2" y="227.1" width="1.2" height="1.2" fill="#333333" fill-opacity="0.6"/><rect x="302.2" y="262.8" width="1.2" height="1.2" fill="#3c3c3c" fill-opacity="0.6"/><rect x="291.7" y="270.6" width="1.2" height="1.2" fill="#444444" fill-opacity="0.6"/><rect x="295.7" y="308.9" width="1.2" height="1.2" fill="#2d2d2d" fill-opacity="0.6"/><rect x="294.2" y="280.9" width="1.2" height="1.2" fill="#3a3a3a" fill-opacity="0.6"/><rect x="274.3" y="212.6" width="1.2" height="1.2" fill="#2a2a2a" fill-opacity="0.6"/><rect x="256.2" y="205.9" width="1.2" height="1.2" fill="#2a2a2a" fill-opacity="0.6"/><rect x="256.5" y="209.1" width="1.2" height="1.2" fill="#424242" fill-opacity="0.6"/><rect x="299.6" y="238.6" width="1.2" height="1.2" fill="#383838" fill-opacity="0.6"/><rect x="296.3" y="254.7" width="1.2" height="1.2" fill="#4d4d4d" fill-opacity="0.6"/><rect x="300.9" y="301.6" width="1.2" height="1.2" fill="#4d4d4d" fill-opacity="0.6"/><rect x="305.0" y="249.3" width="1.2" height="1.2" fill="#3d3d3d" fill-opacity="0.6"/><rect x="230.7" y="214.1" width="1.2" height="1.2" fill="#444444" fill-opacity="0.6"/><rect x="300.1" y="249.0" width="1.2" height="1.2" fill="#474747" fill-opacity="0.6"/><rect x="203.5" y="196.1" width="1.2" height="1.2" fill="#292929" fill-opacity="0.6"/><rect x="296.1" y="304.2" width="1.2" height="1.2" fill="#454545" fill-opacity="0.6"/><rect x="259.8" y="204.3" width="1.2" height="1.2" fill="#464646" fill-opacity="0.6"/><rect x="281.5" y="279.5" width="1.2" height="1.2" fill="#414141" fill-opacity="0.6"/><rect x="296.8" y="225.9" width="1.2" height="1.2" fill="#282828" fill-opacity="0.6"/><rect x="269.7" y="194.9" width="1.2" height="1.2" fill="#414141" fill-opacity="0.6"/><rect x="301.1" y="206.4" width="1.2" height="1.2" fill="#3a3a3a" fill-opacity="0.6"/><rect x="294.6" y="208.6" width="1.2" height="1.2" fill="#454545" fill-opacity="0.6"/><rect x="287.0" y="293.9" width="1.2" height="1.2" fill="#2c2c2c" fill-opacity="0.6"/><rect x="273.2" y="228.4" width="1.2" height="1.2" fill="#474747" fill-opacity="0.6"/><rect x="298.5" y="312.7" width="1.2" height="1.2" fill="#4c4c4c" fill-opacity="0.6"/><rect x="304.1" y="230.9" width="1.2" height="1.2" fill="#343434" fill-opacity="0.6"/><rect x="258.2" y="202.1" width="1.2" height="1.2" fill="#2b2b2b" fill-opacity="0.6"/><rect x="294.7" y="209.7" width="1.2" height="1.2" fill="#4d4d4d" fill-opacity="0.6"/><rect x="295.4" y="294.9" width="1.2" height="1.2" fill="#2b2b2b" fill-opacity="0.6"/><rect x="227.7" y="211.7" width="1.2" height="1.2" fill="#3d3d3d" fill-opacity="0.6"/><rect x="310.8" y="290.6" width="1.2" height="1.2" fill="#333333" fill-opacity="0.6"/><rect x="202.2" y="215.3" width="1.2" height="1.2" fill="#383838" fill-opacity="0.6"/><rect x="287.8" y="302.7" width="1.2" height="1.2" fill="#3b3b3b" fill-opacity="0.6"/><rect x="287.6" y="215.6" width="1.2" height="1.2" fill="#424242" fill-opacity="0.6"/><rect x="262.3" y="210.1" width="1.2" height="1.2" fill="#373737" fill-opacity="0.6"/><rect x="219.2" y="185.1" width="1.2" height="1.2" fill="#4a4a4a" fill-opacity="0.6"/><rect x="289.7" y="270.0" width="1.2" height="1.2" fill="#2b2b2b" fill-opacity="0.6"/><rect x="301.9" y="282.7" width="1.2" height="1.2" fill="#454545" fill-opacity="0.6"/><rect x="272.4" y="197.2" width="1.2" height="1.2" fill="#313131" fill-opacity="0.6"/><rect x="309.9" y="249.8" width="1.2" height="1.2" fill="#343434" fill-opacity="0.6"/><rect x="300.3" y="232.4" width="1.2" height="1.2" fill="#2b2b2b" fill-opacity="0.6"/><rect x="252.0" y="219.5" width="1.2" height="1.2" fill="#2c2c2c" fill-opacity="0.6"/><rect x="299.8" y="243.1" width="1.2" height="1.2" fill="#3c3c3c" fill-opacity="0.6"/><rect x="276.2" y="304.0" width="1.2" height="1.2" fill="#444444" fill-opacity="0.6"/><rect x="307.7" y="266.1" width="1.2" height="1.2" fill="#4d4d4d" fill-opacity="0.6"/><rect x="276.1" y="212.1" width="1.2" height="1.2" fill="#444444" fill-opacity="0.6"/><rect x="287.4" y="277.8" width="1.2" height="1.2" fill="#333333" fill-opacity="0.6"/><rect x="300.3" y="237.6" width="1.2" height="1.2" fill="#2b2b2b" fill-opacity="0.6"/><rect x="310.4" y="306.1" width="1.2" height="1.2" fill="#4e4e4e" fill-opacity="0.6"/><rect x="280.6" y="236.2" width="1.2" height="1.2" fill="#4b4b4b" fill-opacity="0.6"/><rect x="251.5" y="213.4" width="1.2" height="1.2" fill="#363636" fill-opacity="0.6"/><rect x="268.1" y="197.1" width="1.2" height="1.2" fill="#3a3a3a" fill-opacity="0.6"/><rect x="238.6" y="195.8" width="1.2" height="1.2" fill="#323232" fill-opacity="0.6"/><rect x="313.0" y="305.0" width="1.2" height="1.2" fill="#353535" fill-opacity="0.6"/><rect x="292.2" y="222.8" width="1.2" height="1.2" fill="#343434" fill-opacity="0.6"/><rect x="241.7" y="179.7" width="1.2" height="1.2" fill="#424242" fill-opacity="0.6"/><rect x="308.9" y="281.4" width="1.2" height="1.2" fill="#444444" fill-opacity="0.6"/><rect x="259.8" y="215.4" width="1.2" height="1.2" fill="#2b2b2b" fill-opacity="0.6"/><rect x="218.3" y="214.6" width="1.2" height="1.2" fill="#323232" fill-opacity="0.6"/><rect x="232.8" y="205.2" width="1.2" height="1.2" fill="#363636" fill-opacity="0.6"/><rect x="217.0" y="185.6" width="1.2" height="1.2" fill="#4b4b4b" fill-opacity="0.6"/><rect x="255.4" y="208.3" width="1.2" height="1.2" fill="#383838" fill-opacity="0.6"/><rect x="312.2" y="258.9" width="1.2" height="1.2" fill="#313131" fill-opacity="0.6"/><rect x="200.4" y="196.3" width="1.2" height="1.2" fill="#363636" fill-opacity="0.6"/><rect x="283.3" y="251.2" width="1.2" height="1.2" fill="#404040" fill-opacity="0.6"/><rect x="293.3" y="289.8" width="1.2" height="1.2" fill="#4a4a4a" fill-opacity="0.6"/><rect x="258.9" y="213.5" width="1.2" height="1.2" fill="#313131" fill-opacity="0.6"/><rect x="254.4" y="203.5" width="1.2" height="1.2" fill="#414141" fill-opacity="0.6"/><rect x="305.2" y="309.7" width="1.2" height="1.2" fill="#2f2f2f" fill-opacity="0.6"/><rect x="265.0" y="215.0" width="1.2" height="1.2" fill="#494949" fill-opacity="0.6"/><rect x="285.8" y="225.8" width="1.2" height="1.2" fill="#3e3e3e" fill-opacity="0.6"/><rect x="285.2" y="324.7" width="1.2" height="1.2" fill="#2d2d2d" fill-opacity="0.6"/><rect x="289.7" y="279.2" width="1.2" height="1.2" fill="#3b3b3b" fill-opacity="0.6"/><rect x="281.2" y="209.2" width="1.2" height="1.2" fill="#2d2d2d" fill-opacity="0.6"/><rect x="295.7" y="281.6" width="1.2" height="1.2" fill="#363636" fill-opacity="0.6"/><rect x="278.9" y="219.0" width="1.2" height="1.2" fill="#4d4d4d" fill-opacity="0.6"/><rect x="290.1" y="195.4" width="1.2" height="1.2" fill="#3e3e3e" fill-opacity="0.6"/><g fill="none" stroke="#fff" stroke-width="1.3" stroke-linejoin="round"><polyline points="59.0,179.0 69.0,179.5 71.0,178.0 73.0,173.5 75.0,173.0 78.0,174.5 82.0,176.5 88.0,181.0 94.0,179.5 103.0,176.0 115.0,170.0 127.0,162.5 127.5,154.5 130.5,154.0 130.5,150.0 133.0,147.5 131.0,144.0 128.5,144.0 127.0,146.0 125.0,142.5 125.5,141.0 128.0,139.5 129.0,135.5 131.0,134.2 146.0,133.8 153.2,133.5 154.0,145.5 158.5,145.5 162.5,146.0 163.5,139.5 161.5,138.5 162.0,134.0 165.5,134.0 168.0,131.5 170.0,134.0 173.0,136.0 178.0,136.2 185.0,139.2 190.0,137.0 197.0,137.5 203.0,139.5 206.0,143.0 212.0,142.5 214.0,140.5 216.0,142.5 220.0,142.0 223.5,139.0 225.0,136.5 227.0,136.5 229.0,138.5 233.0,136.5 234.0,133.0 237.0,134.0 238.5,135.5 242.5,131.0 239.0,131.0 243.0,128.5 247.0,126.0 251.0,127.0 254.5,123.5 257.0,122.5 255.0,126.0 257.5,128.0 260.0,126.5 261.0,123.0 262.5,122.0 263.0,116.5 268.0,116.7 270.7,117.3 271.3,121.0 275.3,121.3 276.0,119.7 276.7,121.7 279.7,122.3 281.0,126.7 282.0,132.0 283.0,133.3 283.3,137.7 278.7,138.7 275.3,137.0 278.0,145.3 284.0,144.0 285.0,140.7 289.3,144.7 293.7,143.0 292.3,137.7 293.7,137.0 295.3,141.0 305.3,136.7 301.5,129.3 294.0,132.3 287.0,129.3 294.3,125.3 287.0,110.3 298.7,104.3 308.7,123.3 311.9,122.1 313.3,125.3 307.4,128.5 309.2,132.2 319.5,127.6 312.7,116.3 314.3,115.0 318.0,116.3 319.3,120.0 324.7,116.3 322.7,114.3 321.7,112.0 322.3,111.0 311.3,103.3 317.7,96.0 332.5,108.0 337.5,101.5 334.5,99.0 332.5,101.0 320.0,90.0 323.0,81.5 330.0,79.0 337.0,80.5 351.0,85.5 352.5,75.5 350.0,74.5 348.5,79.5 347.0,78.5 348.0,75.5 342.0,74.0"/><polyline points="98.5,74.0 98.5,75.5 97.0,77.5 93.0,81.5 91.0,84.5 92.0,88.0 92.0,95.0 94.5,97.5 96.5,102.0 99.0,107.0 101.5,110.8 105.0,111.2 108.0,111.8 111.0,108.8 113.5,108.5 115.5,109.2 118.0,107.2 120.5,106.5 122.5,101.5 123.0,99.0 127.0,97.5 128.0,95.5 129.0,92.5 131.5,89.8 134.0,90.0 132.0,86.0 133.0,82.0 131.8,78.0 131.8,74.0"/></g><circle cx="87" cy="85" r="1.2" fill="#fff"/><circle cx="214" cy="148" r="0.8" fill="#fff"/><circle cx="248.5" cy="114.5" r="0.8" fill="#fff"/><circle cx="246.4" cy="261.5" r="4.8" fill="#000"/><filter id="hb" x="-20%" y="-20%" width="140%" height="140%"><feGaussianBlur stdDeviation="0.7"/></filter><g filter="url(#hb)"><polygon points="82.6,270.2 85.6,270.2 87.6,275.2 87.6,281.2 85.6,288.2 87.6,295.2 88.6,300.2 92.6,304.2 90.6,306.2 86.6,304.2 82.6,299.2 80.6,292.2 81.1,285.2 81.6,275.2" fill="#e0e0e0" stroke="#b0b0b0" stroke-width="2.2" stroke-linejoin="round"/><polygon points="99.7,303.5 106.7,301.0 110.7,304.5 113.2,310.5 111.7,315.5 106.7,318.5 105.7,315.5 107.7,310.5 105.7,305.5 101.7,304.0" fill="#e0e0e0" stroke="#b0b0b0" stroke-width="2.2" stroke-linejoin="round"/><polygon points="83.7,328.1 89.7,326.6 94.7,328.6 98.7,334.6 100.7,337.6 96.7,338.6 94.7,335.6 88.7,330.6" fill="#e0e0e0" stroke="#b0b0b0" stroke-width="2.2" stroke-linejoin="round"/><polygon points="104.8,337.7 108.8,335.7 111.8,339.7 111.8,343.7 115.3,345.7 111.8,347.7 107.8,345.7 105.8,341.7" fill="#e0e0e0" stroke="#b0b0b0" stroke-width="2.2" stroke-linejoin="round"/><polygon points="278.6,327.3 283.6,326.8 283.6,335.3 280.6,336.3" fill="#e0e0e0" stroke="#b0b0b0" stroke-width="2.2" stroke-linejoin="round"/><polygon points="274.0,333.3 276.5,333.3 279.0,341.3 276.5,342.3" fill="#e0e0e0" stroke="#b0b0b0" stroke-width="2.2" stroke-linejoin="round"/><polygon points="285.9,339.1 293.4,339.1 296.4,345.1 290.4,346.6 288.9,354.1 289.6,365.3 286.6,363.0 285.2,351.1 285.9,342.1" fill="#e0e0e0" stroke="#b0b0b0" stroke-width="2.2" stroke-linejoin="round"/><polygon points="298.8,348.6 304.0,347.9 310.0,353.9 312.3,347.9 320.5,346.4 325.0,344.9 332.4,352.4 326.5,350.9 320.5,353.9 316.0,356.9 314.5,364.3 311.5,361.4 308.5,356.9 302.5,353.9" fill="#e0e0e0" stroke="#b0b0b0" stroke-width="2.2" stroke-linejoin="round"/><polygon points="307.0,233.8 313.3,233.3 312.3,236.0 307.3,237.2" fill="#e0e0e0" stroke="#b0b0b0" stroke-width="2.2" stroke-linejoin="round"/></g><polygon points="240.6,277.0 242.2,277.6 245.5,282.0 248.8,286.8 249.8,290.0 252.0,294.0 256.0,300.0 259.5,303.5 261.0,304.0 261.4,306.0 264.0,310.0 266.6,314.0 271.0,324.4 271.2,327.0 269.5,327.0 267.4,318.4 261.0,311.0 255.4,305.0 250.0,298.0 245.0,291.5 240.1,288.8 236.1,284.2 238.0,281.0" fill="#ffff00" stroke="#ffff00" stroke-width="0.4" stroke-linejoin="round"/><polygon points="84.0,270.0 87.0,270.0 89.0,275.0 89.0,281.0 87.0,288.0 89.0,295.0 90.0,300.0 94.0,304.0 92.0,306.0 88.0,304.0 84.0,299.0 82.0,292.0 82.5,285.0 83.0,275.0" fill="#ffff00" stroke="#ffff00" stroke-width="0.4" stroke-linejoin="round"/><polygon points="101.0,303.0 108.0,300.5 112.0,304.0 114.5,310.0 113.0,315.0 108.0,318.0 107.0,315.0 109.0,310.0 107.0,305.0 103.0,303.5" fill="#ffff00" stroke="#ffff00" stroke-width="0.4" stroke-linejoin="round"/><polygon points="85.0,327.5 91.0,326.0 96.0,328.0 100.0,334.0 102.0,337.0 98.0,338.0 96.0,335.0 90.0,330.0" fill="#ffff00" stroke="#ffff00" stroke-width="0.4" stroke-linejoin="round"/><polygon points="106.0,337.0 110.0,335.0 113.0,339.0 113.0,343.0 116.5,345.0 113.0,347.0 109.0,345.0 107.0,341.0" fill="#ffff00" stroke="#ffff00" stroke-width="0.4" stroke-linejoin="round"/><polygon points="278.0,326.0 283.0,325.5 283.0,334.0 280.0,335.0" fill="#ffff00" stroke="#ffff00" stroke-width="0.4" stroke-linejoin="round"/><polygon points="273.5,332.0 276.0,332.0 278.5,340.0 276.0,341.0" fill="#ffff00" stroke="#ffff00" stroke-width="0.4" stroke-linejoin="round"/><polygon points="285.3,337.8 292.8,337.8 295.8,343.8 289.8,345.3 288.3,352.8 289.0,364.0 286.0,361.7 284.6,349.8 285.3,340.8" fill="#ffff00" stroke="#ffff00" stroke-width="0.4" stroke-linejoin="round"/><polygon points="298.0,347.5 303.2,346.8 309.2,352.8 311.5,346.8 319.7,345.3 324.2,343.8 331.6,351.3 325.7,349.8 319.7,352.8 315.2,355.8 313.7,363.2 310.7,360.3 307.7,355.8 301.7,352.8" fill="#ffff00" stroke="#ffff00" stroke-width="0.4" stroke-linejoin="round"/><polygon points="305.7,234.3 312.0,233.8 311.0,236.5 306.0,237.7" fill="#ffff00" stroke="#ffff00" stroke-width="0.4" stroke-linejoin="round"/><line x1="242.5" y1="265" x2="230" y2="284" stroke="#ffff00" stroke-width="1.1" stroke-dasharray="3 1.5"/><line x1="212.5" y1="309" x2="203.7" y2="320" stroke="#ffff00" stroke-width="1.5"/><polyline points="240.5,280 244,285 247.5,290 250,295" fill="none" stroke="#ffffff" stroke-width="1.6"/><path d="M 241 263 l 3 -2 M 243 271 l -3 2" stroke="#ffff00" stroke-width="2"/>
<rect x="480.3" y="74.0" width="374.5" height="375.0" fill="#fff"/>
<g fill="none" stroke="#000" stroke-width="1.3" stroke-linejoin="round"><polyline points="480.3,179.0 490.3,179.5 492.3,178.0 494.3,173.5 496.3,173.0 499.3,174.5 503.3,176.5 509.3,181.0 515.3,179.5 524.3,176.0 536.3,170.0 548.3,162.5 548.8,154.5 551.8,154.0 551.8,150.0 554.3,147.5 552.3,144.0 549.8,144.0 548.3,146.0 546.3,142.5 546.8,141.0 549.3,139.5 550.3,135.5 552.3,134.2 567.3,133.8 574.5,133.5 575.3,145.5 579.8,145.5 583.8,146.0 584.8,139.5 582.8,138.5 583.3,134.0 586.8,134.0 589.3,131.5 591.3,134.0 594.3,136.0 599.3,136.2 606.3,139.2 611.3,137.0 618.3,137.5 624.3,139.5 627.3,143.0 633.3,142.5 635.3,140.5 637.3,142.5 641.3,142.0 644.8,139.0 646.3,136.5 648.3,136.5 650.3,138.5 654.3,136.5 655.3,133.0 658.3,134.0 659.8,135.5 663.8,131.0 660.3,131.0 664.3,128.5 668.3,126.0 672.3,127.0 675.8,123.5 678.3,122.5 676.3,126.0 678.8,128.0 681.3,126.5 682.3,123.0 683.8,122.0 684.3,116.5 689.3,116.7 692.0,117.3 692.6,121.0 696.6,121.3 697.3,119.7 698.0,121.7 701.0,122.3 702.3,126.7 703.3,132.0 704.3,133.3 704.6,137.7 700.0,138.7 696.6,137.0 699.3,145.3 705.3,144.0 706.3,140.7 710.6,144.7 715.0,143.0 713.6,137.7 715.0,137.0 716.6,141.0 726.6,136.7 722.8,129.3 715.3,132.3 708.3,129.3 715.6,125.3 708.3,110.3 720.0,104.3 730.0,123.3 733.2,122.1 734.6,125.3 728.7,128.5 730.5,132.2 740.8,127.6 734.0,116.3 735.6,115.0 739.3,116.3 740.6,120.0 746.0,116.3 744.0,114.3 743.0,112.0 743.6,111.0 732.6,103.3 739.0,96.0 753.8,108.0 758.8,101.5 755.8,99.0 753.8,101.0 741.3,90.0 744.3,81.5 751.3,79.0 758.3,80.5 772.3,85.5 773.8,75.5 771.3,74.5 769.8,79.5 768.3,78.5 769.3,75.5 763.3,74.0"/><polyline points="519.8,74.0 519.8,75.5 518.3,77.5 514.3,81.5 512.3,84.5 513.3,88.0 513.3,95.0 515.8,97.5 517.8,102.0 520.3,107.0 522.8,110.8 526.3,111.2 529.3,111.8 532.3,108.8 534.8,108.5 536.8,109.2 539.3,107.2 541.8,106.5 543.8,101.5 544.3,99.0 548.3,97.5 549.3,95.5 550.3,92.5 552.8,89.8 555.3,90.0 553.3,86.0 554.3,82.0 553.1,78.0 553.1,74.0"/></g><circle cx="508.3" cy="85" r="1.2" fill="#000"/><circle cx="635.3" cy="148" r="0.8" fill="#000"/><circle cx="669.8" cy="114.5" r="0.8" fill="#000"/><g stroke-linecap="butt"><defs><radialGradient id="yg" cx="667.7" cy="261.5" r="60" gradientUnits="userSpaceOnUse"><stop offset="0" stop-color="#ffa020"/><stop offset="0.35" stop-color="#ffd040"/><stop offset="0.65" stop-color="#ffff80"/><stop offset="1" stop-color="#ffffd0"/></radialGradient></defs><line x1="670.4" y1="265.7" x2="683.7" y2="287.0" stroke="url(#yg)" stroke-width="1.1" stroke-opacity="0.66"/><line x1="670.5" y1="265.7" x2="681.1" y2="281.7" stroke="url(#yg)" stroke-width="1.0" stroke-opacity="0.63"/><line x1="670.5" y1="265.6" x2="683.8" y2="285.1" stroke="url(#yg)" stroke-width="1.0" stroke-opacity="0.55"/><line x1="670.6" y1="265.6" x2="697.3" y2="303.3" stroke="url(#yg)" stroke-width="1.2" stroke-opacity="0.61"/><line x1="670.6" y1="265.5" x2="695.5" y2="299.6" stroke="url(#yg)" stroke-width="1.3" stroke-opacity="0.37"/><line x1="670.7" y1="265.5" x2="697.1" y2="300.1" stroke="url(#yg)" stroke-width="1.1" stroke-opacity="0.79"/><line x1="670.8" y1="265.4" x2="696.3" y2="297.9" stroke="url(#yg)" stroke-width="1.2" stroke-opacity="0.57"/><line x1="670.8" y1="265.4" x2="701.6" y2="303.3" stroke="url(#yg)" stroke-width="0.8" stroke-opacity="0.46"/><line x1="670.9" y1="265.3" x2="703.2" y2="303.3" stroke="url(#yg)" stroke-width="1.2" stroke-opacity="0.56"/><line x1="671.0" y1="265.3" x2="700.9" y2="299.3" stroke="url(#yg)" stroke-width="0.9" stroke-opacity="0.47"/><line x1="671.1" y1="265.2" x2="690.3" y2="286.2" stroke="url(#yg)" stroke-width="1.3" stroke-opacity="0.69"/><line x1="671.1" y1="265.1" x2="686.7" y2="281.5" stroke="url(#yg)" stroke-width="1.2" stroke-opacity="0.63"/><line x1="671.2" y1="265.1" x2="700.0" y2="294.6" stroke="url(#yg)" stroke-width="1.3" stroke-opacity="0.48"/><line x1="671.3" y1="265.0" x2="686.4" y2="279.9" stroke="url(#yg)" stroke-width="1.3" stroke-opacity="0.39"/><line x1="671.3" y1="264.9" x2="703.4" y2="295.4" stroke="url(#yg)" stroke-width="0.7" stroke-opacity="0.56"/><line x1="671.4" y1="264.9" x2="694.1" y2="286.1" stroke="url(#yg)" stroke-width="1.1" stroke-opacity="0.37"/><line x1="671.4" y1="264.8" x2="702.4" y2="292.4" stroke="url(#yg)" stroke-width="1.3" stroke-opacity="0.49"/><line x1="671.5" y1="264.8" x2="690.4" y2="281.1" stroke="url(#yg)" stroke-width="0.7" stroke-opacity="0.65"/><line x1="671.6" y1="264.7" x2="685.5" y2="276.2" stroke="url(#yg)" stroke-width="0.9" stroke-opacity="0.48"/><line x1="671.6" y1="264.6" x2="703.1" y2="290.0" stroke="url(#yg)" stroke-width="1.3" stroke-opacity="0.8"/><line x1="671.7" y1="264.5" x2="695.3" y2="282.7" stroke="url(#yg)" stroke-width="0.9" stroke-opacity="0.78"/><line x1="671.7" y1="264.5" x2="703.9" y2="288.5" stroke="url(#yg)" stroke-width="1.3" stroke-opacity="0.6"/><line x1="671.8" y1="264.4" x2="697.5" y2="282.8" stroke="url(#yg)" stroke-width="1.0" stroke-opacity="0.48"/><line x1="671.8" y1="264.4" x2="694.2" y2="280.0" stroke="url(#yg)" stroke-width="0.9" stroke-opacity="0.64"/><line x1="671.8" y1="264.3" x2="686.5" y2="274.2" stroke="url(#yg)" stroke-width="1.1" stroke-opacity="0.58"/><line x1="671.9" y1="264.2" x2="705.7" y2="285.9" stroke="url(#yg)" stroke-width="0.9" stroke-opacity="0.59"/><line x1="672.0" y1="264.1" x2="703.5" y2="283.5" stroke="url(#yg)" stroke-width="0.9" stroke-opacity="0.58"/><line x1="672.0" y1="264.1" x2="703.9" y2="283.2" stroke="url(#yg)" stroke-width="0.8" stroke-opacity="0.73"/><line x1="672.0" y1="264.0" x2="711.7" y2="286.7" stroke="url(#yg)" stroke-width="0.9" stroke-opacity="0.74"/><line x1="672.1" y1="263.9" x2="687.8" y2="272.6" stroke="url(#yg)" stroke-width="0.8" stroke-opacity="0.75"/><line x1="672.1" y1="263.8" x2="694.4" y2="275.5" stroke="url(#yg)" stroke-width="1.1" stroke-opacity="0.4"/><line x1="672.2" y1="263.7" x2="705.6" y2="280.5" stroke="url(#yg)" stroke-width="0.8" stroke-opacity="0.75"/><line x1="672.2" y1="263.7" x2="716.9" y2="285.3" stroke="url(#yg)" stroke-width="1.1" stroke-opacity="0.79"/><line x1="672.2" y1="263.6" x2="701.6" y2="277.0" stroke="url(#yg)" stroke-width="0.7" stroke-opacity="0.83"/><line x1="672.2" y1="263.6" x2="692.1" y2="272.7" stroke="url(#yg)" stroke-width="0.9" stroke-opacity="0.76"/><line x1="672.3" y1="263.5" x2="686.4" y2="269.7" stroke="url(#yg)" stroke-width="1.0" stroke-opacity="0.61"/><line x1="672.3" y1="263.4" x2="706.2" y2="277.7" stroke="url(#yg)" stroke-width="1.0" stroke-opacity="0.56"/><line x1="672.3" y1="263.4" x2="695.0" y2="272.5" stroke="url(#yg)" stroke-width="0.7" stroke-opacity="0.82"/><line x1="672.4" y1="263.3" x2="707.6" y2="276.6" stroke="url(#yg)" stroke-width="1.3" stroke-opacity="0.71"/><line x1="672.4" y1="263.2" x2="685.5" y2="267.8" stroke="url(#yg)" stroke-width="1.1" stroke-opacity="0.61"/><line x1="672.4" y1="263.1" x2="692.4" y2="269.8" stroke="url(#yg)" stroke-width="1.2" stroke-opacity="0.78"/><line x1="672.5" y1="263.0" x2="710.8" y2="275.2" stroke="url(#yg)" stroke-width="0.7" stroke-opacity="0.8"/><line x1="672.5" y1="262.9" x2="703.6" y2="272.2" stroke="url(#yg)" stroke-width="1.2" stroke-opacity="0.64"/><line x1="672.5" y1="262.9" x2="685.4" y2="266.5" stroke="url(#yg)" stroke-width="0.9" stroke-opacity="0.68"/><line x1="672.5" y1="262.8" x2="699.3" y2="269.9" stroke="url(#yg)" stroke-width="1.2" stroke-opacity="0.41"/><line x1="672.6" y1="262.7" x2="688.6" y2="266.6" stroke="url(#yg)" stroke-width="0.7" stroke-opacity="0.46"/><line x1="672.6" y1="262.6" x2="688.6" y2="266.3" stroke="url(#yg)" stroke-width="1.2" stroke-opacity="0.81"/><line x1="672.6" y1="262.5" x2="707.4" y2="269.8" stroke="url(#yg)" stroke-width="1.0" stroke-opacity="0.55"/><line x1="672.6" y1="262.4" x2="706.2" y2="268.9" stroke="url(#yg)" stroke-width="1.0" stroke-opacity="0.56"/><line x1="672.6" y1="262.3" x2="698.5" y2="266.7" stroke="url(#yg)" stroke-width="1.2" stroke-opacity="0.37"/><line x1="672.6" y1="262.2" x2="686.9" y2="264.4" stroke="url(#yg)" stroke-width="1.2" stroke-opacity="0.39"/><line x1="672.7" y1="262.2" x2="699.5" y2="265.9" stroke="url(#yg)" stroke-width="0.7" stroke-opacity="0.54"/><line x1="672.7" y1="262.1" x2="696.4" y2="264.9" stroke="url(#yg)" stroke-width="0.8" stroke-opacity="0.51"/><line x1="672.7" y1="262.0" x2="689.1" y2="263.6" stroke="url(#yg)" stroke-width="0.9" stroke-opacity="0.39"/><line x1="672.7" y1="261.9" x2="690.6" y2="263.4" stroke="url(#yg)" stroke-width="1.1" stroke-opacity="0.62"/><line x1="672.7" y1="261.8" x2="703.5" y2="263.8" stroke="url(#yg)" stroke-width="1.0" stroke-opacity="0.54"/><line x1="672.7" y1="261.7" x2="699.6" y2="263.1" stroke="url(#yg)" stroke-width="1.1" stroke-opacity="0.58"/><line x1="672.7" y1="261.6" x2="692.6" y2="262.2" stroke="url(#yg)" stroke-width="0.7" stroke-opacity="0.56"/><line x1="672.7" y1="261.5" x2="697.6" y2="261.8" stroke="url(#yg)" stroke-width="0.9" stroke-opacity="0.8"/><line x1="672.7" y1="261.5" x2="707.8" y2="261.5" stroke="url(#yg)" stroke-width="1.1" stroke-opacity="0.82"/><line x1="672.7" y1="261.4" x2="706.2" y2="260.6" stroke="url(#yg)" stroke-width="1.1" stroke-opacity="0.63"/><line x1="672.7" y1="261.3" x2="688.6" y2="260.7" stroke="url(#yg)" stroke-width="0.8" stroke-opacity="0.54"/><line x1="672.7" y1="261.2" x2="700.4" y2="259.6" stroke="url(#yg)" stroke-width="0.9" stroke-opacity="0.76"/><line x1="672.7" y1="261.2" x2="695.2" y2="259.6" stroke="url(#yg)" stroke-width="0.8" stroke-opacity="0.59"/><line x1="672.7" y1="261.0" x2="705.0" y2="258.0" stroke="url(#yg)" stroke-width="1.2" stroke-opacity="0.37"/><line x1="672.7" y1="261.0" x2="707.0" y2="257.3" stroke="url(#yg)" stroke-width="1.1" stroke-opacity="0.82"/><line x1="672.7" y1="260.9" x2="687.2" y2="258.9" stroke="url(#yg)" stroke-width="0.8" stroke-opacity="0.39"/><line x1="672.6" y1="260.8" x2="713.2" y2="254.9" stroke="url(#yg)" stroke-width="1.1" stroke-opacity="0.82"/><line x1="672.6" y1="260.7" x2="692.4" y2="257.4" stroke="url(#yg)" stroke-width="1.0" stroke-opacity="0.83"/><line x1="672.6" y1="260.6" x2="695.7" y2="256.3" stroke="url(#yg)" stroke-width="0.9" stroke-opacity="0.72"/><line x1="672.6" y1="260.5" x2="689.8" y2="257.2" stroke="url(#yg)" stroke-width="0.9" stroke-opacity="0.79"/><line x1="672.6" y1="260.4" x2="689.7" y2="256.7" stroke="url(#yg)" stroke-width="1.2" stroke-opacity="0.61"/><line x1="672.6" y1="260.4" x2="697.3" y2="254.6" stroke="url(#yg)" stroke-width="1.2" stroke-opacity="0.42"/><line x1="672.5" y1="260.3" x2="699.1" y2="253.4" stroke="url(#yg)" stroke-width="1.0" stroke-opacity="0.74"/><line x1="672.5" y1="260.2" x2="703.2" y2="251.8" stroke="url(#yg)" stroke-width="1.1" stroke-opacity="0.84"/><line x1="672.5" y1="260.1" x2="708.9" y2="249.7" stroke="url(#yg)" stroke-width="1.0" stroke-opacity="0.54"/><line x1="672.5" y1="260.0" x2="689.5" y2="254.8" stroke="url(#yg)" stroke-width="1.0" stroke-opacity="0.78"/><line x1="672.4" y1="259.9" x2="695.9" y2="252.1" stroke="url(#yg)" stroke-width="0.8" stroke-opacity="0.64"/><line x1="672.4" y1="259.9" x2="708.5" y2="247.2" stroke="url(#yg)" stroke-width="1.1" stroke-opacity="0.78"/><line x1="672.4" y1="259.8" x2="695.1" y2="251.4" stroke="url(#yg)" stroke-width="0.8" stroke-opacity="0.47"/><line x1="672.4" y1="259.7" x2="703.1" y2="247.6" stroke="url(#yg)" stroke-width="1.2" stroke-opacity="0.47"/><line x1="672.3" y1="259.6" x2="689.3" y2="252.7" stroke="url(#yg)" stroke-width="1.1" stroke-opacity="0.69"/><line x1="672.3" y1="259.5" x2="685.2" y2="254.0" stroke="url(#yg)" stroke-width="0.7" stroke-opacity="0.44"/><line x1="672.3" y1="259.5" x2="686.5" y2="253.1" stroke="url(#yg)" stroke-width="0.9" stroke-opacity="0.81"/><line x1="672.2" y1="259.4" x2="684.9" y2="253.4" stroke="url(#yg)" stroke-width="1.1" stroke-opacity="0.35"/><line x1="672.2" y1="259.3" x2="692.3" y2="249.4" stroke="url(#yg)" stroke-width="0.7" stroke-opacity="0.67"/><line x1="672.1" y1="259.2" x2="702.2" y2="243.8" stroke="url(#yg)" stroke-width="1.0" stroke-opacity="0.41"/><line x1="672.1" y1="259.1" x2="690.4" y2="249.4" stroke="url(#yg)" stroke-width="1.2" stroke-opacity="0.8"/><line x1="672.1" y1="259.1" x2="685.8" y2="251.4" stroke="url(#yg)" stroke-width="0.9" stroke-opacity="0.58"/><line x1="672.0" y1="259.0" x2="699.3" y2="243.2" stroke="url(#yg)" stroke-width="1.3" stroke-opacity="0.52"/><line x1="672.0" y1="258.9" x2="696.6" y2="243.9" stroke="url(#yg)" stroke-width="1.0" stroke-opacity="0.38"/><line x1="671.9" y1="258.8" x2="689.9" y2="247.5" stroke="url(#yg)" stroke-width="1.1" stroke-opacity="0.42"/><line x1="671.9" y1="258.8" x2="691.5" y2="246.0" stroke="url(#yg)" stroke-width="1.3" stroke-opacity="0.42"/><line x1="671.8" y1="258.7" x2="690.2" y2="246.1" stroke="url(#yg)" stroke-width="1.1" stroke-opacity="0.58"/><line x1="671.8" y1="258.6" x2="689.5" y2="246.0" stroke="url(#yg)" stroke-width="0.8" stroke-opacity="0.44"/><line x1="671.7" y1="258.5" x2="694.7" y2="241.7" stroke="url(#yg)" stroke-width="0.9" stroke-opacity="0.54"/><line x1="671.7" y1="258.5" x2="701.5" y2="235.8" stroke="url(#yg)" stroke-width="0.9" stroke-opacity="0.7"/><line x1="671.6" y1="258.4" x2="693.1" y2="241.3" stroke="url(#yg)" stroke-width="1.0" stroke-opacity="0.75"/><line x1="671.6" y1="258.3" x2="683.1" y2="248.8" stroke="url(#yg)" stroke-width="0.8" stroke-opacity="0.49"/><line x1="671.5" y1="258.3" x2="683.6" y2="248.1" stroke="url(#yg)" stroke-width="1.2" stroke-opacity="0.41"/><line x1="671.5" y1="258.2" x2="695.9" y2="236.7" stroke="url(#yg)" stroke-width="0.9" stroke-opacity="0.84"/><line x1="671.4" y1="258.1" x2="683.6" y2="246.9" stroke="url(#yg)" stroke-width="1.2" stroke-opacity="0.62"/><line x1="671.4" y1="258.1" x2="684.3" y2="245.9" stroke="url(#yg)" stroke-width="0.9" stroke-opacity="0.74"/><line x1="671.3" y1="258.0" x2="681.2" y2="248.3" stroke="url(#yg)" stroke-width="1.3" stroke-opacity="0.54"/><line x1="671.2" y1="257.9" x2="691.2" y2="237.7" stroke="url(#yg)" stroke-width="1.3" stroke-opacity="0.69"/><line x1="671.2" y1="257.9" x2="686.0" y2="242.5" stroke="url(#yg)" stroke-width="0.8" stroke-opacity="0.67"/><line x1="671.1" y1="257.8" x2="682.0" y2="246.1" stroke="url(#yg)" stroke-width="1.0" stroke-opacity="0.58"/><line x1="671.0" y1="257.8" x2="683.4" y2="244.1" stroke="url(#yg)" stroke-width="1.0" stroke-opacity="0.67"/><line x1="670.9" y1="257.7" x2="687.5" y2="238.4" stroke="url(#yg)" stroke-width="1.2" stroke-opacity="0.42"/><line x1="670.9" y1="257.7" x2="693.5" y2="230.7" stroke="url(#yg)" stroke-width="1.1" stroke-opacity="0.6"/><line x1="670.8" y1="257.6" x2="687.6" y2="236.5" stroke="url(#yg)" stroke-width="0.9" stroke-opacity="0.79"/><line x1="670.8" y1="257.6" x2="690.7" y2="232.0" stroke="url(#yg)" stroke-width="1.2" stroke-opacity="0.74"/><line x1="670.7" y1="257.5" x2="679.0" y2="246.3" stroke="url(#yg)" stroke-width="0.9" stroke-opacity="0.75"/><line x1="670.6" y1="257.4" x2="693.5" y2="225.7" stroke="url(#yg)" stroke-width="1.2" stroke-opacity="0.59"/><line x1="670.6" y1="257.4" x2="679.7" y2="244.2" stroke="url(#yg)" stroke-width="1.2" stroke-opacity="0.7"/><line x1="670.5" y1="257.3" x2="683.7" y2="237.4" stroke="url(#yg)" stroke-width="1.0" stroke-opacity="0.56"/><line x1="670.4" y1="257.3" x2="687.4" y2="231.2" stroke="url(#yg)" stroke-width="1.0" stroke-opacity="0.7"/><line x1="670.3" y1="257.2" x2="683.5" y2="235.7" stroke="url(#yg)" stroke-width="1.1" stroke-opacity="0.53"/><line x1="670.3" y1="257.2" x2="682.2" y2="237.1" stroke="url(#yg)" stroke-width="0.8" stroke-opacity="0.35"/><line x1="670.2" y1="257.2" x2="679.6" y2="240.8" stroke="url(#yg)" stroke-width="1.0" stroke-opacity="0.45"/><line x1="670.1" y1="257.1" x2="679.2" y2="240.6" stroke="url(#yg)" stroke-width="1.0" stroke-opacity="0.67"/><line x1="670.0" y1="257.1" x2="677.9" y2="242.1" stroke="url(#yg)" stroke-width="0.8" stroke-opacity="0.77"/><line x1="670.0" y1="257.0" x2="680.9" y2="235.4" stroke="url(#yg)" stroke-width="1.1" stroke-opacity="0.38"/><line x1="669.9" y1="257.0" x2="680.4" y2="235.1" stroke="url(#yg)" stroke-width="1.2" stroke-opacity="0.79"/><line x1="669.8" y1="257.0" x2="678.1" y2="239.0" stroke="url(#yg)" stroke-width="0.8" stroke-opacity="0.66"/><line x1="669.7" y1="256.9" x2="678.8" y2="236.1" stroke="url(#yg)" stroke-width="1.2" stroke-opacity="0.5"/><line x1="669.6" y1="256.9" x2="685.2" y2="219.5" stroke="url(#yg)" stroke-width="1.3" stroke-opacity="0.59"/><line x1="669.5" y1="256.9" x2="680.1" y2="230.2" stroke="url(#yg)" stroke-width="1.1" stroke-opacity="0.52"/><line x1="669.5" y1="256.8" x2="674.9" y2="242.2" stroke="url(#yg)" stroke-width="1.1" stroke-opacity="0.35"/><line x1="669.4" y1="256.8" x2="674.1" y2="243.8" stroke="url(#yg)" stroke-width="1.0" stroke-opacity="0.59"/><line x1="669.3" y1="256.8" x2="675.2" y2="239.5" stroke="url(#yg)" stroke-width="1.3" stroke-opacity="0.59"/><line x1="669.2" y1="256.7" x2="679.9" y2="222.9" stroke="url(#yg)" stroke-width="0.7" stroke-opacity="0.5"/><line x1="670.9" y1="257.7" x2="684.0" y2="242.1" stroke="#ffa020" stroke-width="1.2" stroke-opacity="0.94"/><line x1="670.8" y1="257.6" x2="676.8" y2="250.2" stroke="#ffa020" stroke-width="1.3" stroke-opacity="0.91"/><line x1="670.8" y1="257.6" x2="680.5" y2="245.0" stroke="#ffa020" stroke-width="1.3" stroke-opacity="0.97"/><line x1="670.7" y1="257.5" x2="679.8" y2="245.6" stroke="#ffa020" stroke-width="1.3" stroke-opacity="0.88"/><line x1="670.7" y1="257.5" x2="679.3" y2="245.7" stroke="#ff9800" stroke-width="1.5" stroke-opacity="0.97"/><line x1="670.6" y1="257.4" x2="683.6" y2="239.2" stroke="#ffa020" stroke-width="1.1" stroke-opacity="0.9"/><line x1="670.5" y1="257.4" x2="684.6" y2="236.6" stroke="#ff8000" stroke-width="1.4" stroke-opacity="0.64"/><line x1="670.4" y1="257.3" x2="677.2" y2="247.1" stroke="#ff8000" stroke-width="1.5" stroke-opacity="0.78"/><line x1="670.4" y1="257.3" x2="684.7" y2="234.7" stroke="#ff7000" stroke-width="1.0" stroke-opacity="0.68"/><line x1="670.3" y1="257.2" x2="683.1" y2="236.6" stroke="#ff8000" stroke-width="1.2" stroke-opacity="0.78"/><line x1="670.3" y1="257.2" x2="683.1" y2="235.7" stroke="#ff9800" stroke-width="1.0" stroke-opacity="0.66"/><line x1="670.2" y1="257.2" x2="680.8" y2="238.8" stroke="#ff8000" stroke-width="1.2" stroke-opacity="0.68"/><line x1="670.1" y1="257.1" x2="682.6" y2="234.6" stroke="#ffa020" stroke-width="1.5" stroke-opacity="0.73"/><line x1="670.1" y1="257.1" x2="682.5" y2="233.8" stroke="#ff9800" stroke-width="1.4" stroke-opacity="0.62"/><line x1="670.0" y1="257.0" x2="681.2" y2="235.0" stroke="#ff8000" stroke-width="1.1" stroke-opacity="0.98"/><line x1="669.9" y1="257.0" x2="675.5" y2="245.7" stroke="#ff8000" stroke-width="1.1" stroke-opacity="0.93"/><line x1="669.8" y1="257.0" x2="678.6" y2="238.4" stroke="#ffa020" stroke-width="1.5" stroke-opacity="0.74"/><line x1="669.8" y1="256.9" x2="678.1" y2="238.5" stroke="#ffa020" stroke-width="1.2" stroke-opacity="0.98"/><line x1="669.7" y1="256.9" x2="676.4" y2="241.6" stroke="#ffa020" stroke-width="1.3" stroke-opacity="0.79"/><line x1="669.6" y1="256.9" x2="678.5" y2="235.7" stroke="#ff8000" stroke-width="1.1" stroke-opacity="0.9"/><line x1="669.6" y1="256.9" x2="679.7" y2="231.5" stroke="#ff7000" stroke-width="1.4" stroke-opacity="0.84"/><line x1="669.5" y1="256.8" x2="673.6" y2="245.9" stroke="#ff7000" stroke-width="1.0" stroke-opacity="0.69"/><line x1="669.4" y1="256.8" x2="675.1" y2="241.2" stroke="#ff7000" stroke-width="1.1" stroke-opacity="0.97"/><line x1="669.3" y1="256.8" x2="676.8" y2="235.0" stroke="#ffa020" stroke-width="1.3" stroke-opacity="0.77"/><line x1="669.3" y1="256.7" x2="678.0" y2="230.3" stroke="#ffa020" stroke-width="1.5" stroke-opacity="0.76"/><line x1="669.4" y1="256.8" x2="684.7" y2="214.5" stroke="#ff4000" stroke-width="1.6" stroke-opacity="0.76"/><line x1="669.3" y1="256.8" x2="679.6" y2="227.1" stroke="#ff5000" stroke-width="1.3" stroke-opacity="0.89"/><line x1="669.3" y1="256.8" x2="678.9" y2="227.7" stroke="#ff5000" stroke-width="1.3" stroke-opacity="0.8"/><line x1="669.2" y1="256.7" x2="681.6" y2="217.5" stroke="#ff3000" stroke-width="1.3" stroke-opacity="0.97"/><line x1="669.1" y1="256.7" x2="679.7" y2="221.6" stroke="#ff5000" stroke-width="1.5" stroke-opacity="0.91"/><line x1="669.0" y1="256.7" x2="681.1" y2="213.7" stroke="#ff3000" stroke-width="1.3" stroke-opacity="0.98"/><line x1="669.0" y1="256.7" x2="678.6" y2="220.8" stroke="#ff5000" stroke-width="1.5" stroke-opacity="0.79"/><line x1="668.9" y1="256.7" x2="677.9" y2="220.8" stroke="#ff3000" stroke-width="1.2" stroke-opacity="0.77"/><line x1="668.9" y1="256.6" x2="678.8" y2="215.7" stroke="#ff4000" stroke-width="1.4" stroke-opacity="0.74"/><line x1="668.8" y1="256.6" x2="675.5" y2="227.1" stroke="#ff4000" stroke-width="1.6" stroke-opacity="0.94"/><line x1="668.7" y1="256.6" x2="675.8" y2="222.0" stroke="#ff3000" stroke-width="1.0" stroke-opacity="0.76"/><line x1="668.6" y1="256.6" x2="674.3" y2="226.9" stroke="#ff6000" stroke-width="1.5" stroke-opacity="0.88"/><line x1="668.6" y1="256.6" x2="676.1" y2="215.1" stroke="#ff6000" stroke-width="1.1" stroke-opacity="0.94"/><line x1="668.5" y1="256.6" x2="674.5" y2="220.8" stroke="#ff3000" stroke-width="1.0" stroke-opacity="0.71"/><line x1="668.4" y1="256.6" x2="675.0" y2="212.1" stroke="#ff5000" stroke-width="1.5" stroke-opacity="0.77"/><line x1="668.4" y1="256.5" x2="672.7" y2="224.8" stroke="#ff6000" stroke-width="1.5" stroke-opacity="0.87"/><line x1="668.4" y1="256.5" x2="672.0" y2="230.9" stroke="#ff2000" stroke-width="1.5" stroke-opacity="0.81"/><line x1="668.3" y1="256.5" x2="672.8" y2="219.7" stroke="#ff3000" stroke-width="1.6" stroke-opacity="0.99"/><line x1="668.2" y1="256.5" x2="672.3" y2="219.7" stroke="#ff3000" stroke-width="1.6" stroke-opacity="0.86"/><line x1="668.2" y1="256.5" x2="670.1" y2="235.1" stroke="#ff2000" stroke-width="1.5" stroke-opacity="0.88"/><line x1="668.1" y1="256.5" x2="670.3" y2="229.2" stroke="#ff3000" stroke-width="1.4" stroke-opacity="0.86"/><line x1="668.0" y1="256.5" x2="670.2" y2="225.5" stroke="#f00000" stroke-width="1.2" stroke-opacity="0.9"/><line x1="667.9" y1="256.5" x2="669.2" y2="231.7" stroke="#ff3000" stroke-width="1.6" stroke-opacity="0.81"/><line x1="667.9" y1="256.5" x2="669.1" y2="224.5" stroke="#ff1000" stroke-width="1.4" stroke-opacity="0.94"/><line x1="667.8" y1="256.5" x2="668.8" y2="217.4" stroke="#ff1000" stroke-width="1.2" stroke-opacity="0.81"/><line x1="667.8" y1="256.5" x2="668.1" y2="226.3" stroke="#ff3000" stroke-width="1.8" stroke-opacity="0.84"/><line x1="667.7" y1="256.5" x2="667.6" y2="228.5" stroke="#ff3000" stroke-width="1.4" stroke-opacity="0.99"/><line x1="667.6" y1="256.5" x2="666.9" y2="216.7" stroke="#f00000" stroke-width="1.5" stroke-opacity="0.81"/><line x1="667.5" y1="256.5" x2="666.5" y2="227.8" stroke="#ff3000" stroke-width="1.2" stroke-opacity="0.85"/><line x1="667.5" y1="256.5" x2="666.3" y2="232.3" stroke="#ff1000" stroke-width="1.3" stroke-opacity="0.93"/><line x1="667.4" y1="256.5" x2="666.0" y2="234.0" stroke="#ff1000" stroke-width="1.8" stroke-opacity="0.94"/><line x1="667.3" y1="256.5" x2="665.2" y2="227.5" stroke="#ff3000" stroke-width="1.4" stroke-opacity="0.91"/><line x1="667.4" y1="256.5" x2="666.0" y2="232.9" stroke="#000080" stroke-width="1.3" stroke-opacity="0.98"/><line x1="667.3" y1="256.5" x2="665.7" y2="232.8" stroke="#000080" stroke-width="1.6" stroke-opacity="0.83"/><line x1="667.3" y1="256.5" x2="665.5" y2="235.4" stroke="#0000a8" stroke-width="1.6" stroke-opacity="0.83"/><line x1="667.2" y1="256.5" x2="664.9" y2="233.6" stroke="#0000d0" stroke-width="1.5" stroke-opacity="0.88"/><line x1="667.2" y1="256.5" x2="664.7" y2="234.4" stroke="#000080" stroke-width="1.2" stroke-opacity="0.82"/><line x1="667.1" y1="256.5" x2="664.3" y2="234.3" stroke="#0010b0" stroke-width="1.4" stroke-opacity="0.98"/><line x1="667.0" y1="256.5" x2="664.1" y2="235.1" stroke="#0000a8" stroke-width="1.4" stroke-opacity="0.83"/><line x1="666.9" y1="256.6" x2="662.4" y2="226.9" stroke="#000090" stroke-width="1.8" stroke-opacity="0.9"/><line x1="666.9" y1="256.6" x2="661.1" y2="222.3" stroke="#0010b0" stroke-width="1.6" stroke-opacity="0.91"/><line x1="666.8" y1="256.6" x2="659.9" y2="219.3" stroke="#000080" stroke-width="1.5" stroke-opacity="0.91"/><line x1="666.7" y1="256.6" x2="661.1" y2="227.9" stroke="#0000d0" stroke-width="1.4" stroke-opacity="0.95"/><line x1="666.7" y1="256.6" x2="661.3" y2="231.0" stroke="#0000a8" stroke-width="1.7" stroke-opacity="0.99"/><line x1="666.6" y1="256.6" x2="660.8" y2="230.6" stroke="#0000a8" stroke-width="1.6" stroke-opacity="0.81"/><line x1="666.5" y1="256.6" x2="658.9" y2="224.6" stroke="#0000a8" stroke-width="1.2" stroke-opacity="0.97"/><line x1="666.5" y1="256.7" x2="657.3" y2="221.1" stroke="#0000d0" stroke-width="1.5" stroke-opacity="0.95"/><line x1="666.4" y1="256.7" x2="660.6" y2="235.5" stroke="#0000d0" stroke-width="1.4" stroke-opacity="0.92"/><line x1="666.3" y1="256.7" x2="659.5" y2="233.1" stroke="#000080" stroke-width="1.4" stroke-opacity="0.86"/><line x1="666.3" y1="256.7" x2="662.5" y2="243.7" stroke="#2050e0" stroke-width="1.2" stroke-opacity="0.74"/><line x1="666.2" y1="256.7" x2="659.9" y2="236.1" stroke="#1060e8" stroke-width="1.4" stroke-opacity="0.71"/><line x1="666.1" y1="256.7" x2="663.7" y2="249.2" stroke="#2050e0" stroke-width="1.4" stroke-opacity="0.89"/><line x1="666.0" y1="256.8" x2="662.4" y2="246.4" stroke="#40a0f0" stroke-width="1.1" stroke-opacity="0.79"/><line x1="665.9" y1="256.8" x2="659.7" y2="240.2" stroke="#3080f0" stroke-width="1.1" stroke-opacity="0.78"/><line x1="665.9" y1="256.8" x2="658.7" y2="238.4" stroke="#2070f0" stroke-width="1.1" stroke-opacity="0.84"/><line x1="665.8" y1="256.9" x2="661.2" y2="245.8" stroke="#3080f0" stroke-width="1.0" stroke-opacity="0.99"/><line x1="665.7" y1="256.9" x2="660.3" y2="244.2" stroke="#3080f0" stroke-width="1.1" stroke-opacity="0.65"/><line x1="665.6" y1="256.9" x2="656.3" y2="236.4" stroke="#40a0f0" stroke-width="1.0" stroke-opacity="0.72"/><line x1="665.6" y1="257.0" x2="658.3" y2="241.5" stroke="#40a0f0" stroke-width="1.3" stroke-opacity="0.87"/><line x1="665.5" y1="257.0" x2="662.2" y2="250.3" stroke="#40a0f0" stroke-width="0.9" stroke-opacity="0.75"/><line x1="665.4" y1="257.1" x2="656.3" y2="239.5" stroke="#3080f0" stroke-width="0.9" stroke-opacity="0.77"/><line x1="665.3" y1="257.1" x2="660.7" y2="248.5" stroke="#2070f0" stroke-width="1.4" stroke-opacity="0.81"/><line x1="665.3" y1="257.1" x2="654.2" y2="237.3" stroke="#3080f0" stroke-width="1.2" stroke-opacity="0.65"/><line x1="665.2" y1="257.2" x2="652.1" y2="234.6" stroke="#40a0f0" stroke-width="0.9" stroke-opacity="0.72"/><line x1="665.1" y1="257.2" x2="655.6" y2="241.6" stroke="#2070f0" stroke-width="1.2" stroke-opacity="0.63"/><line x1="665.0" y1="257.3" x2="662.0" y2="252.5" stroke="#1060e8" stroke-width="1.1" stroke-opacity="0.99"/><line x1="665.0" y1="257.3" x2="656.0" y2="243.6" stroke="#3080f0" stroke-width="1.1" stroke-opacity="0.77"/><line x1="664.9" y1="257.4" x2="653.6" y2="240.8" stroke="#1060e8" stroke-width="0.9" stroke-opacity="0.99"/><line x1="664.8" y1="257.4" x2="652.4" y2="239.7" stroke="#2070f0" stroke-width="1.3" stroke-opacity="0.9"/><line x1="664.7" y1="257.5" x2="657.3" y2="247.2" stroke="#2070f0" stroke-width="1.3" stroke-opacity="0.85"/><line x1="664.7" y1="257.5" x2="660.3" y2="251.8" stroke="#1060e8" stroke-width="1.3" stroke-opacity="0.69"/><line x1="664.6" y1="257.6" x2="656.7" y2="247.6" stroke="#40a0f0" stroke-width="0.8" stroke-opacity="0.81"/><line x1="664.5" y1="257.6" x2="647.7" y2="237.0" stroke="#2050e0" stroke-width="1.1" stroke-opacity="0.63"/><line x1="664.5" y1="257.7" x2="657.6" y2="249.6" stroke="#40a0f0" stroke-width="1.4" stroke-opacity="0.76"/><line x1="664.4" y1="257.7" x2="655.6" y2="247.8" stroke="#40a0f0" stroke-width="1.1" stroke-opacity="0.68"/><line x1="664.4" y1="257.7" x2="637.1" y2="226.5" stroke="#30b0f0" stroke-width="1.2" stroke-opacity="0.9"/><line x1="664.4" y1="257.8" x2="636.6" y2="226.6" stroke="#30b0f0" stroke-width="1.4" stroke-opacity="0.97"/><line x1="664.3" y1="257.8" x2="633.0" y2="223.5" stroke="#2898e8" stroke-width="1.1" stroke-opacity="0.96"/><line x1="664.3" y1="257.8" x2="629.4" y2="220.5" stroke="#40c8f0" stroke-width="1.3" stroke-opacity="0.97"/><line x1="664.3" y1="257.9" x2="635.5" y2="227.6" stroke="#40c8f0" stroke-width="1.1" stroke-opacity="0.98"/><line x1="664.2" y1="257.9" x2="631.4" y2="224.0" stroke="#40c8f0" stroke-width="1.2" stroke-opacity="0.84"/><line x1="664.2" y1="257.9" x2="635.2" y2="228.6" stroke="#50d0f8" stroke-width="1.4" stroke-opacity="0.87"/><line x1="664.1" y1="258.0" x2="636.7" y2="230.8" stroke="#30b0f0" stroke-width="1.1" stroke-opacity="0.83"/><line x1="664.1" y1="258.0" x2="632.4" y2="227.2" stroke="#30b0f0" stroke-width="1.4" stroke-opacity="0.92"/><line x1="664.1" y1="258.1" x2="635.3" y2="230.8" stroke="#2898e8" stroke-width="1.3" stroke-opacity="0.84"/><line x1="664.0" y1="258.1" x2="633.7" y2="229.8" stroke="#50d0f8" stroke-width="1.5" stroke-opacity="0.97"/><line x1="664.0" y1="258.1" x2="631.2" y2="228.3" stroke="#30b0f0" stroke-width="1.5" stroke-opacity="0.94"/><line x1="662.8" y1="262.4" x2="647.1" y2="265.2" stroke="#50c8f8" stroke-width="1.5" stroke-opacity="0.79"/><line x1="662.8" y1="262.5" x2="647.8" y2="265.6" stroke="#50c8f8" stroke-width="1.4" stroke-opacity="0.83"/><line x1="662.8" y1="262.7" x2="648.8" y2="266.1" stroke="#40c0f8" stroke-width="1.2" stroke-opacity="0.82"/><line x1="662.9" y1="262.8" x2="639.4" y2="269.0" stroke="#50c8f8" stroke-width="1.0" stroke-opacity="0.74"/><line x1="662.9" y1="262.9" x2="642.5" y2="269.0" stroke="#30a0f0" stroke-width="1.5" stroke-opacity="0.84"/><line x1="662.9" y1="263.0" x2="643.3" y2="269.4" stroke="#1878e8" stroke-width="1.5" stroke-opacity="0.93"/><line x1="663.0" y1="263.2" x2="641.6" y2="270.8" stroke="#1878e8" stroke-width="1.2" stroke-opacity="0.82"/><line x1="663.0" y1="263.3" x2="641.6" y2="271.4" stroke="#50c8f8" stroke-width="1.3" stroke-opacity="0.7"/><line x1="663.1" y1="263.4" x2="642.7" y2="271.9" stroke="#50c8f8" stroke-width="1.2" stroke-opacity="0.66"/><line x1="663.1" y1="263.5" x2="640.3" y2="273.5" stroke="#50c8f8" stroke-width="1.2" stroke-opacity="0.68"/><line x1="663.2" y1="263.6" x2="646.6" y2="271.4" stroke="#1878e8" stroke-width="1.0" stroke-opacity="0.79"/><line x1="663.2" y1="263.7" x2="649.3" y2="270.7" stroke="#40c0f8" stroke-width="1.3" stroke-opacity="0.65"/><line x1="663.3" y1="263.9" x2="647.4" y2="272.4" stroke="#1878e8" stroke-width="1.0" stroke-opacity="0.71"/><line x1="663.4" y1="264.0" x2="648.5" y2="272.4" stroke="#1878e8" stroke-width="1.5" stroke-opacity="0.79"/><line x1="663.4" y1="264.1" x2="647.5" y2="273.8" stroke="#1878e8" stroke-width="1.3" stroke-opacity="0.71"/><line x1="663.5" y1="264.2" x2="644.1" y2="276.8" stroke="#40c0f8" stroke-width="1.1" stroke-opacity="0.7"/><line x1="668.6" y1="266.4" x2="672.7" y2="288.7" stroke="url(#yg)" stroke-width="0.8" stroke-opacity="0.7"/><line x1="668.7" y1="266.4" x2="675.0" y2="297.3" stroke="url(#yg)" stroke-width="0.9" stroke-opacity="0.41"/><line x1="668.7" y1="266.4" x2="675.7" y2="298.9" stroke="url(#yg)" stroke-width="1.1" stroke-opacity="0.48"/><line x1="668.9" y1="266.4" x2="675.0" y2="291.8" stroke="url(#yg)" stroke-width="1.0" stroke-opacity="0.56"/><line x1="669.0" y1="266.3" x2="675.8" y2="292.9" stroke="url(#yg)" stroke-width="1.0" stroke-opacity="0.5"/><line x1="669.0" y1="266.3" x2="674.5" y2="286.6" stroke="url(#yg)" stroke-width="0.7" stroke-opacity="0.57"/><line x1="669.1" y1="266.3" x2="673.3" y2="280.7" stroke="url(#yg)" stroke-width="1.3" stroke-opacity="0.77"/><line x1="669.2" y1="266.3" x2="678.3" y2="295.9" stroke="url(#yg)" stroke-width="1.1" stroke-opacity="0.63"/><line x1="669.3" y1="266.3" x2="680.5" y2="300.7" stroke="url(#yg)" stroke-width="0.8" stroke-opacity="0.84"/><line x1="669.3" y1="266.2" x2="679.6" y2="295.7" stroke="url(#yg)" stroke-width="0.9" stroke-opacity="0.41"/><line x1="669.4" y1="266.2" x2="677.1" y2="287.2" stroke="url(#yg)" stroke-width="0.8" stroke-opacity="0.39"/><line x1="669.5" y1="266.2" x2="680.2" y2="294.1" stroke="url(#yg)" stroke-width="0.7" stroke-opacity="0.74"/><line x1="669.6" y1="266.1" x2="678.5" y2="288.0" stroke="url(#yg)" stroke-width="1.1" stroke-opacity="0.57"/><line x1="669.7" y1="266.1" x2="677.0" y2="283.5" stroke="url(#yg)" stroke-width="1.1" stroke-opacity="0.56"/><line x1="669.8" y1="266.1" x2="676.0" y2="279.9" stroke="url(#yg)" stroke-width="0.9" stroke-opacity="0.84"/><line x1="669.8" y1="266.0" x2="677.2" y2="281.6" stroke="url(#yg)" stroke-width="1.2" stroke-opacity="0.57"/><line x1="669.9" y1="266.0" x2="683.1" y2="292.6" stroke="url(#yg)" stroke-width="1.0" stroke-opacity="0.47"/><line x1="670.0" y1="266.0" x2="676.9" y2="279.4" stroke="url(#yg)" stroke-width="0.9" stroke-opacity="0.4"/><line x1="670.1" y1="265.9" x2="680.5" y2="285.2" stroke="url(#yg)" stroke-width="1.1" stroke-opacity="0.5"/><line x1="670.1" y1="265.9" x2="677.8" y2="279.4" stroke="url(#yg)" stroke-width="0.8" stroke-opacity="0.58"/><line x1="670.2" y1="265.8" x2="683.5" y2="288.5" stroke="url(#yg)" stroke-width="1.1" stroke-opacity="0.61"/><line x1="670.3" y1="265.8" x2="683.0" y2="286.6" stroke="url(#yg)" stroke-width="0.8" stroke-opacity="0.58"/><line x1="670.4" y1="265.7" x2="684.7" y2="288.2" stroke="url(#yg)" stroke-width="1.0" stroke-opacity="0.66"/><line x1="667.3" y1="266.5" x2="666.1" y2="280.5" stroke="#ff8000" stroke-width="1.3" stroke-opacity="0.69"/><line x1="667.4" y1="266.5" x2="666.5" y2="281.9" stroke="#ffa020" stroke-width="1.3" stroke-opacity="0.79"/><line x1="667.5" y1="266.5" x2="667.1" y2="277.5" stroke="#ff4000" stroke-width="1.0" stroke-opacity="0.85"/><line x1="667.7" y1="266.5" x2="667.7" y2="274.4" stroke="#ff4000" stroke-width="1.0" stroke-opacity="0.87"/><line x1="667.8" y1="266.5" x2="668.1" y2="278.4" stroke="#ff4000" stroke-width="1.5" stroke-opacity="0.92"/><line x1="667.9" y1="266.5" x2="668.5" y2="278.4" stroke="#ff6000" stroke-width="1.4" stroke-opacity="0.65"/><line x1="668.1" y1="266.5" x2="669.3" y2="284.3" stroke="#ff8000" stroke-width="1.4" stroke-opacity="0.81"/><line x1="668.2" y1="266.5" x2="670.2" y2="285.7" stroke="#ff8000" stroke-width="1.0" stroke-opacity="0.87"/><line x1="668.3" y1="266.5" x2="670.3" y2="281.5" stroke="#ff6000" stroke-width="1.2" stroke-opacity="0.8"/><line x1="668.5" y1="266.4" x2="669.8" y2="274.7" stroke="#ffa020" stroke-width="1.2" stroke-opacity="0.79"/><line x1="668.6" y1="266.4" x2="671.5" y2="282.8" stroke="#ff6000" stroke-width="1.3" stroke-opacity="0.85"/><line x1="668.7" y1="266.4" x2="672.7" y2="285.6" stroke="#ffa020" stroke-width="1.1" stroke-opacity="0.7"/><line x1="668.9" y1="266.4" x2="672.2" y2="280.6" stroke="#ff4000" stroke-width="1.1" stroke-opacity="0.73"/><line x1="669.0" y1="266.3" x2="671.1" y2="274.0" stroke="#ff8000" stroke-width="1.0" stroke-opacity="0.76"/><line x1="669.1" y1="266.3" x2="672.7" y2="279.0" stroke="#ffa020" stroke-width="1.1" stroke-opacity="0.8"/><line x1="669.2" y1="266.3" x2="672.6" y2="276.8" stroke="#ff4000" stroke-width="1.2" stroke-opacity="0.77"/><line x1="669.4" y1="266.2" x2="671.9" y2="273.4" stroke="#ff4000" stroke-width="1.4" stroke-opacity="0.71"/><line x1="669.5" y1="266.2" x2="673.3" y2="276.0" stroke="#ff8000" stroke-width="1.5" stroke-opacity="0.61"/><line x1="669.6" y1="266.1" x2="674.8" y2="278.7" stroke="#ff6000" stroke-width="1.2" stroke-opacity="0.79"/><line x1="669.7" y1="266.1" x2="675.8" y2="279.8" stroke="#ff4000" stroke-width="1.3" stroke-opacity="0.62"/><line x1="669.9" y1="266.0" x2="676.8" y2="280.4" stroke="#ff8000" stroke-width="1.1" stroke-opacity="0.96"/><line x1="670.0" y1="265.9" x2="679.1" y2="283.6" stroke="#ff6000" stroke-width="1.1" stroke-opacity="0.91"/><line x1="670.1" y1="265.9" x2="680.1" y2="284.8" stroke="#ff6000" stroke-width="1.1" stroke-opacity="0.97"/><line x1="670.2" y1="265.8" x2="678.2" y2="279.5" stroke="#ff8000" stroke-width="1.3" stroke-opacity="0.66"/></g><circle cx="667.7" cy="261.5" r="4.8" fill="#fff"/><polyline points="667.3,267.0 661.8,280.0 666.3,286.0 672.3,292.0 677.3,302.0" fill="none" stroke="#ff0000" stroke-width="2.4" stroke-linejoin="round"/><polyline points="665.0,268.0 659.5,281.0 664.0,287.0 670.0,293.0 675.0,303.0" fill="none" stroke="#000058" stroke-width="3.0" stroke-linejoin="round"/><polyline points="678.8,304.5 682.3,310.0 687.3,316.0" fill="none" stroke="#ff0000" stroke-width="2.0" stroke-linejoin="round"/><polyline points="676.5,305.5 680.0,311.0 685.0,317.0" fill="none" stroke="#000058" stroke-width="2.2" stroke-linejoin="round"/><polyline points="689.3,318.5 691.8,323.5" fill="none" stroke="#ff0000" stroke-width="1.8" stroke-linejoin="round"/><polyline points="687.0,319.5 689.5,324.5" fill="none" stroke="#000058" stroke-width="2.0" stroke-linejoin="round"/><polygon points="505.8,272.8 508.3,272.8 510.0,277.1 510.0,282.2 508.3,288.1 510.0,294.1 510.9,298.3 514.3,301.7 512.6,303.4 509.2,301.7 505.8,297.5 504.1,291.5 504.5,285.6 504.9,277.1" fill="#ff0000" stroke="#ff0000" stroke-width="0.6"/><polygon points="505.2,278.4 507.0,278.4 508.2,281.4 508.2,285.0 507.0,289.2 508.2,293.4 508.8,296.4 511.2,298.8 510.0,300.0 507.6,298.8 505.2,295.8 504.0,291.6 504.3,287.4 504.6,281.4" fill="#000058"/><polygon points="523.4,303.8 529.3,301.7 532.7,304.7 534.9,309.8 533.6,314.0 529.3,316.6 528.5,314.0 530.2,309.8 528.5,305.5 525.1,304.2" fill="#ff0000" stroke="#ff0000" stroke-width="0.6"/><polygon points="523.8,306.1 528.0,304.6 530.4,306.7 531.9,310.3 531.0,313.3 528.0,315.1 527.4,313.3 528.6,310.3 527.4,307.3 525.0,306.4" fill="#000058"/><polygon points="507.8,328.2 512.9,326.9 517.1,328.6 520.5,333.7 522.2,336.2 518.8,337.1 517.1,334.5 512.0,330.3" fill="#ff0000" stroke="#ff0000" stroke-width="0.6"/><polygon points="508.8,330.2 512.4,329.3 515.4,330.5 517.8,334.1 519.0,335.9 516.6,336.5 515.4,334.7 511.8,331.7" fill="#000058"/><polygon points="528.0,337.7 531.4,336.0 534.0,339.4 534.0,342.8 537.0,344.5 534.0,346.2 530.6,344.5 528.9,341.1" fill="#ff0000" stroke="#ff0000" stroke-width="0.6"/><polygon points="527.9,339.7 530.3,338.5 532.1,340.9 532.1,343.3 534.2,344.5 532.1,345.7 529.7,344.5 528.5,342.1" fill="#000058"/><polygon points="699.8,326.6 704.0,326.2 704.0,333.4 701.5,334.3" fill="#ff0000" stroke="#ff0000" stroke-width="0.6"/><polygon points="699.1,328.5 702.1,328.2 702.1,333.3 700.3,333.9" fill="#000058"/><polygon points="695.2,332.6 697.3,332.6 699.4,339.4 697.3,340.3" fill="#ff0000" stroke="#ff0000" stroke-width="0.6"/><polygon points="694.4,334.6 695.9,334.6 697.4,339.4 695.9,340.0" fill="#000058"/><polygon points="707.1,339.4 713.5,339.4 716.0,344.5 710.9,345.7 709.6,352.1 710.2,361.6 707.7,359.7 706.5,349.6 707.1,341.9" fill="#ff0000" stroke="#ff0000" stroke-width="0.6"/><polygon points="706.5,342.9 711.0,342.9 712.8,346.5 709.2,347.4 708.3,351.9 708.7,358.6 706.9,357.2 706.1,350.1 706.5,344.7" fill="#000058"/><polygon points="721.7,348.1 726.1,347.5 731.2,352.6 733.1,347.5 740.1,346.3 743.9,345.0 750.2,351.4 745.2,350.1 740.1,352.6 736.3,355.2 735.0,361.5 732.5,359.0 729.9,355.2 724.8,352.6" fill="#ff0000" stroke="#ff0000" stroke-width="0.6"/><polygon points="724.2,350.1 727.3,349.7 730.9,353.3 732.3,349.7 737.2,348.8 739.9,347.9 744.3,352.4 740.8,351.5 737.2,353.3 734.5,355.1 733.6,359.5 731.8,357.8 730.0,355.1 726.4,353.3" fill="#000058"/><line x1="727" y1="236" x2="733" y2="234.5" stroke="#ff0000" stroke-width="1.5"/>
<rect x="59.0" y="74.0" width="374.5" height="375.0" fill="none" stroke="#000" stroke-width="2"/>
<rect x="480.3" y="74.0" width="374.5" height="375.0" fill="none" stroke="#000" stroke-width="2"/>
<g stroke="#000"><line x1="59.00" y1="74.0" x2="59.00" y2="60.0" stroke-width="2"/><line x1="59.00" y1="449.0" x2="59.00" y2="463.0" stroke-width="2"/><line x1="59.0" y1="449.00" x2="45.0" y2="449.00" stroke-width="2"/><line x1="433.5" y1="449.00" x2="447.5" y2="449.00" stroke-width="2"/><line x1="70.70" y1="74.0" x2="70.70" y2="67.0" stroke-width="1.6"/><line x1="70.70" y1="449.0" x2="70.70" y2="456.0" stroke-width="1.6"/><line x1="59.0" y1="437.28" x2="52.0" y2="437.28" stroke-width="1.6"/><line x1="433.5" y1="437.28" x2="440.5" y2="437.28" stroke-width="1.6"/><line x1="82.41" y1="74.0" x2="82.41" y2="67.0" stroke-width="1.6"/><line x1="82.41" y1="449.0" x2="82.41" y2="456.0" stroke-width="1.6"/><line x1="59.0" y1="425.56" x2="52.0" y2="425.56" stroke-width="1.6"/><line x1="433.5" y1="425.56" x2="440.5" y2="425.56" stroke-width="1.6"/><line x1="94.11" y1="74.0" x2="94.11" y2="67.0" stroke-width="1.6"/><line x1="94.11" y1="449.0" x2="94.11" y2="456.0" stroke-width="1.6"/><line x1="59.0" y1="413.84" x2="52.0" y2="413.84" stroke-width="1.6"/><line x1="433.5" y1="413.84" x2="440.5" y2="413.84" stroke-width="1.6"/><line x1="105.81" y1="74.0" x2="105.81" y2="67.0" stroke-width="1.6"/><line x1="105.81" y1="449.0" x2="105.81" y2="456.0" stroke-width="1.6"/><line x1="59.0" y1="402.12" x2="52.0" y2="402.12" stroke-width="1.6"/><line x1="433.5" y1="402.12" x2="440.5" y2="402.12" stroke-width="1.6"/><line x1="117.52" y1="74.0" x2="117.52" y2="67.0" stroke-width="1.6"/><line x1="117.52" y1="449.0" x2="117.52" y2="456.0" stroke-width="1.6"/><line x1="59.0" y1="390.41" x2="52.0" y2="390.41" stroke-width="1.6"/><line x1="433.5" y1="390.41" x2="440.5" y2="390.41" stroke-width="1.6"/><line x1="129.22" y1="74.0" x2="129.22" y2="67.0" stroke-width="1.6"/><line x1="129.22" y1="449.0" x2="129.22" y2="456.0" stroke-width="1.6"/><line x1="59.0" y1="378.69" x2="52.0" y2="378.69" stroke-width="1.6"/><line x1="433.5" y1="378.69" x2="440.5" y2="378.69" stroke-width="1.6"/><line x1="140.92" y1="74.0" x2="140.92" y2="67.0" stroke-width="1.6"/><line x1="140.92" y1="449.0" x2="140.92" y2="456.0" stroke-width="1.6"/><line x1="59.0" y1="366.97" x2="52.0" y2="366.97" stroke-width="1.6"/><line x1="433.5" y1="366.97" x2="440.5" y2="366.97" stroke-width="1.6"/><line x1="152.62" y1="74.0" x2="152.62" y2="60.0" stroke-width="2"/><line x1="152.62" y1="449.0" x2="152.62" y2="463.0" stroke-width="2"/><line x1="59.0" y1="355.25" x2="45.0" y2="355.25" stroke-width="2"/><line x1="433.5" y1="355.25" x2="447.5" y2="355.25" stroke-width="2"/><line x1="164.33" y1="74.0" x2="164.33" y2="67.0" stroke-width="1.6"/><line x1="164.33" y1="449.0" x2="164.33" y2="456.0" stroke-width="1.6"/><line x1="59.0" y1="343.53" x2="52.0" y2="343.53" stroke-width="1.6"/><line x1="433.5" y1="343.53" x2="440.5" y2="343.53" stroke-width="1.6"/><line x1="176.03" y1="74.0" x2="176.03" y2="67.0" stroke-width="1.6"/><line x1="176.03" y1="449.0" x2="176.03" y2="456.0" stroke-width="1.6"/><line x1="59.0" y1="331.81" x2="52.0" y2="331.81" stroke-width="1.6"/><line x1="433.5" y1="331.81" x2="440.5" y2="331.81" stroke-width="1.6"/><line x1="187.73" y1="74.0" x2="187.73" y2="67.0" stroke-width="1.6"/><line x1="187.73" y1="449.0" x2="187.73" y2="456.0" stroke-width="1.6"/><line x1="59.0" y1="320.09" x2="52.0" y2="320.09" stroke-width="1.6"/><line x1="433.5" y1="320.09" x2="440.5" y2="320.09" stroke-width="1.6"/><line x1="199.44" y1="74.0" x2="199.44" y2="67.0" stroke-width="1.6"/><line x1="199.44" y1="449.0" x2="199.44" y2="456.0" stroke-width="1.6"/><line x1="59.0" y1="308.38" x2="52.0" y2="308.38" stroke-width="1.6"/><line x1="433.5" y1="308.38" x2="440.5" y2="308.38" stroke-width="1.6"/><line x1="211.14" y1="74.0" x2="211.14" y2="67.0" stroke-width="1.6"/><line x1="211.14" y1="449.0" x2="211.14" y2="456.0" stroke-width="1.6"/><line x1="59.0" y1="296.66" x2="52.0" y2="296.66" stroke-width="1.6"/><line x1="433.5" y1="296.66" x2="440.5" y2="296.66" stroke-width="1.6"/><line x1="222.84" y1="74.0" x2="222.84" y2="67.0" stroke-width="1.6"/><line x1="222.84" y1="449.0" x2="222.84" y2="456.0" stroke-width="1.6"/><line x1="59.0" y1="284.94" x2="52.0" y2="284.94" stroke-width="1.6"/><line x1="433.5" y1="284.94" x2="440.5" y2="284.94" stroke-width="1.6"/><line x1="234.55" y1="74.0" x2="234.55" y2="67.0" stroke-width="1.6"/><line x1="234.55" y1="449.0" x2="234.55" y2="456.0" stroke-width="1.6"/><line x1="59.0" y1="273.22" x2="52.0" y2="273.22" stroke-width="1.6"/><line x1="433.5" y1="273.22" x2="440.5" y2="273.22" stroke-width="1.6"/><line x1="246.25" y1="74.0" x2="246.25" y2="60.0" stroke-width="2"/><line x1="246.25" y1="449.0" x2="246.25" y2="463.0" stroke-width="2"/><line x1="59.0" y1="261.50" x2="45.0" y2="261.50" stroke-width="2"/><line x1="433.5" y1="261.50" x2="447.5" y2="261.50" stroke-width="2"/><line x1="257.95" y1="74.0" x2="257.95" y2="67.0" stroke-width="1.6"/><line x1="257.95" y1="449.0" x2="257.95" y2="456.0" stroke-width="1.6"/><line x1="59.0" y1="249.78" x2="52.0" y2="249.78" stroke-width="1.6"/><line x1="433.5" y1="249.78" x2="440.5" y2="249.78" stroke-width="1.6"/><line x1="269.66" y1="74.0" x2="269.66" y2="67.0" stroke-width="1.6"/><line x1="269.66" y1="449.0" x2="269.66" y2="456.0" stroke-width="1.6"/><line x1="59.0" y1="238.06" x2="52.0" y2="238.06" stroke-width="1.6"/><line x1="433.5" y1="238.06" x2="440.5" y2="238.06" stroke-width="1.6"/><line x1="281.36" y1="74.0" x2="281.36" y2="67.0" stroke-width="1.6"/><line x1="281.36" y1="449.0" x2="281.36" y2="456.0" stroke-width="1.6"/><line x1="59.0" y1="226.34" x2="52.0" y2="226.34" stroke-width="1.6"/><line x1="433.5" y1="226.34" x2="440.5" y2="226.34" stroke-width="1.6"/><line x1="293.06" y1="74.0" x2="293.06" y2="67.0" stroke-width="1.6"/><line x1="293.06" y1="449.0" x2="293.06" y2="456.0" stroke-width="1.6"/><line x1="59.0" y1="214.62" x2="52.0" y2="214.62" stroke-width="1.6"/><line x1="433.5" y1="214.62" x2="440.5" y2="214.62" stroke-width="1.6"/><line x1="304.77" y1="74.0" x2="304.77" y2="67.0" stroke-width="1.6"/><line x1="304.77" y1="449.0" x2="304.77" y2="456.0" stroke-width="1.6"/><line x1="59.0" y1="202.91" x2="52.0" y2="202.91" stroke-width="1.6"/><line x1="433.5" y1="202.91" x2="440.5" y2="202.91" stroke-width="1.6"/><line x1="316.47" y1="74.0" x2="316.47" y2="67.0" stroke-width="1.6"/><line x1="316.47" y1="449.0" x2="316.47" y2="456.0" stroke-width="1.6"/><line x1="59.0" y1="191.19" x2="52.0" y2="191.19" stroke-width="1.6"/><line x1="433.5" y1="191.19" x2="440.5" y2="191.19" stroke-width="1.6"/><line x1="328.17" y1="74.0" x2="328.17" y2="67.0" stroke-width="1.6"/><line x1="328.17" y1="449.0" x2="328.17" y2="456.0" stroke-width="1.6"/><line x1="59.0" y1="179.47" x2="52.0" y2="179.47" stroke-width="1.6"/><line x1="433.5" y1="179.47" x2="440.5" y2="179.47" stroke-width="1.6"/><line x1="339.88" y1="74.0" x2="339.88" y2="60.0" stroke-width="2"/><line x1="339.88" y1="449.0" x2="339.88" y2="463.0" stroke-width="2"/><line x1="59.0" y1="167.75" x2="45.0" y2="167.75" stroke-width="2"/><line x1="433.5" y1="167.75" x2="447.5" y2="167.75" stroke-width="2"/><line x1="351.58" y1="74.0" x2="351.58" y2="67.0" stroke-width="1.6"/><line x1="351.58" y1="449.0" x2="351.58" y2="456.0" stroke-width="1.6"/><line x1="59.0" y1="156.03" x2="52.0" y2="156.03" stroke-width="1.6"/><line x1="433.5" y1="156.03" x2="440.5" y2="156.03" stroke-width="1.6"/><line x1="363.28" y1="74.0" x2="363.28" y2="67.0" stroke-width="1.6"/><line x1="363.28" y1="449.0" x2="363.28" y2="456.0" stroke-width="1.6"/><line x1="59.0" y1="144.31" x2="52.0" y2="144.31" stroke-width="1.6"/><line x1="433.5" y1="144.31" x2="440.5" y2="144.31" stroke-width="1.6"/><line x1="374.98" y1="74.0" x2="374.98" y2="67.0" stroke-width="1.6"/><line x1="374.98" y1="449.0" x2="374.98" y2="456.0" stroke-width="1.6"/><line x1="59.0" y1="132.59" x2="52.0" y2="132.59" stroke-width="1.6"/><line x1="433.5" y1="132.59" x2="440.5" y2="132.59" stroke-width="1.6"/><line x1="386.69" y1="74.0" x2="386.69" y2="67.0" stroke-width="1.6"/><line x1="386.69" y1="449.0" x2="386.69" y2="456.0" stroke-width="1.6"/><line x1="59.0" y1="120.88" x2="52.0" y2="120.88" stroke-width="1.6"/><line x1="433.5" y1="120.88" x2="440.5" y2="120.88" stroke-width="1.6"/><line x1="398.39" y1="74.0" x2="398.39" y2="67.0" stroke-width="1.6"/><line x1="398.39" y1="449.0" x2="398.39" y2="456.0" stroke-width="1.6"/><line x1="59.0" y1="109.16" x2="52.0" y2="109.16" stroke-width="1.6"/><line x1="433.5" y1="109.16" x2="440.5" y2="109.16" stroke-width="1.6"/><line x1="410.09" y1="74.0" x2="410.09" y2="67.0" stroke-width="1.6"/><line x1="410.09" y1="449.0" x2="410.09" y2="456.0" stroke-width="1.6"/><line x1="59.0" y1="97.44" x2="52.0" y2="97.44" stroke-width="1.6"/><line x1="433.5" y1="97.44" x2="440.5" y2="97.44" stroke-width="1.6"/><line x1="421.80" y1="74.0" x2="421.80" y2="67.0" stroke-width="1.6"/><line x1="421.80" y1="449.0" x2="421.80" y2="456.0" stroke-width="1.6"/><line x1="59.0" y1="85.72" x2="52.0" y2="85.72" stroke-width="1.6"/><line x1="433.5" y1="85.72" x2="440.5" y2="85.72" stroke-width="1.6"/><line x1="433.50" y1="74.0" x2="433.50" y2="60.0" stroke-width="2"/><line x1="433.50" y1="449.0" x2="433.50" y2="463.0" stroke-width="2"/><line x1="59.0" y1="74.00" x2="45.0" y2="74.00" stroke-width="2"/><line x1="433.5" y1="74.00" x2="447.5" y2="74.00" stroke-width="2"/></g>
<g stroke="#000"><line x1="480.30" y1="74.0" x2="480.30" y2="60.0" stroke-width="2"/><line x1="480.30" y1="449.0" x2="480.30" y2="463.0" stroke-width="2"/><line x1="480.3" y1="449.00" x2="466.3" y2="449.00" stroke-width="2"/><line x1="854.8" y1="449.00" x2="868.8" y2="449.00" stroke-width="2"/><line x1="492.00" y1="74.0" x2="492.00" y2="67.0" stroke-width="1.6"/><line x1="492.00" y1="449.0" x2="492.00" y2="456.0" stroke-width="1.6"/><line x1="480.3" y1="437.28" x2="473.3" y2="437.28" stroke-width="1.6"/><line x1="854.8" y1="437.28" x2="861.8" y2="437.28" stroke-width="1.6"/><line x1="503.71" y1="74.0" x2="503.71" y2="67.0" stroke-width="1.6"/><line x1="503.71" y1="449.0" x2="503.71" y2="456.0" stroke-width="1.6"/><line x1="480.3" y1="425.56" x2="473.3" y2="425.56" stroke-width="1.6"/><line x1="854.8" y1="425.56" x2="861.8" y2="425.56" stroke-width="1.6"/><line x1="515.41" y1="74.0" x2="515.41" y2="67.0" stroke-width="1.6"/><line x1="515.41" y1="449.0" x2="515.41" y2="456.0" stroke-width="1.6"/><line x1="480.3" y1="413.84" x2="473.3" y2="413.84" stroke-width="1.6"/><line x1="854.8" y1="413.84" x2="861.8" y2="413.84" stroke-width="1.6"/><line x1="527.11" y1="74.0" x2="527.11" y2="67.0" stroke-width="1.6"/><line x1="527.11" y1="449.0" x2="527.11" y2="456.0" stroke-width="1.6"/><line x1="480.3" y1="402.12" x2="473.3" y2="402.12" stroke-width="1.6"/><line x1="854.8" y1="402.12" x2="861.8" y2="402.12" stroke-width="1.6"/><line x1="538.82" y1="74.0" x2="538.82" y2="67.0" stroke-width="1.6"/><line x1="538.82" y1="449.0" x2="538.82" y2="456.0" stroke-width="1.6"/><line x1="480.3" y1="390.41" x2="473.3" y2="390.41" stroke-width="1.6"/><line x1="854.8" y1="390.41" x2="861.8" y2="390.41" stroke-width="1.6"/><line x1="550.52" y1="74.0" x2="550.52" y2="67.0" stroke-width="1.6"/><line x1="550.52" y1="449.0" x2="550.52" y2="456.0" stroke-width="1.6"/><line x1="480.3" y1="378.69" x2="473.3" y2="378.69" stroke-width="1.6"/><line x1="854.8" y1="378.69" x2="861.8" y2="378.69" stroke-width="1.6"/><line x1="562.22" y1="74.0" x2="562.22" y2="67.0" stroke-width="1.6"/><line x1="562.22" y1="449.0" x2="562.22" y2="456.0" stroke-width="1.6"/><line x1="480.3" y1="366.97" x2="473.3" y2="366.97" stroke-width="1.6"/><line x1="854.8" y1="366.97" x2="861.8" y2="366.97" stroke-width="1.6"/><line x1="573.92" y1="74.0" x2="573.92" y2="60.0" stroke-width="2"/><line x1="573.92" y1="449.0" x2="573.92" y2="463.0" stroke-width="2"/><line x1="480.3" y1="355.25" x2="466.3" y2="355.25" stroke-width="2"/><line x1="854.8" y1="355.25" x2="868.8" y2="355.25" stroke-width="2"/><line x1="585.63" y1="74.0" x2="585.63" y2="67.0" stroke-width="1.6"/><line x1="585.63" y1="449.0" x2="585.63" y2="456.0" stroke-width="1.6"/><line x1="480.3" y1="343.53" x2="473.3" y2="343.53" stroke-width="1.6"/><line x1="854.8" y1="343.53" x2="861.8" y2="343.53" stroke-width="1.6"/><line x1="597.33" y1="74.0" x2="597.33" y2="67.0" stroke-width="1.6"/><line x1="597.33" y1="449.0" x2="597.33" y2="456.0" stroke-width="1.6"/><line x1="480.3" y1="331.81" x2="473.3" y2="331.81" stroke-width="1.6"/><line x1="854.8" y1="331.81" x2="861.8" y2="331.81" stroke-width="1.6"/><line x1="609.03" y1="74.0" x2="609.03" y2="67.0" stroke-width="1.6"/><line x1="609.03" y1="449.0" x2="609.03" y2="456.0" stroke-width="1.6"/><line x1="480.3" y1="320.09" x2="473.3" y2="320.09" stroke-width="1.6"/><line x1="854.8" y1="320.09" x2="861.8" y2="320.09" stroke-width="1.6"/><line x1="620.74" y1="74.0" x2="620.74" y2="67.0" stroke-width="1.6"/><line x1="620.74" y1="449.0" x2="620.74" y2="456.0" stroke-width="1.6"/><line x1="480.3" y1="308.38" x2="473.3" y2="308.38" stroke-width="1.6"/><line x1="854.8" y1="308.38" x2="861.8" y2="308.38" stroke-width="1.6"/><line x1="632.44" y1="74.0" x2="632.44" y2="67.0" stroke-width="1.6"/><line x1="632.44" y1="449.0" x2="632.44" y2="456.0" stroke-width="1.6"/><line x1="480.3" y1="296.66" x2="473.3" y2="296.66" stroke-width="1.6"/><line x1="854.8" y1="296.66" x2="861.8" y2="296.66" stroke-width="1.6"/><line x1="644.14" y1="74.0" x2="644.14" y2="67.0" stroke-width="1.6"/><line x1="644.14" y1="449.0" x2="644.14" y2="456.0" stroke-width="1.6"/><line x1="480.3" y1="284.94" x2="473.3" y2="284.94" stroke-width="1.6"/><line x1="854.8" y1="284.94" x2="861.8" y2="284.94" stroke-width="1.6"/><line x1="655.85" y1="74.0" x2="655.85" y2="67.0" stroke-width="1.6"/><line x1="655.85" y1="449.0" x2="655.85" y2="456.0" stroke-width="1.6"/><line x1="480.3" y1="273.22" x2="473.3" y2="273.22" stroke-width="1.6"/><line x1="854.8" y1="273.22" x2="861.8" y2="273.22" stroke-width="1.6"/><line x1="667.55" y1="74.0" x2="667.55" y2="60.0" stroke-width="2"/><line x1="667.55" y1="449.0" x2="667.55" y2="463.0" stroke-width="2"/><line x1="480.3" y1="261.50" x2="466.3" y2="261.50" stroke-width="2"/><line x1="854.8" y1="261.50" x2="868.8" y2="261.50" stroke-width="2"/><line x1="679.25" y1="74.0" x2="679.25" y2="67.0" stroke-width="1.6"/><line x1="679.25" y1="449.0" x2="679.25" y2="456.0" stroke-width="1.6"/><line x1="480.3" y1="249.78" x2="473.3" y2="249.78" stroke-width="1.6"/><line x1="854.8" y1="249.78" x2="861.8" y2="249.78" stroke-width="1.6"/><line x1="690.96" y1="74.0" x2="690.96" y2="67.0" stroke-width="1.6"/><line x1="690.96" y1="449.0" x2="690.96" y2="456.0" stroke-width="1.6"/><line x1="480.3" y1="238.06" x2="473.3" y2="238.06" stroke-width="1.6"/><line x1="854.8" y1="238.06" x2="861.8" y2="238.06" stroke-width="1.6"/><line x1="702.66" y1="74.0" x2="702.66" y2="67.0" stroke-width="1.6"/><line x1="702.66" y1="449.0" x2="702.66" y2="456.0" stroke-width="1.6"/><line x1="480.3" y1="226.34" x2="473.3" y2="226.34" stroke-width="1.6"/><line x1="854.8" y1="226.34" x2="861.8" y2="226.34" stroke-width="1.6"/><line x1="714.36" y1="74.0" x2="714.36" y2="67.0" stroke-width="1.6"/><line x1="714.36" y1="449.0" x2="714.36" y2="456.0" stroke-width="1.6"/><line x1="480.3" y1="214.62" x2="473.3" y2="214.62" stroke-width="1.6"/><line x1="854.8" y1="214.62" x2="861.8" y2="214.62" stroke-width="1.6"/><line x1="726.07" y1="74.0" x2="726.07" y2="67.0" stroke-width="1.6"/><line x1="726.07" y1="449.0" x2="726.07" y2="456.0" stroke-width="1.6"/><line x1="480.3" y1="202.91" x2="473.3" y2="202.91" stroke-width="1.6"/><line x1="854.8" y1="202.91" x2="861.8" y2="202.91" stroke-width="1.6"/><line x1="737.77" y1="74.0" x2="737.77" y2="67.0" stroke-width="1.6"/><line x1="737.77" y1="449.0" x2="737.77" y2="456.0" stroke-width="1.6"/><line x1="480.3" y1="191.19" x2="473.3" y2="191.19" stroke-width="1.6"/><line x1="854.8" y1="191.19" x2="861.8" y2="191.19" stroke-width="1.6"/><line x1="749.47" y1="74.0" x2="749.47" y2="67.0" stroke-width="1.6"/><line x1="749.47" y1="449.0" x2="749.47" y2="456.0" stroke-width="1.6"/><line x1="480.3" y1="179.47" x2="473.3" y2="179.47" stroke-width="1.6"/><line x1="854.8" y1="179.47" x2="861.8" y2="179.47" stroke-width="1.6"/><line x1="761.17" y1="74.0" x2="761.17" y2="60.0" stroke-width="2"/><line x1="761.17" y1="449.0" x2="761.17" y2="463.0" stroke-width="2"/><line x1="480.3" y1="167.75" x2="466.3" y2="167.75" stroke-width="2"/><line x1="854.8" y1="167.75" x2="868.8" y2="167.75" stroke-width="2"/><line x1="772.88" y1="74.0" x2="772.88" y2="67.0" stroke-width="1.6"/><line x1="772.88" y1="449.0" x2="772.88" y2="456.0" stroke-width="1.6"/><line x1="480.3" y1="156.03" x2="473.3" y2="156.03" stroke-width="1.6"/><line x1="854.8" y1="156.03" x2="861.8" y2="156.03" stroke-width="1.6"/><line x1="784.58" y1="74.0" x2="784.58" y2="67.0" stroke-width="1.6"/><line x1="784.58" y1="449.0" x2="784.58" y2="456.0" stroke-width="1.6"/><line x1="480.3" y1="144.31" x2="473.3" y2="144.31" stroke-width="1.6"/><line x1="854.8" y1="144.31" x2="861.8" y2="144.31" stroke-width="1.6"/><line x1="796.28" y1="74.0" x2="796.28" y2="67.0" stroke-width="1.6"/><line x1="796.28" y1="449.0" x2="796.28" y2="456.0" stroke-width="1.6"/><line x1="480.3" y1="132.59" x2="473.3" y2="132.59" stroke-width="1.6"/><line x1="854.8" y1="132.59" x2="861.8" y2="132.59" stroke-width="1.6"/><line x1="807.99" y1="74.0" x2="807.99" y2="67.0" stroke-width="1.6"/><line x1="807.99" y1="449.0" x2="807.99" y2="456.0" stroke-width="1.6"/><line x1="480.3" y1="120.88" x2="473.3" y2="120.88" stroke-width="1.6"/><line x1="854.8" y1="120.88" x2="861.8" y2="120.88" stroke-width="1.6"/><line x1="819.69" y1="74.0" x2="819.69" y2="67.0" stroke-width="1.6"/><line x1="819.69" y1="449.0" x2="819.69" y2="456.0" stroke-width="1.6"/><line x1="480.3" y1="109.16" x2="473.3" y2="109.16" stroke-width="1.6"/><line x1="854.8" y1="109.16" x2="861.8" y2="109.16" stroke-width="1.6"/><line x1="831.39" y1="74.0" x2="831.39" y2="67.0" stroke-width="1.6"/><line x1="831.39" y1="449.0" x2="831.39" y2="456.0" stroke-width="1.6"/><line x1="480.3" y1="97.44" x2="473.3" y2="97.44" stroke-width="1.6"/><line x1="854.8" y1="97.44" x2="861.8" y2="97.44" stroke-width="1.6"/><line x1="843.10" y1="74.0" x2="843.10" y2="67.0" stroke-width="1.6"/><line x1="843.10" y1="449.0" x2="843.10" y2="456.0" stroke-width="1.6"/><line x1="480.3" y1="85.72" x2="473.3" y2="85.72" stroke-width="1.6"/><line x1="854.8" y1="85.72" x2="861.8" y2="85.72" stroke-width="1.6"/><line x1="854.80" y1="74.0" x2="854.80" y2="60.0" stroke-width="2"/><line x1="854.80" y1="449.0" x2="854.80" y2="463.0" stroke-width="2"/><line x1="480.3" y1="74.00" x2="466.3" y2="74.00" stroke-width="2"/><line x1="854.8" y1="74.00" x2="868.8" y2="74.00" stroke-width="2"/></g>
<text x="60.00" y="24.50" font-size="34" text-anchor="start" textLength="524" lengthAdjust="spacingAndGlyphs">Fukuoka, 20190201 [15:44, el=0.0]</text>
<text x="59.50" y="58.80" font-size="29.5" text-anchor="start" textLength="120" lengthAdjust="spacingAndGlyphs">SNR [dB]</text>
<text x="480.40" y="58.80" font-size="29.5" text-anchor="start" textLength="310" lengthAdjust="spacingAndGlyphs">Doppler Velocity [m/s]</text>
<text x="31.80" y="85.90" font-size="30.5" text-anchor="end" textLength="16.96" lengthAdjust="spacingAndGlyphs">8</text>
<text x="31.80" y="179.65" font-size="30.5" text-anchor="end" textLength="16.96" lengthAdjust="spacingAndGlyphs">4</text>
<text x="31.80" y="273.40" font-size="30.5" text-anchor="end" textLength="16.96" lengthAdjust="spacingAndGlyphs">0</text>
<text x="31.80" y="367.15" font-size="30.5" text-anchor="end" textLength="32.34" lengthAdjust="spacingAndGlyphs">−4</text>
<text x="31.80" y="460.90" font-size="30.5" text-anchor="end" textLength="32.34" lengthAdjust="spacingAndGlyphs">−8</text>
<text x="59.00" y="500.80" font-size="30.5" text-anchor="middle" textLength="32.34" lengthAdjust="spacingAndGlyphs">−8</text>
<text x="152.62" y="500.80" font-size="30.5" text-anchor="middle" textLength="32.34" lengthAdjust="spacingAndGlyphs">−4</text>
<text x="246.25" y="500.80" font-size="30.5" text-anchor="middle" textLength="16.96" lengthAdjust="spacingAndGlyphs">0</text>
<text x="339.88" y="500.80" font-size="30.5" text-anchor="middle" textLength="16.96" lengthAdjust="spacingAndGlyphs">4</text>
<text x="433.50" y="500.80" font-size="30.5" text-anchor="middle" textLength="16.96" lengthAdjust="spacingAndGlyphs">8</text>
<text x="480.30" y="500.80" font-size="30.5" text-anchor="middle" textLength="32.34" lengthAdjust="spacingAndGlyphs">−8</text>
<text x="573.92" y="500.80" font-size="30.5" text-anchor="middle" textLength="32.34" lengthAdjust="spacingAndGlyphs">−4</text>
<text x="667.55" y="500.80" font-size="30.5" text-anchor="middle" textLength="16.96" lengthAdjust="spacingAndGlyphs">0</text>
<text x="761.17" y="500.80" font-size="30.5" text-anchor="middle" textLength="16.96" lengthAdjust="spacingAndGlyphs">4</text>
<text x="854.80" y="500.80" font-size="30.5" text-anchor="middle" textLength="16.96" lengthAdjust="spacingAndGlyphs">8</text>
<rect x="58.50" y="509.4" width="9.11" height="9.200000000000045" fill="#000000" stroke="#000" stroke-width="1.5"/><rect x="67.61" y="509.4" width="9.11" height="9.200000000000045" fill="#000000" stroke="#000" stroke-width="1.5"/><rect x="76.73" y="509.4" width="9.11" height="9.200000000000045" fill="#000000" stroke="#000" stroke-width="1.5"/><rect x="85.84" y="509.4" width="9.11" height="9.200000000000045" fill="#000000" stroke="#000" stroke-width="1.5"/><rect x="94.96" y="509.4" width="9.11" height="9.200000000000045" fill="#000000" stroke="#000" stroke-width="1.5"/><rect x="104.07" y="509.4" width="9.11" height="9.200000000000045" fill="#000000" stroke="#000" stroke-width="1.5"/><rect x="113.19" y="509.4" width="9.11" height="9.200000000000045" fill="#000000" stroke="#000" stroke-width="1.5"/><rect x="122.30" y="509.4" width="9.11" height="9.200000000000045" fill="#000000" stroke="#000" stroke-width="1.5"/><rect x="131.41" y="509.4" width="9.11" height="9.200000000000045" fill="#000000" stroke="#000" stroke-width="1.5"/><rect x="140.53" y="509.4" width="9.11" height="9.200000000000045" fill="#000000" stroke="#000" stroke-width="1.5"/><rect x="149.64" y="509.4" width="9.11" height="9.200000000000045" fill="#0a0a0a" stroke="#000" stroke-width="1.5"/><rect x="158.76" y="509.4" width="9.11" height="9.200000000000045" fill="#131313" stroke="#000" stroke-width="1.5"/><rect x="167.87" y="509.4" width="9.11" height="9.200000000000045" fill="#1d1d1d" stroke="#000" stroke-width="1.5"/><rect x="176.99" y="509.4" width="9.11" height="9.200000000000045" fill="#262626" stroke="#000" stroke-width="1.5"/><rect x="186.10" y="509.4" width="9.11" height="9.200000000000045" fill="#303030" stroke="#000" stroke-width="1.5"/><rect x="195.21" y="509.4" width="9.11" height="9.200000000000045" fill="#3a3a3a" stroke="#000" stroke-width="1.5"/><rect x="204.33" y="509.4" width="9.11" height="9.200000000000045" fill="#434343" stroke="#000" stroke-width="1.5"/><rect x="213.44" y="509.4" width="9.11" height="9.200000000000045" fill="#4d4d4d" stroke="#000" stroke-width="1.5"/><rect x="222.56" y="509.4" width="9.11" height="9.200000000000045" fill="#565656" stroke="#000" stroke-width="1.5"/><rect x="231.67" y="509.4" width="9.11" height="9.200000000000045" fill="#606060" stroke="#000" stroke-width="1.5"/><rect x="240.79" y="509.4" width="9.11" height="9.200000000000045" fill="#6a6a6a" stroke="#000" stroke-width="1.5"/><rect x="249.90" y="509.4" width="9.11" height="9.200000000000045" fill="#737373" stroke="#000" stroke-width="1.5"/><rect x="259.01" y="509.4" width="9.11" height="9.200000000000045" fill="#7d7d7d" stroke="#000" stroke-width="1.5"/><rect x="268.13" y="509.4" width="9.11" height="9.200000000000045" fill="#868686" stroke="#000" stroke-width="1.5"/><rect x="277.24" y="509.4" width="9.11" height="9.200000000000045" fill="#909090" stroke="#000" stroke-width="1.5"/><rect x="286.36" y="509.4" width="9.11" height="9.200000000000045" fill="#9a9a9a" stroke="#000" stroke-width="1.5"/><rect x="295.47" y="509.4" width="9.11" height="9.200000000000045" fill="#a3a3a3" stroke="#000" stroke-width="1.5"/><rect x="304.59" y="509.4" width="9.11" height="9.200000000000045" fill="#adadad" stroke="#000" stroke-width="1.5"/><rect x="313.70" y="509.4" width="9.11" height="9.200000000000045" fill="#b6b6b6" stroke="#000" stroke-width="1.5"/><rect x="322.81" y="509.4" width="9.11" height="9.200000000000045" fill="#c0c0c0" stroke="#000" stroke-width="1.5"/><rect x="331.93" y="509.4" width="9.11" height="9.200000000000045" fill="#cacaca" stroke="#000" stroke-width="1.5"/><rect x="341.04" y="509.4" width="9.11" height="9.200000000000045" fill="#d3d3d3" stroke="#000" stroke-width="1.5"/><rect x="350.16" y="509.4" width="9.11" height="9.200000000000045" fill="#dddddd" stroke="#000" stroke-width="1.5"/><rect x="359.27" y="509.4" width="9.11" height="9.200000000000045" fill="#e6e6e6" stroke="#000" stroke-width="1.5"/><rect x="368.39" y="509.4" width="9.11" height="9.200000000000045" fill="#f0f0f0" stroke="#000" stroke-width="1.5"/><rect x="377.50" y="509.4" width="9.11" height="9.200000000000045" fill="#fafafa" stroke="#000" stroke-width="1.5"/><polygon points="386.61,509.4 396.11,514.0 386.61,518.6" fill="#ffff00" stroke="#000" stroke-width="1.5" stroke-linejoin="miter"/><line x1="58.50" y1="518.6" x2="58.50" y2="533.6" stroke="#000" stroke-width="1.8"/><line x1="67.61" y1="518.6" x2="67.61" y2="526.1" stroke="#000" stroke-width="1.5"/><line x1="76.73" y1="518.6" x2="76.73" y2="526.1" stroke="#000" stroke-width="1.5"/><line x1="85.84" y1="518.6" x2="85.84" y2="526.1" stroke="#000" stroke-width="1.5"/><line x1="94.96" y1="518.6" x2="94.96" y2="526.1" stroke="#000" stroke-width="1.5"/><line x1="104.07" y1="518.6" x2="104.07" y2="533.6" stroke="#000" stroke-width="1.8"/><line x1="113.19" y1="518.6" x2="113.19" y2="526.1" stroke="#000" stroke-width="1.5"/><line x1="122.30" y1="518.6" x2="122.30" y2="526.1" stroke="#000" stroke-width="1.5"/><line x1="131.41" y1="518.6" x2="131.41" y2="526.1" stroke="#000" stroke-width="1.5"/><line x1="140.53" y1="518.6" x2="140.53" y2="526.1" stroke="#000" stroke-width="1.5"/><line x1="149.64" y1="518.6" x2="149.64" y2="533.6" stroke="#000" stroke-width="1.8"/><line x1="158.76" y1="518.6" x2="158.76" y2="526.1" stroke="#000" stroke-width="1.5"/><line x1="167.87" y1="518.6" x2="167.87" y2="526.1" stroke="#000" stroke-width="1.5"/><line x1="176.99" y1="518.6" x2="176.99" y2="526.1" stroke="#000" stroke-width="1.5"/><line x1="186.10" y1="518.6" x2="186.10" y2="526.1" stroke="#000" stroke-width="1.5"/><line x1="195.21" y1="518.6" x2="195.21" y2="533.6" stroke="#000" stroke-width="1.8"/><line x1="204.33" y1="518.6" x2="204.33" y2="526.1" stroke="#000" stroke-width="1.5"/><line x1="213.44" y1="518.6" x2="213.44" y2="526.1" stroke="#000" stroke-width="1.5"/><line x1="222.56" y1="518.6" x2="222.56" y2="526.1" stroke="#000" stroke-width="1.5"/><line x1="231.67" y1="518.6" x2="231.67" y2="526.1" stroke="#000" stroke-width="1.5"/><line x1="240.79" y1="518.6" x2="240.79" y2="533.6" stroke="#000" stroke-width="1.8"/><line x1="249.90" y1="518.6" x2="249.90" y2="526.1" stroke="#000" stroke-width="1.5"/><line x1="259.01" y1="518.6" x2="259.01" y2="526.1" stroke="#000" stroke-width="1.5"/><line x1="268.13" y1="518.6" x2="268.13" y2="526.1" stroke="#000" stroke-width="1.5"/><line x1="277.24" y1="518.6" x2="277.24" y2="526.1" stroke="#000" stroke-width="1.5"/><line x1="286.36" y1="518.6" x2="286.36" y2="533.6" stroke="#000" stroke-width="1.8"/><line x1="295.47" y1="518.6" x2="295.47" y2="526.1" stroke="#000" stroke-width="1.5"/><line x1="304.59" y1="518.6" x2="304.59" y2="526.1" stroke="#000" stroke-width="1.5"/><line x1="313.70" y1="518.6" x2="313.70" y2="526.1" stroke="#000" stroke-width="1.5"/><line x1="322.81" y1="518.6" x2="322.81" y2="526.1" stroke="#000" stroke-width="1.5"/><line x1="331.93" y1="518.6" x2="331.93" y2="533.6" stroke="#000" stroke-width="1.8"/><line x1="341.04" y1="518.6" x2="341.04" y2="526.1" stroke="#000" stroke-width="1.5"/><line x1="350.16" y1="518.6" x2="350.16" y2="526.1" stroke="#000" stroke-width="1.5"/><line x1="359.27" y1="518.6" x2="359.27" y2="526.1" stroke="#000" stroke-width="1.5"/><line x1="368.39" y1="518.6" x2="368.39" y2="526.1" stroke="#000" stroke-width="1.5"/><line x1="377.50" y1="518.6" x2="377.50" y2="533.6" stroke="#000" stroke-width="1.8"/><line x1="386.61" y1="518.6" x2="386.61" y2="526.1" stroke="#000" stroke-width="1.5"/><text x="58.50" y="570.90" font-size="30.5" text-anchor="middle" textLength="16.96" lengthAdjust="spacingAndGlyphs">0</text><text x="104.07" y="570.90" font-size="30.5" text-anchor="middle" textLength="42.4" lengthAdjust="spacingAndGlyphs">2.5</text><text x="149.64" y="570.90" font-size="30.5" text-anchor="middle" textLength="16.96" lengthAdjust="spacingAndGlyphs">5</text><text x="195.21" y="570.90" font-size="30.5" text-anchor="middle" textLength="42.4" lengthAdjust="spacingAndGlyphs">7.5</text><text x="240.79" y="570.90" font-size="30.5" text-anchor="middle" textLength="33.92" lengthAdjust="spacingAndGlyphs">10</text><text x="286.36" y="570.90" font-size="30.5" text-anchor="middle" textLength="59.35" lengthAdjust="spacingAndGlyphs">12.5</text><text x="331.93" y="570.90" font-size="30.5" text-anchor="middle" textLength="33.92" lengthAdjust="spacingAndGlyphs">15</text><text x="377.50" y="570.90" font-size="30.5" text-anchor="middle" textLength="59.35" lengthAdjust="spacingAndGlyphs">17.5</text><rect x="480.12" y="509.4" width="8.62" height="9.200000000000045" fill="#d0ffff" stroke="#000" stroke-width="1.5"/><rect x="488.75" y="509.4" width="8.62" height="9.200000000000045" fill="#b8ffff" stroke="#000" stroke-width="1.5"/><rect x="497.38" y="509.4" width="8.62" height="9.200000000000045" fill="#a0ffff" stroke="#000" stroke-width="1.5"/><rect x="506.00" y="509.4" width="8.62" height="9.200000000000045" fill="#88ffff" stroke="#000" stroke-width="1.5"/><rect x="514.62" y="509.4" width="8.62" height="9.200000000000045" fill="#70ffff" stroke="#000" stroke-width="1.5"/><rect x="523.25" y="509.4" width="8.62" height="9.200000000000045" fill="#48e0f8" stroke="#000" stroke-width="1.5"/><rect x="531.88" y="509.4" width="8.62" height="9.200000000000045" fill="#38c8f8" stroke="#000" stroke-width="1.5"/><rect x="540.50" y="509.4" width="8.62" height="9.200000000000045" fill="#20b8ff" stroke="#000" stroke-width="1.5"/><rect x="549.12" y="509.4" width="8.62" height="9.200000000000045" fill="#10a0ff" stroke="#000" stroke-width="1.5"/><rect x="557.75" y="509.4" width="8.62" height="9.200000000000045" fill="#0a80ff" stroke="#000" stroke-width="1.5"/><rect x="566.38" y="509.4" width="8.62" height="9.200000000000045" fill="#0a68ff" stroke="#000" stroke-width="1.5"/><rect x="575.00" y="509.4" width="8.62" height="9.200000000000045" fill="#0848ff" stroke="#000" stroke-width="1.5"/><rect x="583.62" y="509.4" width="8.62" height="9.200000000000045" fill="#0010ff" stroke="#000" stroke-width="1.5"/><rect x="592.25" y="509.4" width="8.62" height="9.200000000000045" fill="#0000f0" stroke="#000" stroke-width="1.5"/><rect x="600.88" y="509.4" width="8.62" height="9.200000000000045" fill="#0000d0" stroke="#000" stroke-width="1.5"/><rect x="609.50" y="509.4" width="8.62" height="9.200000000000045" fill="#0000b0" stroke="#000" stroke-width="1.5"/><rect x="618.12" y="509.4" width="8.62" height="9.200000000000045" fill="#000090" stroke="#000" stroke-width="1.5"/><rect x="626.75" y="509.4" width="8.62" height="9.200000000000045" fill="#000078" stroke="#000" stroke-width="1.5"/><rect x="635.38" y="509.4" width="8.62" height="9.200000000000045" fill="#000058" stroke="#000" stroke-width="1.5"/><rect x="644.00" y="509.4" width="8.62" height="9.200000000000045" fill="#f00000" stroke="#000" stroke-width="1.5"/><rect x="652.62" y="509.4" width="8.62" height="9.200000000000045" fill="#ff1400" stroke="#000" stroke-width="1.5"/><rect x="661.25" y="509.4" width="8.62" height="9.200000000000045" fill="#ff3000" stroke="#000" stroke-width="1.5"/><rect x="669.88" y="509.4" width="8.62" height="9.200000000000045" fill="#ff4000" stroke="#000" stroke-width="1.5"/><rect x="678.50" y="509.4" width="8.62" height="9.200000000000045" fill="#ff6000" stroke="#000" stroke-width="1.5"/><rect x="687.12" y="509.4" width="8.62" height="9.200000000000045" fill="#ff7800" stroke="#000" stroke-width="1.5"/><rect x="695.75" y="509.4" width="8.62" height="9.200000000000045" fill="#ff8800" stroke="#000" stroke-width="1.5"/><rect x="704.38" y="509.4" width="8.62" height="9.200000000000045" fill="#ffa010" stroke="#000" stroke-width="1.5"/><rect x="713.00" y="509.4" width="8.62" height="9.200000000000045" fill="#ffb020" stroke="#000" stroke-width="1.5"/><rect x="721.62" y="509.4" width="8.62" height="9.200000000000045" fill="#ffb828" stroke="#000" stroke-width="1.5"/><rect x="730.25" y="509.4" width="8.62" height="9.200000000000045" fill="#ffd838" stroke="#000" stroke-width="1.5"/><rect x="738.88" y="509.4" width="8.62" height="9.200000000000045" fill="#fff048" stroke="#000" stroke-width="1.5"/><rect x="747.50" y="509.4" width="8.62" height="9.200000000000045" fill="#ffff60" stroke="#000" stroke-width="1.5"/><rect x="756.12" y="509.4" width="8.62" height="9.200000000000045" fill="#ffff70" stroke="#000" stroke-width="1.5"/><rect x="764.75" y="509.4" width="8.62" height="9.200000000000045" fill="#ffff90" stroke="#000" stroke-width="1.5"/><rect x="773.38" y="509.4" width="8.62" height="9.200000000000045" fill="#ffffa0" stroke="#000" stroke-width="1.5"/><rect x="782.00" y="509.4" width="8.62" height="9.200000000000045" fill="#ffffb8" stroke="#000" stroke-width="1.5"/><rect x="790.62" y="509.4" width="8.62" height="9.200000000000045" fill="#ffffc8" stroke="#000" stroke-width="1.5"/><rect x="799.25" y="509.4" width="8.62" height="9.200000000000045" fill="#ffffe0" stroke="#000" stroke-width="1.5"/><polygon points="807.88,509.4 817.38,514.0 807.88,518.6" fill="#fffff0" stroke="#000" stroke-width="1.5" stroke-linejoin="miter"/><polygon points="480.12,509.4 470.82,514.0 480.12,518.6" fill="#e8ffff" stroke="#000" stroke-width="1.5" stroke-linejoin="miter"/><line x1="480.12" y1="518.6" x2="480.12" y2="526.1" stroke="#000" stroke-width="1.5"/><line x1="488.75" y1="518.6" x2="488.75" y2="526.1" stroke="#000" stroke-width="1.5"/><line x1="497.38" y1="518.6" x2="497.38" y2="526.1" stroke="#000" stroke-width="1.5"/><line x1="506.00" y1="518.6" x2="506.00" y2="533.6" stroke="#000" stroke-width="1.8"/><line x1="514.62" y1="518.6" x2="514.62" y2="526.1" stroke="#000" stroke-width="1.5"/><line x1="523.25" y1="518.6" x2="523.25" y2="526.1" stroke="#000" stroke-width="1.5"/><line x1="531.88" y1="518.6" x2="531.88" y2="526.1" stroke="#000" stroke-width="1.5"/><line x1="540.50" y1="518.6" x2="540.50" y2="526.1" stroke="#000" stroke-width="1.5"/><line x1="549.12" y1="518.6" x2="549.12" y2="526.1" stroke="#000" stroke-width="1.5"/><line x1="557.75" y1="518.6" x2="557.75" y2="526.1" stroke="#000" stroke-width="1.5"/><line x1="566.38" y1="518.6" x2="566.38" y2="526.1" stroke="#000" stroke-width="1.5"/><line x1="575.00" y1="518.6" x2="575.00" y2="533.6" stroke="#000" stroke-width="1.8"/><line x1="583.62" y1="518.6" x2="583.62" y2="526.1" stroke="#000" stroke-width="1.5"/><line x1="592.25" y1="518.6" x2="592.25" y2="526.1" stroke="#000" stroke-width="1.5"/><line x1="600.88" y1="518.6" x2="600.88" y2="526.1" stroke="#000" stroke-width="1.5"/><line x1="609.50" y1="518.6" x2="609.50" y2="526.1" stroke="#000" stroke-width="1.5"/><line x1="618.12" y1="518.6" x2="618.12" y2="526.1" stroke="#000" stroke-width="1.5"/><line x1="626.75" y1="518.6" x2="626.75" y2="526.1" stroke="#000" stroke-width="1.5"/><line x1="635.38" y1="518.6" x2="635.38" y2="526.1" stroke="#000" stroke-width="1.5"/><line x1="644.00" y1="518.6" x2="644.00" y2="533.6" stroke="#000" stroke-width="1.8"/><line x1="652.62" y1="518.6" x2="652.62" y2="526.1" stroke="#000" stroke-width="1.5"/><line x1="661.25" y1="518.6" x2="661.25" y2="526.1" stroke="#000" stroke-width="1.5"/><line x1="669.88" y1="518.6" x2="669.88" y2="526.1" stroke="#000" stroke-width="1.5"/><line x1="678.50" y1="518.6" x2="678.50" y2="526.1" stroke="#000" stroke-width="1.5"/><line x1="687.12" y1="518.6" x2="687.12" y2="526.1" stroke="#000" stroke-width="1.5"/><line x1="695.75" y1="518.6" x2="695.75" y2="526.1" stroke="#000" stroke-width="1.5"/><line x1="704.38" y1="518.6" x2="704.38" y2="526.1" stroke="#000" stroke-width="1.5"/><line x1="713.00" y1="518.6" x2="713.00" y2="533.6" stroke="#000" stroke-width="1.8"/><line x1="721.62" y1="518.6" x2="721.62" y2="526.1" stroke="#000" stroke-width="1.5"/><line x1="730.25" y1="518.6" x2="730.25" y2="526.1" stroke="#000" stroke-width="1.5"/><line x1="738.88" y1="518.6" x2="738.88" y2="526.1" stroke="#000" stroke-width="1.5"/><line x1="747.50" y1="518.6" x2="747.50" y2="526.1" stroke="#000" stroke-width="1.5"/><line x1="756.12" y1="518.6" x2="756.12" y2="526.1" stroke="#000" stroke-width="1.5"/><line x1="764.75" y1="518.6" x2="764.75" y2="526.1" stroke="#000" stroke-width="1.5"/><line x1="773.38" y1="518.6" x2="773.38" y2="526.1" stroke="#000" stroke-width="1.5"/><line x1="782.00" y1="518.6" x2="782.00" y2="533.6" stroke="#000" stroke-width="1.8"/><line x1="790.62" y1="518.6" x2="790.62" y2="526.1" stroke="#000" stroke-width="1.5"/><line x1="799.25" y1="518.6" x2="799.25" y2="526.1" stroke="#000" stroke-width="1.5"/><line x1="807.88" y1="518.6" x2="807.88" y2="526.1" stroke="#000" stroke-width="1.5"/><text x="506.00" y="570.90" font-size="30.5" text-anchor="middle" textLength="32.34" lengthAdjust="spacingAndGlyphs">−8</text><text x="575.00" y="570.90" font-size="30.5" text-anchor="middle" textLength="32.34" lengthAdjust="spacingAndGlyphs">−4</text><text x="644.00" y="570.90" font-size="30.5" text-anchor="middle" textLength="16.96" lengthAdjust="spacingAndGlyphs">0</text><text x="713.00" y="570.90" font-size="30.5" text-anchor="middle" textLength="16.96" lengthAdjust="spacingAndGlyphs">4</text><text x="782.00" y="570.90" font-size="30.5" text-anchor="middle" textLength="16.96" lengthAdjust="spacingAndGlyphs">8</text>
</svg></body></html>
